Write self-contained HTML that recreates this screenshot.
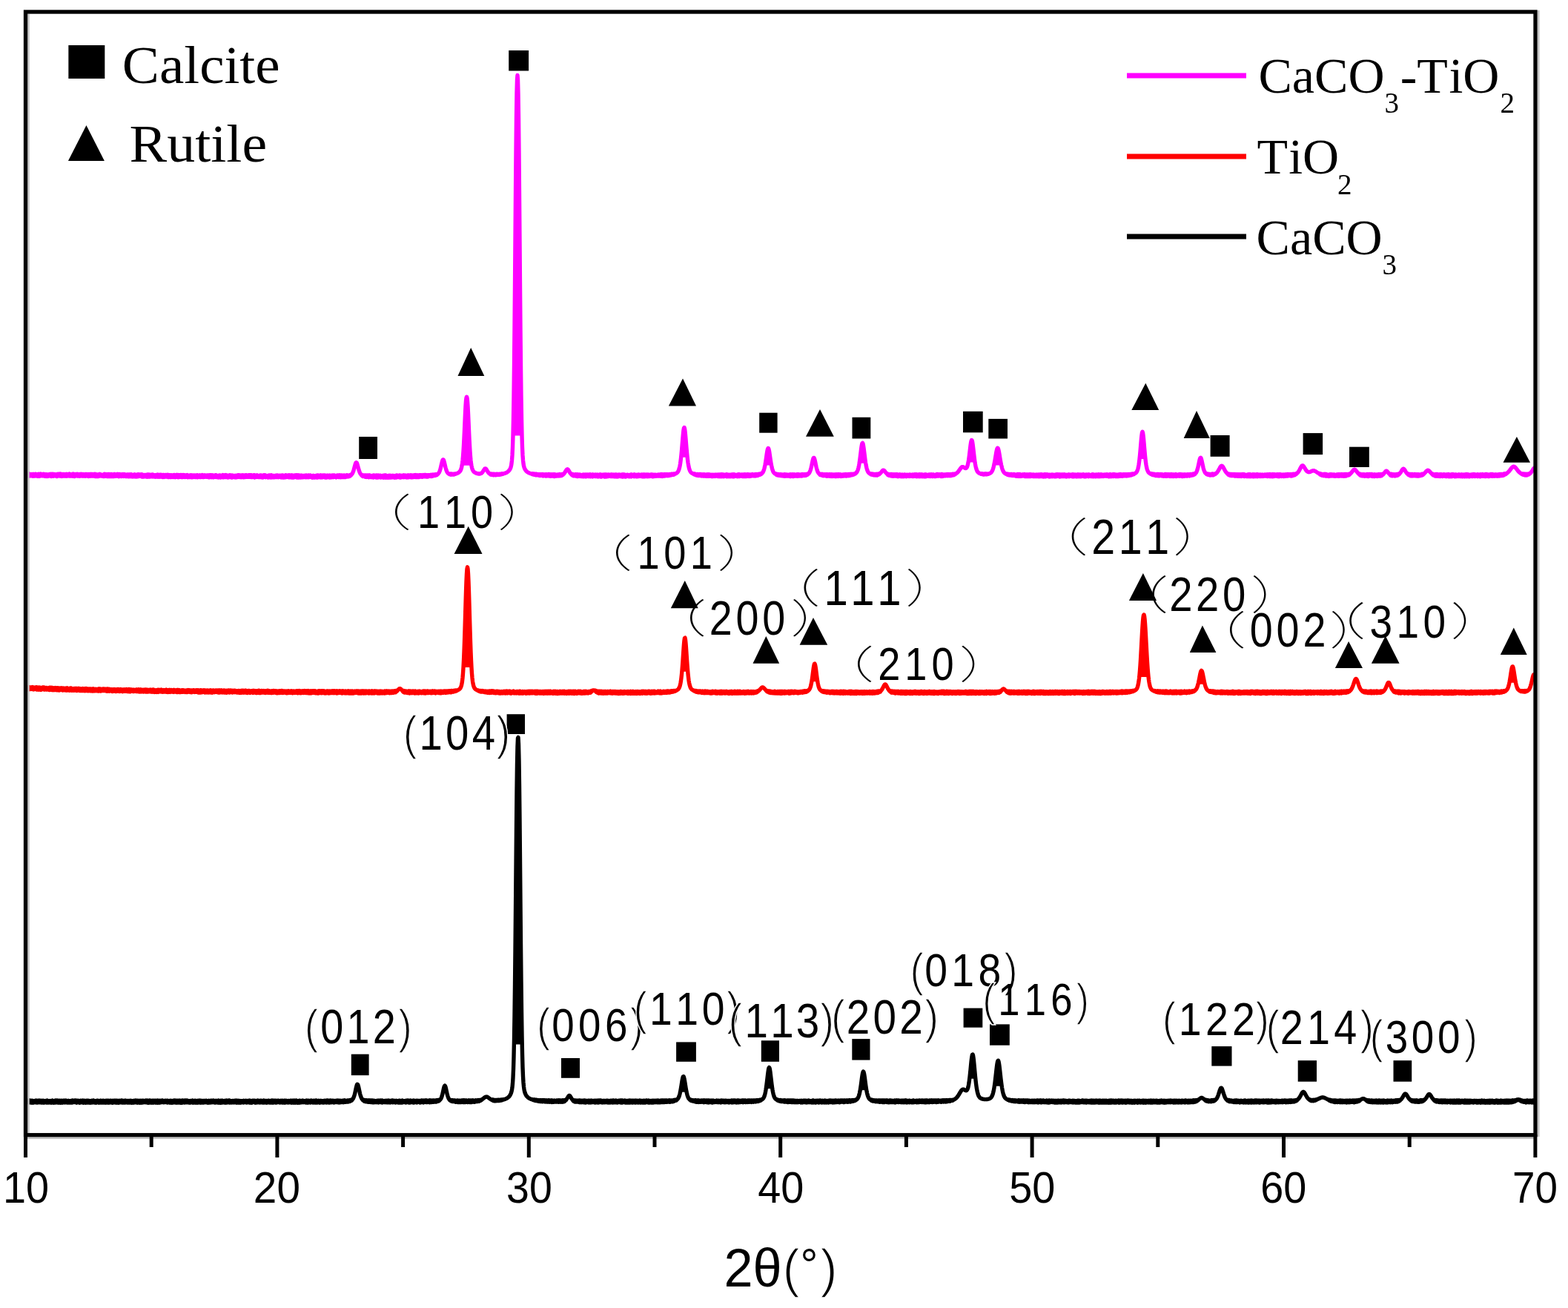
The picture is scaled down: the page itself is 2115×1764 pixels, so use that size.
<!DOCTYPE html><html><head><meta charset="utf-8"><title>XRD patterns</title>
<style>html,body{margin:0;padding:0;background:#fff;}svg{display:block;}text{font-kerning:none;font-feature-settings:"kern" 0;}.thin{stroke:#fff;stroke-width:1.6px;}</style></head><body>
<svg width="2115" height="1764" viewBox="0 0 2115 1764">
<rect width="2115" height="1764" fill="#fff"/>
<g fill="none" stroke-width="5.4" stroke-linejoin="round" stroke-linecap="butt">
<path stroke="#ff00ff" d="M36.0 639.1l.5 2.7l.5-2.5l.5 2.6l.5-2.4l.5 1.9l.5-2.5l.5 3.2l.5-2.9l.5 2.3l.5-1.6l.5 1.9l.5-2l.5 2l.5-2.2l.5 1.9l.5-1.9l.5 2.6l.5-2.7l.5 2.6l.5-2.5l.5 1.8l.5-1.7l.5 2.2l.5-2.7l.5 2.2l.5-1.6l.5 2l.5-2.1l.5 2.5l.5-2.5l.5 2.6l.5-3l.5 2.8l.5-2.7l.5 2.9l.5-2.5l.5 1.7l.5-2.4l.5 2.5l.5-1.7l.5 1.9l.5-2.2l.5 2.1l.5-2.2l.5 2.3l.5-2.5l.5 2.7l.5-2.4l.5 2.7l.5-2.6l.5 2.6l.5-2.5l.5 2.6l.5-2.7l.5 1.9l.5-1.7l.5 2.5l.5-2.5l.5 2.1l.5-2.3l.5 1.9l.5-1.8l.5 2.2l.5-2.7l.5 2.2l.5-1.6l.5 2.5l.5-3.3l.5 3.1l.5-2.8l.5 2.2l.5-2.3l.5 2.9l.5-2.3l.5 1.6l.5-1.9l.5 1.9l.5-1.7l.5 2l.5-1.9l.5 2.5l.5-2.9l.5 2.9l.5-3l.5 2.1l.5-1.9l.5 1.9l.5-2.3l.5 2.7l.5-2.2l.5 1.9l.5-2.5l.5 3.2l.5-2.9l.5 3l.5-2.4l.5 1.8l.5-2.3l.5 2.5l.5-2.3l.5 2.4l.5-2.5l.5 2.5l.5-2.1l.5 2l.5-2.5l.5 2.7l.5-2.9l.5 2.5l.5-1.7l.5 1.9l.5-2.4l.5 1.9l.5-2l.5 2.6l.5-3l.5 3l.5-2.4l.5 1.9l.5-1.9l.5 2.3l.5-2.2l.5 2.1l.5-2.1l.5 2.4l.5-3.1l.5 2.5l.5-1.8l.5 2.7l.5-3.1l.5 2.6l.5-2.3l.5 2.1l.5-2.3l.5 2.3l.5-2.3l.5 2.6l.5-2.7l.5 2.5l.5-2l.5 1.7l.5-1.9l.5 2.6l.5-2.8l.5 2.3l.5-1.8l.5 1.8l.5-2.5l.5 2.7l.5-2.1l.5 1.8l.5-2.2l.5 2.4l.5-1.9l.5 2l.5-2l.5 1.7l.5-2.2l.5 2.7l.5-2.1l.5 1.9l.5-2.6l.5 2.3l.5-2l.5 2.1l.5-1.8l.5 2.4l.5-3l.5 2.5l.5-1.9l.5 2.2l.5-2.2l.5 1.9l.5-2.6l.5 2.6l.5-1.9l.5 1.9l.5-2.3l.5 2.4l.5-2.4l.5 2.4l.5-1.9l.5 1.7l.5-2.6l.5 3.4l.5-2.5l.5 2.5l.5-2.9l.5 2.9l.5-2.4l.5 1.6l.5-1.8l.5 2.5l.5-2.6l.5 2.2l.5-2.6l.5 2.5l.5-2.5l.5 2.2l.5-1.9l.5 2.1l.5-1.8l.5 1.6l.5-1.5l.5 2.1l.5-2.1l.5 2.3l.5-2.3l.5 2l.5-2.9l.5 3.1l.5-3l.5 2.6l.5-2.1l.5 2.3l.5-2.5l.5 2.9l.5-2.7l.5 2.1l.5-2.5l.5 3l.5-2.7l.5 2.7l.5-2.9l.5 2.3l.5-2.1l.5 2.7l.5-3l.5 3l.5-2.3l.5 2.3l.5-2.4l.5 1.6l.5-1.7l.5 2.6l.5-3.2l.5 2.6l.5-2.4l.5 2.7l.5-2.5l.5 2.4l.5-2l.5 1.6l.5-2.4l.5 2.5l.5-2.4l.5 2.4l.5-1.5l.5 2.3l.5-3.2l.5 2.8l.5-2.5l.5 2.4l.5-2.4l.5 2.7l.5-2.5l.5 2.2l.5-2.5l.5 2.5l.5-2.6l.5 2.8l.5-2.2l.5 2.1l.5-2.7l.5 2.5l.5-2.2l.5 2.6l.5-2.2l.5 2l.5-2l.5 2.3l.5-2.6l.5 2.3l.5-2.2l.5 2.6l.5-2.7l.5 2.7l.5-2.6l.5 2.1l.5-2.1l.5 2.6l.5-3l.5 2.7l.5-2.3l.5 2.8l.5-2.3l.5 1.8l.5-1.8l.5 2.2l.5-2.9l.5 2.6l.5-2.7l.5 3.1l.5-2.5l.5 2.6l.5-2.5l.5 2.3l.5-2.4l.5 2.3l.5-2.9l.5 2.9l.5-3l.5 2.6l.5-1.8l.5 1.7l.5-2.3l.5 2.4l.5-1.6l.5 1.7l.5-2.6l.5 3.2l.5-3.1l.5 3.1l.5-2.5l.5 2.5l.5-2.2l.5 2l.5-2.2l.5 1.7l.5-1.7l.5 2.2l.5-2.2l.5 1.8l.5-1.8l.5 2.6l.5-3.3l.5 2.7l.5-2.1l.5 2.6l.5-3l.5 2.4l.5-2.3l.5 2.7l.5-2.2l.5 2l.5-2.4l.5 2.4l.5-2.4l.5 2.5l.5-2.8l.5 2.9l.5-2l.5 1.9l.5-2.1l.5 1.8l.5-1.8l.5 2.5l.5-2.5l.5 2.2l.5-2.4l.5 2.6l.5-2.2l.5 1.7l.5-2.5l.5 3.1l.5-2.2l.5 2l.5-2.5l.5 2.7l.5-2.9l.5 2.4l.5-2.4l.5 2.8l.5-2.7l.5 2.3l.5-1.9l.5 2.7l.5-3.1l.5 2.8l.5-2.6l.5 2.8l.5-2.7l.5 2.1l.5-2.4l.5 2.2l.5-1.9l.5 2.3l.5-2.6l.5 2.5l.5-2.4l.5 2.9l.5-3l.5 3.2l.5-2.9l.5 2.5l.5-2.5l.5 2.8l.5-2.4l.5 2.1l.5-2.5l.5 2.7l.5-2.3l.5 2l.5-2.1l.5 2.6l.5-2.8l.5 2.1l.5-2.4l.5 2.9l.5-2.4l.5 2.7l.5-2.5l.5 1.8l.5-2.5l.5 2.5l.5-2.5l.5 3l.5-2.3l.5 2.5l.5-3.1l.5 3l.5-2.9l.5 2.5l.5-2.1l.5 1.8l.5-2.4l.5 3.1l.5-2.9l.5 2.5l.5-2.2l.5 2.5l.5-3l.5 2.7l.5-2.3l.5 2.4l.5-2.6l.5 2.8l.5-2.1l.5 1.9l.5-2.3l.5 2l.5-2.2l.5 2.8l.5-3l.5 3.2l.5-2.4l.5 1.6l.5-1.6l.5 1.9l.5-2l.5 2.3l.5-2.8l.5 2.8l.5-2.4l.5 2.5l.5-2.9l.5 2.9l.5-2.2l.5 2.1l.5-2.5l.5 1.9l.5-2l.5 2.3l.5-2.1l.5 2.4l.5-2.5l.5 2l.5-1.9l.5 2.3l.5-2.8l.5 3.1l.5-2.6l.5 1.8l.5-1.5l.5 1.6l.5-2.2l.5 2.7l.5-2.5l.5 2.4l.5-2.3l.5 2.2l.5-2.5l.5 2.2l.5-2.5l.5 3l.5-2.3l.5 2.2l.5-2.2l.5 2l.5-2.5l.5 2.5l.5-1.9l.5 1.6l.5-1.9l.5 2.1l.5-1.9l.5 2l.5-2.4l.5 2.4l.5-2.2l.5 2.6l.5-2.8l.5 2.9l.5-3.1l.5 2.5l.5-2.5l.5 2.4l.5-1.8l.5 2.4l.5-2.9l.5 2.3l.5-2.1l.5 2.7l.5-2.3l.5 2.3l.5-2.5l.5 1.9l.5-2.1l.5 2.2l.5-2.1l.5 2.4l.5-2.7l.5 2.4l.5-1.8l.5 1.6l.5-1.6l.5 2.5l.5-2.4l.5 1.9l.5-2.3l.5 2.5l.5-2.4l.5 2.8l.5-2.7l.5 2l.5-1.8l.5 2l.5-2.3l.5 2.5l.5-3.1l.5 3.2l.5-2.5l.5 2.2l.5-2.4l.5 2.3l.5-2.6l.5 2.7l.5-2.9l.5 2.9l.5-2.2l.5 2.1l.5-2.2l.5 2.8l.5-2.5l.5 1.6l.5-1.7l.5 2.2l.5-2.9l.5 2.7l.5-2.5l.5 2.2l.5-1.9l.5 2.7l.5-3l.5 3l.5-2.6l.5 1.8l.5-1.6l.5 2.1l.5-2l.5 2.1l.5-2.3l.5 2l.5-2l.5 2.5l.5-2.4l.5 2l.5-2.1l.5 2.1l.5-2.7l.5 2.3l.5-2.4l.5 2.5l.5-2.4l.5 2.7l.5-2.2l.5 2.3l.5-2.5l.5 2.6l.5-2.7l.5 2.5l.5-2.1l.5 2l.5-2.6l.5 3.1l.5-2.5l.5 2l.5-2.4l.5 2.6l.5-2.3l.5 2l.5-2.6l.5 2.6l.5-1.9l.5 1.8l.5-2.1l.5 2.1l.5-2.3l.5 2.3l.5-2.1l.5 2.1l.5-2.5l.5 2.5l.5-2.4l.5 2.7l.5-2.8l.5 2.4l.5-2l.5 2.4l.5-2.1l.5 1.7l.5-2l.5 2.4l.5-2.8l.5 3.3l.5-3.1l.5 2.3l.5-2l.5 2l.5-1.9l.5 2.1l.5-2.6l.5 2.3l.5-1.7l.5 2l.5-1.9l.5 2l.5-1.9l.5 1.8l.5-2.4l.5 2.3l.5-1.8l.5 2.2l.5-2.6l.5 2.1l.5-1.8l.5 2.7l.5-2.8l.5 1.8l.5-2.4l.5 2.5l.5-2.3l.5 2.2l.5-2.3l.5 2.9l.5-2.1l.5 1.7l.5-1.6l.5 1.9l.5-2.1l.5 2.5l.5-2.3l.5 1.4l.5-2.1l.5 2.7l.5-2l.5 1.5l.5-2.2l.5 3l.5-3.2l.5 2.7l.5-2.4l.5 2.7l.5-2.1l.5 1.6l.5-1.8l.5 2.3l.5-2.2l.5 2.1l.5-2l.5 1.8l.5-2.3l.5 2.2l.5-1.9l.5 2.1l.5-2.6l.5 2.3l.5-1.8l.5 2.2l.5-2.2l.5 2l.5-2.3l.5 2.1l.5-1.8l.5 1.7l.5-2l.5 2.7l.5-2.5l.5 1.8l.5-2.2l.5 3l.5-2.6l.5 2.6l.5-2.4l.5 2l.5-1.9l.5 2.2l.5-2.8l.5 2.4l.5-2.7l.5 2.7l.5-1.8l.5 1.6l.5-2l.5 2l.5-2.4l.5 2.9l.5-2.8l.5 2.2l.5-2.3l.5 2.9l.5-2.4l.5 1.8l.5-2.2l.5 3.1l.5-3.1l.5 2.7l.5-2.5l.5 2.7l.5-2.5l.5 2.5l.5-2.6l.5 2.1l.5-2.4l.5 2.2l.5-1.6l.5 1.7l.5-2.5l.5 3.3l.5-3.1l.5 3.1l.5-3.2l.5 2.7l.5-2.6l.5 3l.5-2.6l.5 2.4l.5-2.2l.5 2.4l.5-2.8l.5 2.6l.5-2.5l.5 2l.5-1.7l.5 2.2l.5-2.2l.5 1.8l.5-2l.5 2.2l.5-2.1l.5 1.8l.5-2.1l.5 2.5l.5-2.8l.5 2.8l.5-2.1l.5 2l.5-2.1l.5 2.3l.5-2.8l.5 2.5l.5-1.7l.5 1.7l.5-2.2l.5 2l.5-2.2l.5 2.3l.5-1.6l.5 2.1l.5-2.2l.5 2.5l.5-2.8l.5 2.7l.5-2.7l.5 2.2l.5-1.8l.5 2.3l.5-2.3l.5 1.9l.5-2.1l.5 2l.5-1.8l.5 2.3l.5-3l.5 3l.5-3.1l.5 2.3l.5-1.7l.5 1.9l.5-2.1l.5 2.4l.5-2.9l.5 3l.5-2.8l.5 2.5l.5-2.4l.5 2.7l.5-2.3l.5 1.9l.5-2.5l.5 2.5l.5-2.2l.5 2l.5-2.3l.5 2.9l.5-2.4l.5 2.6l.5-2.3l.5 2.2l.5-2.8l.5 2.1l.5-2.1l.5 2.4l.5-2.2l.5 2.3l.5-2.5l.5 2.8l.5-2.9l.5 2.5l.5-1.9l.5 2.2l.5-2.7l.5 2.2l.5-1.8l.5 1.6l.5-2.2l.5 2.7l.5-2.3l.5 1.9l.5-2.4l.5 2.4l.5-1.7l.5 2l.5-1.8l.5 2.1l.5-2.1l.5 1.3l.5-2.1l.5 2.1l.5-1.8l.5 2.1l.5-2.5l.5 2.7l.5-2.7l.5 2.4l.5-2.2l.5 2.7l.5-2.6l.5 2l.5-2.3l.5 2.5l.5-2l.5 2.1l.5-1.9l.5 2l.5-2.6l.5 2l.5-1.6l.5 2.1l.5-2.3l.5 2.2l.5-2.2l.5 1.7l.5-2.1l.5 1.7l.5-1.4l.5 1.9l.5-1.8l.5 1.3l.5-1.5l.5 1.5l.5-1.6l.5 .9l.5-1.4l.5 .6l.5-1.1l.5-.2l.5-.7l.5-.8l.5-1.1l.5-1.3l.5-1.5l.5-1.7l.5-1.9l.5-1.9l.5-1.8l.5-1.7l.5-1.1l.5-.5l.5 .2l.5 .9l.5 1.5l.5 1.8l.5 1.9l.5 1.9l.5 1.8l.5 1.5l.5 1.4l.5 1.2l.5 .9l.5 .8l.5 .4l.5 1l.5-.6l.5 1.4l.5-.8l.5 1.6l.5-1.6l.5 1.4l.5-1l.5 1.2l.5-1.5l.5 2.2l.5-2.2l.5 1.9l.5-1.4l.5 2l.5-2.4l.5 2l.5-2l.5 1.9l.5-1.9l.5 2.7l.5-2.9l.5 2.3l.5-2.1l.5 2l.5-1.7l.5 2.3l.5-2l.5 1.9l.5-1.9l.5 1.4l.5-1.9l.5 2.8l.5-3l.5 2.4l.5-2l.5 2l.5-1.9l.5 1.7l.5-2l.5 2.9l.5-3l.5 2.9l.5-2.9l.5 3l.5-2.5l.5 2.2l.5-2.7l.5 2.2l.5-1.6l.5 1.7l.5-2.2l.5 2.8l.5-2.2l.5 1.5l.5-1.4l.5 1.9l.5-2.4l.5 2l.5-2l.5 2.8l.5-2.9l.5 2.1l.5-2.3l.5 2.3l.5-2.1l.5 2.9l.5-3.1l.5 2.4l.5-1.6l.5 2.3l.5-2.3l.5 1.6l.5-2.1l.5 2.8l.5-2.7l.5 2.5l.5-2.7l.5 2l.5-1.9l.5 2.6l.5-2.2l.5 2l.5-2.3l.5 2.3l.5-2.3l.5 2.3l.5-2l.5 1.7l.5-1.9l.5 2.6l.5-2.4l.5 1.6l.5-1.5l.5 2.1l.5-2.9l.5 2.4l.5-2.4l.5 2.2l.5-1.4l.5 1.7l.5-1.9l.5 1.6l.5-2.4l.5 3.1l.5-2.4l.5 2.5l.5-2.6l.5 2.1l.5-2l.5 1.6l.5-1.8l.5 2.1l.5-2.5l.5 2.7l.5-2.6l.5 2.4l.5-2.3l.5 2.2l.5-2.3l.5 2.5l.5-1.9l.5 2.2l.5-2.3l.5 2.2l.5-2.8l.5 2.9l.5-2.9l.5 2.1l.5-1.9l.5 2.4l.5-2.6l.5 2.5l.5-2.6l.5 2.9l.5-2.7l.5 2.2l.5-2.2l.5 2.6l.5-2.2l.5 1.8l.5-2.3l.5 2.4l.5-2.7l.5 2.5l.5-1.8l.5 2.1l.5-2.9l.5 2.9l.5-2.6l.5 2.7l.5-2.7l.5 2l.5-1.9l.5 2.5l.5-2.6l.5 2.5l.5-2.3l.5 1.9l.5-2.3l.5 2.3l.5-2.2l.5 2.1l.5-1.9l.5 2.3l.5-2.4l.5 1.7l.5-2l.5 2.2l.5-1.9l.5 1.7l.5-2.2l.5 2.3l.5-2.1l.5 1.8l.5-1.6l.5 2.3l.5-2.4l.5 2.2l.5-2l.5 2l.5-1.9l.5 1.5l.5-1.8l.5 1.5l.5-1.3l.5 1.4l.5-1.8l.5 2.1l.5-2.3l.5 1.7l.5-1.4l.5 1.6l.5-2.1l.5 1.5l.5-1.4l.5 1.3l.5-1.1l.5 1l.5-1.5l.5 1.4l.5-1.4l.5 1l.5-1.1l.5 .7l.5-1.1l.5 .1l.5-.6l.5-.5l.5-.8l.5-.9l.5-1.2l.5-1.4l.5-1.7l.5-1.9l.5-2.1l.5-2.2l.5-2.1l.5-2l.5-1.4l.5-.8l.5 .1l.5 .8l.5 1.6l.5 1.9l.5 2.1l.5 2.2l.5 2l.5 1.8l.5 1.6l.5 1.3l.5 1.1l.5 .8l.5 .7l.5 .5l.5 .4l.5 .3l.5 0l.5 .6l.5-.5l.5 .6l.5-.6l.5 .9l.5-.9l.5 .8l.5-.7l.5 .6l.5-.6l.5 .7l.5-.7l.5 .5l.5-.8l.5 .4l.5-.4l.5 .2l.5-.4l.5 0l.5-.2l.5-.2l.5-.2l.5-.2l.5-.3l.5-.3l.5-.4l.5-.4l.5-.5l.5-.6l.5-.8l.5-1l.5-1.3l.5-1.7l.5-2.3l.5-3.2l.5-4.1l.5-5.4l.5-6.7l.5-8.3l.5-9.7l.5-10.8l.5-11.5l.5-11.2l.5-9.6l.5-7.2l.5-4.1l.5-1.4l.5 1.4l.5 4.1l.5 7.2l.5 9.6l.5 11.2l.5 11.4l.5 10.9l.5 9.7l.5 8.2l.5 6.8l.5 5.3l.5 4.2l.5 3.1l.5 2.3l.5 1.8l.5 1.2l.5 1l.5 .8l.5 .6l.5 .5l.5 .4l.5 .3l.5 .3l.5 .3l.5 .2l.5 .2l.5 .2l.5 .1l.5 .1l.5 .2l.5 0l.5 .2l.5-.2l.5 .3l.5-.3l.5 .2l.5-.3l.5-.1l.5-.2l.5-.3l.5-.4l.5-.5l.5-.7l.5-.7l.5-.8l.5-.8l.5-.8l.5-.7l.5-.6l.5-.2l.5 0l.5 .4l.5 .6l.5 .8l.5 .9l.5 .8l.5 .8l.5 .8l.5 .6l.5 .6l.5 .4l.5 .5l.5-.2l.5 .9l.5-.7l.5 1l.5-.9l.5 1.1l.5-.9l.5 .9l.5-1.1l.5 1.4l.5-1.3l.5 1.3l.5-1.3l.5 1.1l.5-.9l.5 1.3l.5-1.2l.5 .9l.5-1.1l.5 .9l.5-1l.5 1l.5-.8l.5 .6l.5-.6l.5 .7l.5-1l.5 .7l.5-.6l.5 .5l.5-.7l.5 .6l.5-.8l.5 .5l.5-.4l.5 .2l.5-.4l.5 0l.5-.2l.5-.2l.5-.1l.5-.2l.5-.2l.5-.2l.5-.3l.5-.2l.5-.3l.5-.4l.5-.3l.5-.5l.5-.4l.5-.6l.5-.6l.5-.7l.5-.9l.5-1l.5-1.4l.5-2l.5-2.9l.5-4.4l.5-6.9l.5-10.5l.5-15.8l.5-22.6l.5-31l.5-40.2l.5-49.4l.5-57.2l.5-62l.5-62.4l.5-57.2l.5-46.7l.5-32.8l.5-18.7l.5-6l.5 6l.5 18.7l.5 32.8l.5 46.7l.5 57.2l.5 62.4l.5 62l.5 57.2l.5 49.4l.5 40.3l.5 31l.5 22.6l.5 15.7l.5 10.6l.5 6.8l.5 4.5l.5 2.9l.5 1.9l.5 1.4l.5 1.1l.5 .9l.5 .7l.5 .6l.5 .6l.5 .4l.5 .5l.5 .3l.5 .4l.5 .3l.5 .3l.5 .2l.5 .2l.5 .2l.5 .2l.5 .2l.5 .1l.5 .3l.5-.1l.5 .5l.5-.5l.5 .8l.5-.5l.5 .7l.5-.8l.5 1.1l.5-1.1l.5 1.2l.5-.9l.5 1.2l.5-1.1l.5 1.1l.5-1.3l.5 1.3l.5-1.1l.5 1.3l.5-1.1l.5 1.3l.5-1.2l.5 1.5l.5-1.5l.5 1.6l.5-1.6l.5 1.5l.5-1.6l.5 1.5l.5-1.2l.5 1.5l.5-1.9l.5 2.3l.5-2l.5 1.8l.5-1.8l.5 1.5l.5-1.1l.5 1.2l.5-1.7l.5 2.3l.5-2.4l.5 2.1l.5-1.8l.5 1.6l.5-1.3l.5 1.5l.5-2.2l.5 2.3l.5-2.3l.5 2.5l.5-1.8l.5 2l.5-2.6l.5 2.4l.5-2.2l.5 2l.5-2l.5 1.9l.5-2.1l.5 2.4l.5-2.4l.5 2.7l.5-2.7l.5 2.7l.5-2.6l.5 1.8l.5-1.4l.5 1.8l.5-1.8l.5 1.7l.5-1.8l.5 1.5l.5-1.5l.5 1.8l.5-1.6l.5 1.1l.5-1.8l.5 2.2l.5-1.6l.5 1.3l.5-1.5l.5 1.4l.5-1.8l.5 1.3l.5-1.4l.5 .6l.5-1.1l.5 .2l.5-.7l.5-.7l.5-.7l.5-.8l.5-.8l.5-.9l.5-.8l.5-.6l.5-.3l.5-.1l.5 .3l.5 .6l.5 .8l.5 .8l.5 .9l.5 .8l.5 .8l.5 .6l.5 .4l.5 .9l.5-.2l.5 1.2l.5-1.2l.5 1.7l.5-1.7l.5 2.3l.5-1.7l.5 1.6l.5-1.5l.5 1.5l.5-1.9l.5 2l.5-2l.5 2.4l.5-2l.5 2.2l.5-2.6l.5 2.6l.5-2.3l.5 2l.5-1.9l.5 2l.5-2.3l.5 2.3l.5-1.9l.5 2.2l.5-1.9l.5 1.5l.5-1.6l.5 2.1l.5-2.2l.5 2.4l.5-2.9l.5 2.8l.5-2.1l.5 1.5l.5-1.8l.5 2.5l.5-2.8l.5 2.8l.5-2.2l.5 1.8l.5-2.5l.5 2.3l.5-1.7l.5 1.9l.5-2.3l.5 2.3l.5-1.8l.5 1.7l.5-2.5l.5 3.1l.5-2.8l.5 2.3l.5-1.7l.5 1.6l.5-2.4l.5 3l.5-2.9l.5 2.2l.5-1.5l.5 1.6l.5-1.7l.5 1.8l.5-2.3l.5 2.2l.5-2l.5 2.3l.5-2.4l.5 2.3l.5-2.4l.5 2.8l.5-2.2l.5 2.1l.5-2.2l.5 1.5l.5-2.1l.5 2.3l.5-2.4l.5 3.1l.5-2.3l.5 2.2l.5-2.6l.5 1.9l.5-2l.5 1.9l.5-1.4l.5 1.6l.5-2.2l.5 2.9l.5-3l.5 3l.5-2.9l.5 2.6l.5-2.8l.5 3l.5-2.7l.5 2.2l.5-2l.5 2.2l.5-2.6l.5 2.2l.5-1.9l.5 1.8l.5-1.5l.5 1.8l.5-2.4l.5 2.4l.5-2.5l.5 2.5l.5-2.1l.5 2.2l.5-2.4l.5 2.3l.5-2.1l.5 2.5l.5-2.6l.5 2.6l.5-2.5l.5 1.9l.5-2.2l.5 2.9l.5-2.6l.5 2.2l.5-2.2l.5 2.6l.5-2.7l.5 2.2l.5-2.3l.5 2l.5-1.8l.5 2.2l.5-2.2l.5 2.2l.5-2.3l.5 2.6l.5-2.8l.5 3l.5-3.1l.5 3l.5-2.9l.5 2.8l.5-2.8l.5 2.2l.5-1.9l.5 2.6l.5-2.3l.5 2.3l.5-2.2l.5 1.4l.5-1.9l.5 2l.5-1.7l.5 2l.5-2l.5 2.3l.5-2.1l.5 2l.5-2.1l.5 2l.5-2.7l.5 3l.5-3l.5 2.2l.5-1.5l.5 1.7l.5-1.9l.5 1.7l.5-2.1l.5 2.7l.5-2.9l.5 2.7l.5-1.8l.5 1.6l.5-1.9l.5 2.3l.5-2.3l.5 2.4l.5-2.4l.5 1.7l.5-2.1l.5 2.5l.5-1.8l.5 1.5l.5-1.9l.5 1.8l.5-1.5l.5 1.8l.5-2.1l.5 2.3l.5-2.7l.5 2.8l.5-2.2l.5 2.3l.5-2.8l.5 2.2l.5-2.3l.5 2.9l.5-2.6l.5 2.2l.5-2.2l.5 2.4l.5-2.6l.5 2.3l.5-1.8l.5 2.2l.5-2.7l.5 2l.5-1.4l.5 2l.5-2.3l.5 2l.5-1.7l.5 1.7l.5-2.4l.5 2.1l.5-1.9l.5 2.4l.5-2.4l.5 2.7l.5-2.5l.5 2l.5-2l.5 2.1l.5-2.1l.5 2l.5-2.1l.5 2.1l.5-1.9l.5 1.6l.5-1.6l.5 1.7l.5-1.7l.5 1.4l.5-1.7l.5 2l.5-1.8l.5 1.6l.5-2l.5 1.9l.5-1.7l.5 2.1l.5-2.6l.5 2.2l.5-2l.5 2.6l.5-2.4l.5 2l.5-2.2l.5 2.3l.5-1.9l.5 1.8l.5-2.4l.5 2.2l.5-1.9l.5 1.5l.5-1.3l.5 1.4l.5-1.8l.5 2l.5-1.8l.5 1.6l.5-1.5l.5 1.4l.5-1.8l.5 1.3l.5-1.2l.5 1.3l.5-1.4l.5 1.2l.5-1.6l.5 1.2l.5-1.2l.5 1l.5-.8l.5 .8l.5-1.1l.5 .7l.5-.8l.5 .2l.5-.4l.5-.1l.5-.3l.5-.3l.5-.4l.5-.4l.5-.5l.5-.7l.5-.9l.5-1.1l.5-1.5l.5-1.8l.5-2.3l.5-2.9l.5-3.5l.5-4.1l.5-4.8l.5-5.3l.5-5.9l.5-6.1l.5-6l.5-5.5l.5-4.5l.5-2.7l.5-.7l.5 1.6l.5 3.4l.5 5l.5 5.8l.5 6.1l.5 6l.5 5.7l.5 5.1l.5 4.5l.5 3.9l.5 3.2l.5 2.7l.5 2.1l.5 1.6l.5 1.3l.5 1.1l.5 .8l.5 .6l.5 .5l.5 .4l.5 .3l.5 .3l.5 .3l.5 0l.5 .5l.5-.3l.5 .8l.5-.7l.5 1.1l.5-.9l.5 1.4l.5-1.1l.5 1.1l.5-1l.5 1.4l.5-1.7l.5 1.9l.5-1.4l.5 1.6l.5-1.6l.5 1.4l.5-1.7l.5 2l.5-2l.5 2.2l.5-1.9l.5 2l.5-2.1l.5 1.8l.5-1.4l.5 1.7l.5-2.1l.5 2.1l.5-2l.5 2.1l.5-2l.5 1.8l.5-1.4l.5 1.9l.5-2.1l.5 1.7l.5-2.1l.5 2.5l.5-2l.5 1.9l.5-2.4l.5 2.5l.5-2.2l.5 2l.5-1.9l.5 1.9l.5-1.9l.5 2.2l.5-1.9l.5 1.4l.5-1.7l.5 2.4l.5-2.3l.5 2l.5-1.9l.5 1.5l.5-1.5l.5 2l.5-2.2l.5 1.9l.5-1.8l.5 1.7l.5-1.8l.5 1.9l.5-1.6l.5 2.1l.5-2.5l.5 2.5l.5-2.5l.5 2.3l.5-2.5l.5 2.8l.5-2.3l.5 2.2l.5-2.8l.5 2.9l.5-3l.5 2.7l.5-2.2l.5 1.8l.5-1.9l.5 2.6l.5-2.4l.5 1.9l.5-1.7l.5 1.8l.5-1.8l.5 1.8l.5-2.5l.5 3l.5-3l.5 2.4l.5-1.8l.5 1.6l.5-1.8l.5 2.5l.5-2.4l.5 2l.5-1.9l.5 2.3l.5-2.4l.5 2.2l.5-2.5l.5 2.3l.5-1.7l.5 2.2l.5-3.1l.5 2.4l.5-2.2l.5 2.8l.5-2.8l.5 2.2l.5-1.7l.5 1.7l.5-1.5l.5 1.7l.5-1.8l.5 2.2l.5-2.8l.5 2.7l.5-2.5l.5 2l.5-2.4l.5 2.8l.5-2.3l.5 2l.5-1.7l.5 1.6l.5-2l.5 1.8l.5-1.9l.5 2.6l.5-2.5l.5 1.9l.5-2.1l.5 2.5l.5-2.5l.5 2.7l.5-2.9l.5 2.9l.5-2.4l.5 2.3l.5-2.5l.5 1.8l.5-2l.5 2.5l.5-2.6l.5 2.1l.5-1.5l.5 2.1l.5-2.1l.5 2l.5-2.2l.5 2.2l.5-2.1l.5 1.8l.5-2.1l.5 1.6l.5-1.9l.5 2.1l.5-1.8l.5 1.6l.5-1.2l.5 1.5l.5-1.8l.5 1.9l.5-2.3l.5 2.2l.5-1.7l.5 1.1l.5-1.7l.5 1.9l.5-1.5l.5 1.3l.5-1.7l.5 1.3l.5-1.6l.5 1.1l.5-1.1l.5 .9l.5-1.2l.5 .7l.5-.9l.5-.1l.5-.4l.5-.6l.5-.7l.5-.9l.5-1.2l.5-1.4l.5-1.8l.5-2.1l.5-2.5l.5-2.9l.5-3.1l.5-3.4l.5-3.5l.5-3.4l.5-2.9l.5-2.2l.5-1.1l.5 .1l.5 1.4l.5 2.3l.5 3.1l.5 3.4l.5 3.5l.5 3.3l.5 3.1l.5 2.8l.5 2.5l.5 2l.5 1.7l.5 1.4l.5 1.1l.5 .8l.5 .7l.5 .5l.5 .4l.5 .5l.5-.1l.5 .7l.5-.5l.5 1.2l.5-1.1l.5 1.5l.5-1.3l.5 1.6l.5-1.5l.5 1.6l.5-1.4l.5 1.2l.5-1.3l.5 1.7l.5-1.7l.5 1.9l.5-1.5l.5 1.7l.5-1.7l.5 1.3l.5-1.4l.5 1.9l.5-1.6l.5 1.1l.5-1.7l.5 2.6l.5-2.4l.5 2.2l.5-2l.5 1.8l.5-2l.5 2.1l.5-1.6l.5 1.6l.5-1.7l.5 1.6l.5-1.7l.5 1.9l.5-1.9l.5 2.2l.5-2.7l.5 2.8l.5-2.4l.5 1.8l.5-1.9l.5 1.7l.5-1.9l.5 2.6l.5-2.2l.5 2.2l.5-2.6l.5 2l.5-1.9l.5 2.2l.5-1.9l.5 1.7l.5-1.7l.5 1.9l.5-2.3l.5 2.5l.5-2.6l.5 2.4l.5-2.4l.5 1.9l.5-1.6l.5 2l.5-1.9l.5 1.7l.5-1.5l.5 1.8l.5-2.4l.5 1.7l.5-1.2l.5 1.4l.5-2l.5 1.8l.5-1.4l.5 1.3l.5-1.6l.5 1.8l.5-1.9l.5 1.6l.5-1.3l.5 1.2l.5-1.6l.5 1.1l.5-1.4l.5 .8l.5-1l.5 .1l.5-.7l.5-.6l.5-.8l.5-1.1l.5-1.3l.5-1.5l.5-1.9l.5-2.1l.5-2.3l.5-2.4l.5-2.4l.5-2.1l.5-1.7l.5-.8l.5 .1l.5 1l.5 1.7l.5 2.2l.5 2.5l.5 2.4l.5 2.3l.5 2l.5 1.8l.5 1.5l.5 1.3l.5 .9l.5 .8l.5 .6l.5 .3l.5 .9l.5-.6l.5 1.4l.5-1.2l.5 1.4l.5-1l.5 1.2l.5-1.5l.5 2.1l.5-1.9l.5 2.1l.5-1.7l.5 1.5l.5-1.8l.5 1.7l.5-1.2l.5 1.5l.5-1.9l.5 1.8l.5-1.9l.5 2.5l.5-2.5l.5 2.3l.5-1.9l.5 1.9l.5-2l.5 1.9l.5-2.2l.5 2.6l.5-2l.5 1.8l.5-2.3l.5 2.6l.5-2.6l.5 2l.5-1.7l.5 2.3l.5-2.3l.5 1.7l.5-1.4l.5 1.4l.5-1.9l.5 2.6l.5-2.2l.5 2l.5-2.6l.5 2.7l.5-2.4l.5 1.7l.5-1.4l.5 2.1l.5-2.8l.5 2.4l.5-1.6l.5 1.5l.5-2.1l.5 2.5l.5-2.3l.5 2.4l.5-2.1l.5 2l.5-2.1l.5 1.5l.5-1.6l.5 1.9l.5-2.1l.5 2l.5-2.1l.5 1.8l.5-1.4l.5 1.5l.5-2.1l.5 2.5l.5-2.2l.5 1.9l.5-2.1l.5 1.6l.5-1.6l.5 2l.5-2.1l.5 2l.5-2l.5 1.9l.5-2.1l.5 1.6l.5-1.7l.5 1.4l.5-1.2l.5 1.1l.5-1.2l.5 .9l.5-1.1l.5 .8l.5-.8l.5 .3l.5-.7l.5 .2l.5-.5l.5-.3l.5-.5l.5-.6l.5-.8l.5-.9l.5-1.3l.5-1.5l.5-2l.5-2.3l.5-2.8l.5-3.3l.5-3.6l.5-4l.5-4.1l.5-4.1l.5-3.7l.5-3l.5-1.9l.5-.4l.5 1l.5 2.4l.5 3.3l.5 3.9l.5 4.1l.5 4.1l.5 3.9l.5 3.5l.5 3l.5 2.6l.5 2.2l.5 1.8l.5 1.4l.5 1.1l.5 .9l.5 .7l.5 .5l.5 .4l.5 .3l.5 .5l.5-.1l.5 .7l.5-.6l.5 .9l.5-.7l.5 1l.5-1l.5 1.2l.5-1.1l.5 1.5l.5-1.3l.5 1.3l.5-1.3l.5 1.4l.5-1.3l.5 1l.5-.9l.5 1.2l.5-1.5l.5 1.6l.5-1.5l.5 .9l.5-1.3l.5 .9l.5-1l.5 .2l.5-.7l.5-.4l.5-.5l.5-.6l.5-.6l.5-.7l.5-.6l.5-.5l.5-.4l.5-.1l.5 0l.5 .4l.5 .4l.5 .6l.5 .7l.5 .7l.5 .6l.5 .6l.5 .5l.5 .7l.5-.4l.5 1.4l.5-.9l.5 1.6l.5-1.2l.5 1.5l.5-1.5l.5 1.6l.5-1.6l.5 2l.5-2.3l.5 2.4l.5-2l.5 1.8l.5-1.9l.5 2.5l.5-2.4l.5 1.9l.5-2l.5 2.3l.5-2.2l.5 2.1l.5-2.1l.5 2l.5-1.8l.5 2.2l.5-2.6l.5 2.6l.5-2.4l.5 2.8l.5-2.2l.5 1.4l.5-1.6l.5 1.8l.5-2.3l.5 2.8l.5-2.1l.5 2.1l.5-2.4l.5 2.5l.5-2.5l.5 2.3l.5-2.2l.5 2.4l.5-2.2l.5 1.7l.5-2.3l.5 2.5l.5-2.2l.5 2l.5-1.7l.5 2.2l.5-2.4l.5 2.1l.5-2.1l.5 1.8l.5-1.7l.5 1.6l.5-1.5l.5 2l.5-2.6l.5 2.2l.5-1.9l.5 2.1l.5-2l.5 1.7l.5-1.5l.5 1.8l.5-2.2l.5 2.5l.5-2.4l.5 2.1l.5-2.3l.5 2.3l.5-2.6l.5 2.5l.5-1.7l.5 1.5l.5-2.2l.5 2.9l.5-2.7l.5 2.4l.5-2.2l.5 2.4l.5-2.6l.5 2.6l.5-2.9l.5 3l.5-2.7l.5 2.5l.5-2.5l.5 2.6l.5-2.6l.5 2.5l.5-2.5l.5 2.7l.5-2.3l.5 1.7l.5-1.7l.5 2.4l.5-2.9l.5 2.2l.5-1.6l.5 2.3l.5-3l.5 2.8l.5-2.1l.5 1.6l.5-1.7l.5 1.7l.5-1.7l.5 1.9l.5-2.2l.5 1.9l.5-1.7l.5 2.2l.5-2.6l.5 2l.5-2.2l.5 2.4l.5-1.5l.5 1.9l.5-2l.5 2l.5-2.7l.5 2.4l.5-1.7l.5 2.1l.5-2.1l.5 2l.5-2.2l.5 2.1l.5-2l.5 1.7l.5-2.5l.5 2.4l.5-2.4l.5 2.4l.5-1.9l.5 1.8l.5-2.1l.5 2l.5-1.9l.5 2.2l.5-2l.5 2.4l.5-2.9l.5 2.2l.5-2.2l.5 2.8l.5-2.3l.5 2l.5-1.9l.5 1.3l.5-1.2l.5 1.5l.5-1.8l.5 1.8l.5-1.7l.5 1.5l.5-1.9l.5 1.9l.5-1.6l.5 1.7l.5-2.1l.5 1.9l.5-1.7l.5 1.6l.5-1.6l.5 1.9l.5-1.9l.5 1.7l.5-2l.5 1.9l.5-1.5l.5 1.1l.5-1.8l.5 1.4l.5-1.1l.5 1.2l.5-1.3l.5 .7l.5-1l.5 .4l.5-.7l.5 .1l.5-.5l.5-.4l.5-.4l.5-.4l.5-.6l.5-.5l.5-.7l.5-.6l.5-.7l.5-.8l.5-.7l.5-.7l.5-.6l.5-.6l.5-.5l.5-.4l.5-.2l.5 0l.5 .1l.5 .2l.5 .3l.5 .3l.5 .4l.5 .3l.5 .2l.5 .1l.5-.1l.5-.3l.5-.6l.5-1l.5-1.4l.5-1.9l.5-2.3l.5-2.9l.5-3.4l.5-3.8l.5-4.2l.5-4.3l.5-4.1l.5-3.6l.5-2.7l.5-1.3l.5 .2l.5 1.7l.5 3.1l.5 3.9l.5 4.3l.5 4.5l.5 4.2l.5 4l.5 3.6l.5 3.1l.5 2.6l.5 2.2l.5 1.7l.5 1.4l.5 1.1l.5 .9l.5 .6l.5 .5l.5 .4l.5 .4l.5 .2l.5 .2l.5 .2l.5 .3l.5-.1l.5 .5l.5-.4l.5 .5l.5-.5l.5 .8l.5-.6l.5 .8l.5-.9l.5 .8l.5-.6l.5 .5l.5-.8l.5 .8l.5-.6l.5 .6l.5-.6l.5 .6l.5-.7l.5 .3l.5-.4l.5 .3l.5-.5l.5 .1l.5-.3l.5-.3l.5-.3l.5-.4l.5-.5l.5-.6l.5-.8l.5-.9l.5-1.2l.5-1.4l.5-1.7l.5-2l.5-2.2l.5-2.6l.5-2.7l.5-3l.5-3l.5-3l.5-2.8l.5-2.3l.5-1.7l.5-.9l.5 .1l.5 1.1l.5 1.8l.5 2.5l.5 2.8l.5 3.1l.5 3l.5 3l.5 2.7l.5 2.5l.5 2.2l.5 1.9l.5 1.7l.5 1.4l.5 1.1l.5 .9l.5 .8l.5 .6l.5 .5l.5 .4l.5 .2l.5 .5l.5-.1l.5 .6l.5-.3l.5 .8l.5-.7l.5 1.2l.5-1.3l.5 1.4l.5-1.1l.5 1.2l.5-1.2l.5 1.6l.5-1.2l.5 1.1l.5-1.6l.5 1.9l.5-1.5l.5 1.6l.5-1.4l.5 1.3l.5-1.5l.5 1.8l.5-2l.5 2l.5-1.8l.5 1.8l.5-1.5l.5 2.1l.5-1.9l.5 1.3l.5-1.8l.5 2.5l.5-2.7l.5 2l.5-2l.5 2.8l.5-2.4l.5 2l.5-2.4l.5 2.8l.5-2l.5 1.8l.5-1.8l.5 1.8l.5-2.3l.5 1.9l.5-1.9l.5 1.9l.5-1.9l.5 1.9l.5-2.2l.5 2.9l.5-2.1l.5 2.1l.5-2.6l.5 2.3l.5-2.1l.5 2.4l.5-2.6l.5 2.4l.5-2.2l.5 2.5l.5-2.7l.5 1.9l.5-1.8l.5 2.6l.5-2.8l.5 2.6l.5-2.6l.5 2.3l.5-1.9l.5 1.8l.5-1.9l.5 2.3l.5-2.4l.5 2.6l.5-2.2l.5 1.7l.5-1.7l.5 2.2l.5-2.4l.5 2.2l.5-2.2l.5 2.4l.5-2.3l.5 1.9l.5-1.9l.5 2.3l.5-2.5l.5 2.7l.5-2.8l.5 2.4l.5-2.2l.5 2.3l.5-2.7l.5 2.8l.5-2.8l.5 2.6l.5-2.3l.5 2.5l.5-2.1l.5 2.4l.5-3l.5 2.9l.5-2.7l.5 2.3l.5-2.7l.5 3.1l.5-2.9l.5 2.3l.5-2.2l.5 2.2l.5-2.3l.5 2.3l.5-2l.5 2.1l.5-1.9l.5 2.5l.5-2.3l.5 1.7l.5-2l.5 2.4l.5-2.3l.5 2l.5-2.5l.5 2.8l.5-2.4l.5 2l.5-2l.5 1.7l.5-1.6l.5 2.4l.5-2.2l.5 1.5l.5-1.8l.5 2.4l.5-2.9l.5 2.8l.5-2.7l.5 2.3l.5-2.5l.5 2.6l.5-1.8l.5 2.1l.5-2.2l.5 2.5l.5-3.1l.5 3l.5-2.3l.5 2.1l.5-2.6l.5 2.2l.5-2.1l.5 2.3l.5-2.5l.5 2.7l.5-2.3l.5 1.9l.5-2.4l.5 2.7l.5-2.1l.5 2.2l.5-2.3l.5 2.6l.5-2.5l.5 2l.5-2l.5 2.2l.5-2.6l.5 2.2l.5-2.2l.5 2.7l.5-2.3l.5 1.9l.5-2.1l.5 1.9l.5-1.8l.5 2.1l.5-2l.5 2.4l.5-3.1l.5 3.2l.5-3.1l.5 3.1l.5-2.3l.5 1.6l.5-2.2l.5 2.1l.5-1.5l.5 2.1l.5-2.1l.5 2.2l.5-2.8l.5 2.7l.5-2.7l.5 2.3l.5-2.2l.5 2.6l.5-2.7l.5 2.5l.5-2.3l.5 2.6l.5-2.7l.5 2.3l.5-2.2l.5 2.2l.5-2l.5 1.7l.5-2.3l.5 2.2l.5-1.9l.5 2.7l.5-2.5l.5 2.3l.5-2l.5 2.2l.5-2.8l.5 2.2l.5-2l.5 2l.5-2l.5 1.9l.5-2.1l.5 2.7l.5-2.8l.5 2.2l.5-1.7l.5 1.8l.5-1.7l.5 2.1l.5-2.1l.5 2l.5-2.4l.5 2.1l.5-2.5l.5 3.2l.5-3l.5 2.1l.5-1.4l.5 1.9l.5-2.3l.5 2.6l.5-2.4l.5 1.8l.5-2.3l.5 2.7l.5-2.3l.5 1.9l.5-2.3l.5 2.5l.5-2.7l.5 3l.5-2.4l.5 1.8l.5-1.9l.5 2.3l.5-2.8l.5 2.6l.5-1.9l.5 2l.5-2.1l.5 1.8l.5-1.5l.5 1.9l.5-2.3l.5 1.7l.5-1.9l.5 1.9l.5-1.8l.5 2l.5-2.2l.5 2.3l.5-2.4l.5 2.3l.5-2l.5 1.9l.5-1.8l.5 2.6l.5-2.5l.5 2.4l.5-3l.5 2.8l.5-2.7l.5 2.9l.5-2.6l.5 2.4l.5-2.2l.5 1.6l.5-2.2l.5 2.9l.5-2.2l.5 1.8l.5-2.6l.5 2.2l.5-1.5l.5 2.1l.5-2.5l.5 2.5l.5-2.1l.5 1.4l.5-1.5l.5 2.4l.5-2.3l.5 2.2l.5-2.5l.5 2.2l.5-2.5l.5 2.6l.5-2.2l.5 1.9l.5-2.4l.5 2.1l.5-1.8l.5 2.4l.5-2.4l.5 2.3l.5-2.5l.5 2l.5-2l.5 2l.5-1.6l.5 1.6l.5-2l.5 2.1l.5-2l.5 2.1l.5-2l.5 1.9l.5-2.1l.5 1.6l.5-1.7l.5 2l.5-1.7l.5 1.3l.5-1.6l.5 1.1l.5-1l.5 1.2l.5-1.6l.5 1.1l.5-1.1l.5 1.1l.5-1.4l.5 .8l.5-.8l.5 .5l.5-.8l.5 .1l.5-.3l.5-.3l.5-.4l.5-.5l.5-.6l.5-.7l.5-1.1l.5-1.3l.5-1.7l.5-2.2l.5-2.8l.5-3.5l.5-4.1l.5-4.8l.5-5.4l.5-5.9l.5-5.9l.5-5.7l.5-4.8l.5-3.3l.5-1.2l.5 1.2l.5 3.3l.5 4.8l.5 5.7l.5 5.9l.5 5.9l.5 5.4l.5 4.8l.5 4.1l.5 3.5l.5 2.8l.5 2.2l.5 1.7l.5 1.3l.5 1l.5 .8l.5 .6l.5 .5l.5 .4l.5 .3l.5 .4l.5-.1l.5 .6l.5-.6l.5 1l.5-.8l.5 1.4l.5-1.1l.5 1.2l.5-1.2l.5 1.5l.5-1.4l.5 1.7l.5-1.6l.5 1.9l.5-1.6l.5 1.7l.5-1.7l.5 1.3l.5-1.5l.5 2.1l.5-2.1l.5 2l.5-2l.5 2.3l.5-2.2l.5 1.9l.5-1.5l.5 1.3l.5-1.9l.5 2.3l.5-2l.5 1.7l.5-1.7l.5 2.3l.5-1.9l.5 2.1l.5-2.1l.5 1.4l.5-1.8l.5 2.1l.5-2.4l.5 2.8l.5-2.5l.5 2.5l.5-2.2l.5 1.8l.5-2.1l.5 2.2l.5-2.3l.5 2l.5-1.8l.5 2l.5-2.1l.5 2.6l.5-2.2l.5 1.8l.5-2.4l.5 2.8l.5-2.6l.5 2l.5-1.6l.5 2.3l.5-2.7l.5 2.4l.5-1.9l.5 1.9l.5-2.3l.5 1.9l.5-2.2l.5 2.9l.5-2.2l.5 1.6l.5-1.8l.5 1.8l.5-1.7l.5 1.8l.5-1.8l.5 1.9l.5-2.5l.5 2.6l.5-2.1l.5 1.6l.5-2.1l.5 2.3l.5-1.7l.5 2.3l.5-2.6l.5 2.5l.5-2.3l.5 1.7l.5-1.9l.5 2.4l.5-2.4l.5 2.1l.5-1.9l.5 1.5l.5-1.7l.5 2l.5-2l.5 2.1l.5-2.3l.5 2l.5-1.9l.5 1.6l.5-1.4l.5 1.9l.5-2.1l.5 1.6l.5-1.8l.5 1.7l.5-1.8l.5 1.5l.5-1.2l.5 1.1l.5-1.6l.5 1.5l.5-1.8l.5 1.2l.5-1.1l.5 .6l.5-1l.5-.2l.5-.6l.5-.7l.5-1l.5-1.2l.5-1.4l.5-1.8l.5-2l.5-2.2l.5-2.4l.5-2.4l.5-2.3l.5-1.9l.5-1.1l.5-.3l.5 .6l.5 1.5l.5 2l.5 2.4l.5 2.4l.5 2.3l.5 2.2l.5 1.9l.5 1.6l.5 1.3l.5 1.1l.5 .9l.5 .6l.5 .6l.5 0l.5 .9l.5-.6l.5 1l.5-.6l.5 1l.5-.8l.5 1l.5-1.3l.5 1.5l.5-1.1l.5 1.4l.5-1.5l.5 1.2l.5-1.2l.5 1.2l.5-1.4l.5 1.2l.5-1.4l.5 1.7l.5-1.4l.5 .8l.5-1l.5 .5l.5-.7l.5 .2l.5-.6l.5-.3l.5-.5l.5-.5l.5-.6l.5-.7l.5-.7l.5-.9l.5-.9l.5-.9l.5-.9l.5-1l.5-.8l.5-.8l.5-.5l.5-.3l.5-.1l.5 .2l.5 .4l.5 .7l.5 .8l.5 .9l.5 .9l.5 1l.5 .9l.5 .9l.5 .8l.5 .7l.5 .7l.5 .6l.5 .5l.5 .6l.5-.1l.5 1.1l.5-.8l.5 1.6l.5-1.2l.5 1.5l.5-1.6l.5 2.1l.5-1.9l.5 1.6l.5-1.5l.5 2.1l.5-2.1l.5 2l.5-1.7l.5 1.6l.5-2l.5 2.2l.5-1.7l.5 2l.5-2.4l.5 2.4l.5-1.8l.5 1.9l.5-2.4l.5 1.9l.5-1.2l.5 1.8l.5-2.4l.5 2.5l.5-2.3l.5 2.2l.5-2.3l.5 2.4l.5-2.4l.5 2.2l.5-2.3l.5 2.6l.5-2.1l.5 1.7l.5-2.4l.5 2.4l.5-1.7l.5 1.8l.5-2.5l.5 3l.5-2.6l.5 1.9l.5-1.6l.5 2l.5-1.9l.5 2.2l.5-2.2l.5 2.2l.5-2.7l.5 2.7l.5-2.5l.5 2.3l.5-2.6l.5 2.6l.5-2.7l.5 3l.5-2.9l.5 2.6l.5-2l.5 2.2l.5-2.2l.5 1.9l.5-2.6l.5 3.1l.5-2.9l.5 2.8l.5-2.7l.5 2.3l.5-2.2l.5 2.3l.5-2.1l.5 2.1l.5-2.6l.5 2.6l.5-2.7l.5 3l.5-2.9l.5 2.4l.5-2l.5 2l.5-1.7l.5 2.1l.5-2.7l.5 2.4l.5-2l.5 2.1l.5-2.2l.5 2l.5-2.1l.5 2.3l.5-1.9l.5 1.7l.5-1.8l.5 1.7l.5-2.2l.5 2.2l.5-1.6l.5 1.5l.5-2.1l.5 2.4l.5-2l.5 2.2l.5-2.8l.5 2.5l.5-1.9l.5 1.7l.5-2.3l.5 2.9l.5-3l.5 2.3l.5-2.1l.5 2.8l.5-2.7l.5 2.4l.5-2.2l.5 2.6l.5-3.1l.5 2.4l.5-2l.5 2.4l.5-2.7l.5 2.5l.5-2.1l.5 1.8l.5-2l.5 2l.5-1.5l.5 1.4l.5-2.1l.5 2.7l.5-2.6l.5 2.5l.5-2.4l.5 2.8l.5-2.6l.5 2l.5-2.4l.5 2.5l.5-1.9l.5 2.1l.5-2.2l.5 2l.5-1.8l.5 1.7l.5-2.1l.5 2.5l.5-2.3l.5 1.9l.5-1.9l.5 2.1l.5-2.5l.5 2.1l.5-1.7l.5 1.7l.5-2.1l.5 2.2l.5-2.5l.5 2.2l.5-1.4l.5 1.3l.5-1.5l.5 1.3l.5-1.7l.5 2l.5-2.1l.5 2.4l.5-1.9l.5 1.3l.5-2l.5 2.3l.5-1.9l.5 1.4l.5-2l.5 1.4l.5-1.1l.5 1.2l.5-1.5l.5 .8l.5-1.1l.5 .5l.5-.8l.5-.2l.5-.5l.5-.6l.5-.6l.5-.7l.5-.8l.5-.8l.5-.9l.5-1l.5-1l.5-.9l.5-.9l.5-.8l.5-.6l.5-.3l.5-.1l.5 .1l.5 .4l.5 .6l.5 .7l.5 .9l.5 .8l.5 .9l.5 .8l.5 .8l.5 .7l.5 .6l.5 .4l.5 .4l.5 .3l.5 .2l.5 .1l.5 .1l.5-.1l.5 0l.5-.2l.5-.2l.5-.2l.5-.2l.5-.3l.5-.2l.5-.2l.5-.1l.5-.2l.5 0l.5 0l.5 0l.5 .2l.5 .2l.5 .2l.5 .3l.5 .3l.5 .3l.5 .4l.5 .3l.5 .4l.5 .3l.5 .3l.5 .3l.5 .2l.5 .6l.5-.4l.5 1.1l.5-.6l.5 1.2l.5-1.3l.5 1.8l.5-1.4l.5 1.7l.5-1.4l.5 1.3l.5-1.6l.5 2.2l.5-2.2l.5 1.8l.5-1.9l.5 2.3l.5-2.1l.5 2.5l.5-2.7l.5 2.3l.5-1.7l.5 2l.5-1.8l.5 1.8l.5-1.8l.5 2.2l.5-2.2l.5 1.9l.5-2.3l.5 2.2l.5-2.3l.5 2.1l.5-1.8l.5 2l.5-2.2l.5 1.9l.5-1.3l.5 1.5l.5-2l.5 2.1l.5-2l.5 2.3l.5-1.9l.5 1.8l.5-1.8l.5 1.6l.5-2.1l.5 2.1l.5-1.6l.5 1.4l.5-2.1l.5 2.6l.5-2.6l.5 2l.5-1.9l.5 2.2l.5-2.1l.5 1.9l.5-2l.5 2.1l.5-2.3l.5 2.4l.5-2.3l.5 2l.5-1.4l.5 2l.5-2.5l.5 2.1l.5-2.4l.5 1.9l.5-1.6l.5 2.3l.5-2.7l.5 2.2l.5-1.7l.5 1.2l.5-1.4l.5 1.3l.5-1.4l.5 1.2l.5-1.4l.5 .6l.5-1.3l.5 .3l.5-.7l.5-.5l.5-.6l.5-.6l.5-.6l.5-.7l.5-.6l.5-.6l.5-.5l.5-.3l.5-.1l.5 .1l.5 .3l.5 .5l.5 .6l.5 .6l.5 .7l.5 .6l.5 .6l.5 .6l.5 .5l.5 .7l.5-.3l.5 1.1l.5-.8l.5 1.9l.5-1.5l.5 2l.5-1.9l.5 1.8l.5-1.5l.5 2.1l.5-2.2l.5 2l.5-2l.5 1.9l.5-1.4l.5 2.1l.5-2.5l.5 1.9l.5-1.5l.5 1.8l.5-1.9l.5 1.9l.5-2.4l.5 2.7l.5-2.7l.5 2.9l.5-2.8l.5 2.3l.5-2.5l.5 2.4l.5-1.8l.5 1.7l.5-2.2l.5 2.2l.5-2.3l.5 2.7l.5-2.5l.5 2.7l.5-2.3l.5 2.1l.5-1.8l.5 2.2l.5-2.8l.5 2.6l.5-2.3l.5 1.7l.5-1.6l.5 1.5l.5-1.6l.5 2.3l.5-2.3l.5 2.1l.5-2.1l.5 1.8l.5-2.3l.5 2.2l.5-2.1l.5 2.4l.5-2l.5 1.9l.5-2.4l.5 2.1l.5-1.9l.5 .8l.5-1.3l.5 .7l.5-1.3l.5 .2l.5-.7l.5-.7l.5-.6l.5-.7l.5-.5l.5-.4l.5-.2l.5 .2l.5 .4l.5 .5l.5 .6l.5 .7l.5 .6l.5 .7l.5 .1l.5 .9l.5-.6l.5 1.8l.5-1.4l.5 1.9l.5-2.2l.5 2.4l.5-2.1l.5 2.2l.5-2l.5 1.7l.5-1.7l.5 1.5l.5-1.2l.5 1.8l.5-2.1l.5 1.9l.5-1.8l.5 1.5l.5-2l.5 1.9l.5-1.5l.5 1.3l.5-1.6l.5 .6l.5-1.2l.5 .4l.5-.8l.5-.5l.5-.6l.5-.7l.5-.8l.5-.9l.5-.8l.5-.8l.5-.6l.5-.5l.5-.1l.5 .1l.5 .5l.5 .6l.5 .8l.5 .8l.5 .9l.5 .8l.5 .7l.5 .7l.5 .4l.5 .7l.5-.3l.5 1.3l.5-1.1l.5 1.7l.5-1.2l.5 1.4l.5-1.6l.5 2.3l.5-2.1l.5 2.1l.5-2.1l.5 2.3l.5-2.5l.5 2.2l.5-1.5l.5 1.6l.5-1.7l.5 1.6l.5-2.1l.5 2.3l.5-2l.5 1.7l.5-1.6l.5 1.9l.5-2.1l.5 2.4l.5-1.9l.5 1.6l.5-2.1l.5 2.3l.5-2l.5 1.8l.5-1.9l.5 1.6l.5-1.6l.5 1.6l.5-1.6l.5 1.2l.5-1.9l.5 1.8l.5-1.7l.5 1l.5-1.2l.5 .3l.5-.9l.5-.3l.5-.5l.5-.5l.5-.6l.5-.6l.5-.5l.5-.5l.5-.4l.5-.3l.5-.1l.5 .1l.5 .3l.5 .4l.5 .5l.5 .5l.5 .6l.5 .6l.5 .5l.5 .5l.5 .4l.5 .8l.5-.3l.5 1.3l.5-1.1l.5 1.6l.5-1.2l.5 1.6l.5-1.3l.5 1.9l.5-2.1l.5 2.1l.5-2.4l.5 2.7l.5-2.2l.5 1.5l.5-2l.5 2.8l.5-2.1l.5 2l.5-2.3l.5 2l.5-2l.5 2.6l.5-2.4l.5 1.7l.5-2.1l.5 2.1l.5-1.5l.5 2.2l.5-2.1l.5 1.8l.5-2.4l.5 2l.5-2l.5 2.3l.5-2.2l.5 2.2l.5-1.9l.5 2.4l.5-2.7l.5 2.7l.5-2.8l.5 2.3l.5-1.8l.5 1.6l.5-2.3l.5 3.2l.5-2.8l.5 2.2l.5-1.9l.5 2.4l.5-2.8l.5 2.7l.5-2.9l.5 3l.5-2.7l.5 2.2l.5-2.6l.5 2.3l.5-2l.5 2.1l.5-1.8l.5 2.6l.5-2.9l.5 2.7l.5-2.5l.5 2.4l.5-2.2l.5 2.1l.5-2l.5 1.6l.5-1.8l.5 2.2l.5-2.6l.5 2.3l.5-1.6l.5 2l.5-2.4l.5 2.3l.5-2l.5 2.1l.5-2.7l.5 3l.5-2.4l.5 2.2l.5-2.3l.5 2.2l.5-2.6l.5 2.9l.5-2.5l.5 1.7l.5-1.6l.5 1.9l.5-2.7l.5 3.1l.5-2.9l.5 2.5l.5-2.6l.5 2.7l.5-2.3l.5 2.6l.5-2.2l.5 2.2l.5-2.5l.5 2.1l.5-1.8l.5 1.6l.5-2.2l.5 2.5l.5-2.5l.5 2.5l.5-2.7l.5 2.4l.5-2.5l.5 2.7l.5-2.5l.5 2.8l.5-2.8l.5 2.2l.5-1.8l.5 1.8l.5-1.6l.5 2l.5-2.7l.5 2.8l.5-2l.5 1.6l.5-2l.5 2.3l.5-1.9l.5 2.3l.5-3.2l.5 2.6l.5-1.9l.5 1.9l.5-2.2l.5 2.3l.5-2.7l.5 2.2l.5-1.4l.5 1.8l.5-2.2l.5 2.3l.5-2.1l.5 2.4l.5-3l.5 2.8l.5-2.9l.5 2.8l.5-2l.5 1.9l.5-2.3l.5 2.6l.5-2.3l.5 2.4l.5-2.6l.5 2l.5-1.9l.5 2l.5-2.6l.5 2.3l.5-1.4l.5 1.8l.5-2.7l.5 2.8l.5-2.2l.5 1.5l.5-1.3l.5 1.4l.5-1.8l.5 2.3l.5-2.3l.5 1.9l.5-2l.5 2.2l.5-1.8l.5 2l.5-2l.5 1.9l.5-2.3l.5 1.8l.5-1.5l.5 1.9l.5-2.4l.5 2.2l.5-2.2l.5 1.5l.5-1.5l.5 2l.5-2l.5 1.8l.5-1.7l.5 1.5l.5-1.9l.5 1.6l.5-1.9l.5 1.3l.5-1.4l.5 .8l.5-.8l.5 .3l.5-.7l.5-.2l.5-.4l.5-.4l.5-.5l.5-.4l.5-.6l.5-.5l.5-.6l.5-.7l.5-.6l.5-.7l.5-.6l.5-.7l.5-.6l.5-.6l.5-.4l.5-.4l.5-.3l.5-.1l.5 0l.5 .2l.5 .2l.5 .4l.5 .5l.5 .6l.5 .6l.5 .6l.5 .7l.5 .6l.5 .7l.5 .6l.5 .6l.5 .5l.5 .5l.5 .5l.5 .4l.5 .4l.5 .4l.5 .4l.5 0l.5 .7l.5-.5l.5 1l.5-.8l.5 1.3l.5-1.3l.5 1.5l.5-1.5l.5 1.8l.5-1.6l.5 1.7l.5-1.7l.5 1.6l.5-1.5l.5 1.6l.5-1.6l.5 1.2l.5-1.3l.5 .9l.5-.9l.5 .4l.5-1l.5 .2l.5-.5l.5-.5l.5-.5l.5-.7l.5-.7l.5-.7l.5-.8l.5-.8l.5-.8l.5-.7l.5-.6l.5-.4l.5-.1"/>
<path stroke="#ff0000" d="M36.0 926.9l.5 2.6l.5-2.4l.5 2.6l.5-2.6l.5 2.6l.5-3.3l.5 2.9l.5-1.9l.5 2.1l.5-2.1l.5 1.6l.5-2l.5 2.2l.5-2.1l.5 2.4l.5-2.9l.5 2.6l.5-2.3l.5 3l.5-2.5l.5 1.8l.5-1.7l.5 1.7l.5-1.9l.5 1.9l.5-2.5l.5 3.3l.5-3l.5 2.4l.5-1.6l.5 2.3l.5-3l.5 3.1l.5-2.8l.5 2.5l.5-2.8l.5 3.1l.5-2.6l.5 2.7l.5-2.5l.5 1.8l.5-2.3l.5 2.2l.5-2.4l.5 2.4l.5-2.2l.5 2.7l.5-2.9l.5 3l.5-2.7l.5 2.4l.5-1.9l.5 2.1l.5-2.6l.5 2.6l.5-2.1l.5 1.7l.5-1.4l.5 1.4l.5-1.6l.5 2.5l.5-3.2l.5 3.1l.5-2.8l.5 2.7l.5-3l.5 2.5l.5-2.3l.5 3.2l.5-3.1l.5 2.9l.5-2.2l.5 2.4l.5-2.9l.5 2.4l.5-2.2l.5 2.6l.5-3l.5 3l.5-2.3l.5 2.5l.5-3.2l.5 3.3l.5-3.3l.5 2.7l.5-2.1l.5 2.7l.5-3l.5 3l.5-2.7l.5 2.1l.5-2.3l.5 2.2l.5-2.4l.5 2.4l.5-1.8l.5 2.7l.5-3.2l.5 2.3l.5-1.5l.5 2l.5-2.5l.5 2.2l.5-2l.5 2.6l.5-2.7l.5 2.4l.5-2.8l.5 3.3l.5-3.3l.5 2.9l.5-2.1l.5 1.7l.5-1.7l.5 2.6l.5-2.7l.5 2.5l.5-3l.5 2.7l.5-2.7l.5 3.2l.5-3l.5 2.6l.5-1.9l.5 2.3l.5-2.3l.5 1.9l.5-2.3l.5 2.6l.5-2.6l.5 2.2l.5-2.3l.5 2.2l.5-2.2l.5 3.1l.5-2.5l.5 2.1l.5-2.5l.5 2.3l.5-2.7l.5 2.6l.5-1.9l.5 2.5l.5-2.9l.5 2.9l.5-2.4l.5 2.3l.5-2.4l.5 2.5l.5-2.8l.5 2.8l.5-2.9l.5 2.7l.5-2.1l.5 2.3l.5-2.8l.5 3.1l.5-2.7l.5 2.3l.5-2.9l.5 2.9l.5-2.7l.5 2.9l.5-2.6l.5 2.7l.5-2.5l.5 2.5l.5-2.8l.5 2.7l.5-2.3l.5 2.5l.5-2.9l.5 2.9l.5-2.3l.5 2.2l.5-2.1l.5 2.4l.5-2.8l.5 2.4l.5-2.8l.5 3.1l.5-2.3l.5 2l.5-2.2l.5 2.4l.5-2.4l.5 1.9l.5-1.8l.5 2.2l.5-2.3l.5 2.2l.5-2.2l.5 2.6l.5-2.6l.5 2.5l.5-3.1l.5 2.6l.5-2.1l.5 2.6l.5-2.8l.5 2.8l.5-2.4l.5 1.8l.5-1.9l.5 2.1l.5-2.5l.5 2.5l.5-2.3l.5 2.3l.5-2.4l.5 2.3l.5-2l.5 2.4l.5-2.2l.5 2.4l.5-2.8l.5 3.1l.5-3.3l.5 2.8l.5-2.5l.5 2.6l.5-2.7l.5 3.1l.5-2.8l.5 2l.5-1.8l.5 1.9l.5-1.9l.5 2.2l.5-2.2l.5 2.8l.5-2.5l.5 2l.5-2l.5 2.2l.5-2.6l.5 2.1l.5-1.9l.5 2.4l.5-2l.5 2.4l.5-2.8l.5 2.2l.5-1.9l.5 1.6l.5-2.3l.5 2.8l.5-2.3l.5 1.9l.5-1.9l.5 2.7l.5-2.9l.5 2.5l.5-2.6l.5 2.4l.5-1.7l.5 1.8l.5-1.8l.5 2.4l.5-2.7l.5 2l.5-1.6l.5 1.9l.5-2.5l.5 2.3l.5-1.7l.5 1.9l.5-2.6l.5 2.6l.5-2.7l.5 2.9l.5-2.6l.5 2.3l.5-1.9l.5 2.4l.5-3.2l.5 2.9l.5-2.6l.5 3.1l.5-2.6l.5 1.9l.5-2.4l.5 2.3l.5-1.5l.5 1.7l.5-2.1l.5 2.3l.5-2.3l.5 2.4l.5-2.2l.5 1.7l.5-1.7l.5 1.9l.5-2.1l.5 2.2l.5-2.4l.5 2.6l.5-2.5l.5 2.3l.5-2l.5 2.3l.5-3l.5 2.7l.5-2.2l.5 2.8l.5-2.4l.5 2.1l.5-2.9l.5 3.1l.5-2.7l.5 2.5l.5-2.2l.5 2.3l.5-2.5l.5 2.8l.5-2.9l.5 2.4l.5-1.9l.5 1.7l.5-2.3l.5 3l.5-3.2l.5 3.2l.5-2.5l.5 2.1l.5-2.5l.5 2.9l.5-2.3l.5 1.6l.5-2l.5 2.4l.5-2.4l.5 2.2l.5-2.5l.5 2.8l.5-2.2l.5 1.7l.5-2.2l.5 3l.5-2.4l.5 2.2l.5-3l.5 3.1l.5-2.1l.5 2.4l.5-2.7l.5 1.8l.5-1.6l.5 1.7l.5-1.9l.5 2.7l.5-2.6l.5 1.8l.5-2.3l.5 3.1l.5-3.2l.5 2.9l.5-2.6l.5 2.1l.5-1.9l.5 1.8l.5-2.3l.5 2.7l.5-2.7l.5 2.4l.5-1.9l.5 2.6l.5-2.3l.5 1.7l.5-2.1l.5 2.3l.5-2.1l.5 2.3l.5-2l.5 1.8l.5-2.7l.5 3.1l.5-3l.5 2.9l.5-2.5l.5 2.8l.5-2.7l.5 2.4l.5-2.7l.5 2.7l.5-2.7l.5 2.9l.5-2.6l.5 2l.5-2.3l.5 2.5l.5-2l.5 1.9l.5-1.9l.5 2.3l.5-2.9l.5 3l.5-3l.5 2.4l.5-1.9l.5 2.1l.5-1.8l.5 2l.5-2.5l.5 2.8l.5-3.1l.5 3.1l.5-3.1l.5 2.5l.5-1.6l.5 2.2l.5-2.9l.5 2.3l.5-1.5l.5 2.1l.5-2.3l.5 1.7l.5-1.9l.5 2.2l.5-2.5l.5 2.5l.5-2.1l.5 2.1l.5-2.4l.5 2.2l.5-1.7l.5 2.2l.5-2.2l.5 2l.5-2l.5 2.1l.5-2.3l.5 2.4l.5-2.3l.5 2.1l.5-2.7l.5 2.3l.5-2.2l.5 2.3l.5-1.6l.5 2l.5-2.1l.5 1.6l.5-1.9l.5 2.8l.5-2.6l.5 2.2l.5-2.4l.5 2.1l.5-2.4l.5 2.4l.5-2.1l.5 2.4l.5-1.9l.5 1.6l.5-2.2l.5 2.4l.5-2.5l.5 2.5l.5-2.4l.5 2.6l.5-2.8l.5 3.3l.5-3l.5 3l.5-2.7l.5 2.4l.5-2.6l.5 2.9l.5-3.2l.5 2.9l.5-2.7l.5 2.8l.5-2.4l.5 1.9l.5-2.4l.5 2.2l.5-2.2l.5 2.3l.5-2.1l.5 3l.5-3l.5 2.3l.5-2.2l.5 2.2l.5-1.9l.5 2.4l.5-3l.5 2.5l.5-2l.5 2.7l.5-2.7l.5 2.2l.5-1.9l.5 1.5l.5-2.4l.5 3.2l.5-2.8l.5 2l.5-1.9l.5 2.9l.5-2.9l.5 2.3l.5-2.7l.5 2.4l.5-1.6l.5 2l.5-1.9l.5 1.5l.5-2.2l.5 2.2l.5-2.1l.5 2.1l.5-2.2l.5 2.6l.5-2.5l.5 2.1l.5-2.4l.5 3.3l.5-3.1l.5 2.7l.5-2.5l.5 2.5l.5-2.8l.5 2.6l.5-2.6l.5 2.8l.5-2l.5 2.1l.5-2.1l.5 1.7l.5-2.6l.5 3l.5-2.5l.5 2.5l.5-2.6l.5 2.7l.5-2.3l.5 2.6l.5-3l.5 2.5l.5-2l.5 1.8l.5-2.5l.5 2.6l.5-2.6l.5 3l.5-2.3l.5 1.9l.5-2.6l.5 2.4l.5-2.3l.5 2.3l.5-2.1l.5 2.6l.5-2.7l.5 2.2l.5-1.8l.5 1.8l.5-2.3l.5 2.5l.5-2.3l.5 2.1l.5-2l.5 2.3l.5-2l.5 2.2l.5-2l.5 2.1l.5-2.3l.5 2.2l.5-2.5l.5 2.8l.5-2.6l.5 2.7l.5-2.6l.5 2.4l.5-2.8l.5 2.9l.5-2.8l.5 2.1l.5-2.4l.5 2.5l.5-2.3l.5 2.8l.5-2.8l.5 2.2l.5-1.7l.5 2.2l.5-2.9l.5 2.4l.5-2.3l.5 2.6l.5-1.9l.5 2.5l.5-2.7l.5 2l.5-2.2l.5 2.3l.5-2.4l.5 2.1l.5-1.8l.5 2.6l.5-2.5l.5 1.8l.5-2l.5 2l.5-1.8l.5 2.1l.5-1.9l.5 2.3l.5-3.1l.5 2.6l.5-1.8l.5 2l.5-2.5l.5 2.4l.5-2l.5 2.5l.5-2.7l.5 2.8l.5-2.8l.5 1.9l.5-1.7l.5 2l.5-2.7l.5 3.3l.5-3.3l.5 2.9l.5-2.5l.5 2.8l.5-2.8l.5 2.2l.5-2.4l.5 2.4l.5-2.1l.5 2.2l.5-2l.5 1.9l.5-2.3l.5 2.3l.5-1.6l.5 2.2l.5-2.4l.5 2.2l.5-2.6l.5 2.1l.5-1.7l.5 2.1l.5-2.9l.5 2.6l.5-2.5l.5 3l.5-2.2l.5 1.7l.5-1.8l.5 1.9l.5-2l.5 2.6l.5-2.6l.5 2.5l.5-2.8l.5 2l.5-1.8l.5 2.4l.5-2.8l.5 2.6l.5-2.4l.5 2.1l.5-2.1l.5 2.4l.5-2.3l.5 2.7l.5-2.7l.5 2.9l.5-2.5l.5 2.5l.5-2.6l.5 2.3l.5-2.5l.5 2.7l.5-2.8l.5 2.6l.5-2.3l.5 2.2l.5-2.6l.5 2.2l.5-2.4l.5 2.7l.5-2.2l.5 2.6l.5-2.5l.5 2l.5-1.8l.5 1.8l.5-2l.5 1.8l.5-1.7l.5 2.3l.5-2.1l.5 2.3l.5-2.6l.5 2.6l.5-2.5l.5 2.2l.5-2.7l.5 2.7l.5-2.1l.5 1.8l.5-1.7l.5 2l.5-2.5l.5 2l.5-2l.5 2.1l.5-1.9l.5 2.7l.5-2.4l.5 2.1l.5-2.6l.5 2.1l.5-1.8l.5 2.2l.5-2.2l.5 2.1l.5-1.9l.5 1.7l.5-2.3l.5 2.4l.5-2.1l.5 2.7l.5-3.1l.5 2.8l.5-2.2l.5 1.8l.5-2.5l.5 2.9l.5-2.2l.5 2.5l.5-2.5l.5 2l.5-2.3l.5 2.4l.5-2l.5 1.8l.5-2.4l.5 2.7l.5-2l.5 1.6l.5-2.5l.5 2.5l.5-2l.5 2.4l.5-2.8l.5 2.4l.5-2l.5 2.5l.5-2.4l.5 2.5l.5-3.1l.5 2.8l.5-2l.5 2.5l.5-3l.5 2.9l.5-2.6l.5 2.7l.5-3.1l.5 2.9l.5-2.3l.5 2l.5-2.7l.5 2.5l.5-2.5l.5 2.4l.5-2.4l.5 2.9l.5-2.9l.5 3l.5-2.4l.5 2.5l.5-2.4l.5 2.3l.5-2.2l.5 2.5l.5-2.8l.5 2.8l.5-3.3l.5 2.4l.5-2.4l.5 2.5l.5-2.2l.5 2.5l.5-2.2l.5 2.5l.5-3.1l.5 2.7l.5-2.2l.5 2.2l.5-2.6l.5 2.8l.5-2.6l.5 2.7l.5-2.6l.5 2.9l.5-2.4l.5 1.5l.5-1.7l.5 2.4l.5-2.8l.5 2.2l.5-2.1l.5 2.3l.5-2l.5 2.6l.5-3l.5 2.3l.5-2.1l.5 2.5l.5-2.2l.5 2.1l.5-2.6l.5 2.4l.5-1.9l.5 2.1l.5-2.9l.5 2.8l.5-2.6l.5 2.8l.5-2.9l.5 2.5l.5-2.5l.5 2.8l.5-1.9l.5 1.9l.5-2.5l.5 2.9l.5-3.2l.5 2.6l.5-1.9l.5 1.6l.5-1.6l.5 2l.5-2.8l.5 2.6l.5-2.1l.5 2.3l.5-2.3l.5 2l.5-2.3l.5 3.2l.5-2.9l.5 2.4l.5-2.8l.5 2.6l.5-1.7l.5 2.1l.5-2.6l.5 2l.5-2.1l.5 2.8l.5-2.7l.5 2.5l.5-2.1l.5 2.2l.5-2.4l.5 1.8l.5-2.4l.5 3.1l.5-2.7l.5 2.8l.5-2.4l.5 2.4l.5-2.9l.5 3l.5-2.6l.5 2.5l.5-3.1l.5 3l.5-2.7l.5 2.9l.5-2.3l.5 1.6l.5-2.2l.5 2.2l.5-2.2l.5 2.2l.5-2l.5 1.9l.5-2.4l.5 2.7l.5-2.7l.5 2.6l.5-1.8l.5 2.3l.5-3l.5 2.2l.5-1.6l.5 2.5l.5-2.7l.5 1.9l.5-2.3l.5 3.1l.5-2.4l.5 1.5l.5-2.2l.5 2.6l.5-2.5l.5 2.8l.5-2.7l.5 2.7l.5-2.9l.5 2.7l.5-1.9l.5 2.1l.5-3l.5 2.4l.5-1.9l.5 2.1l.5-2.3l.5 2.5l.5-2.3l.5 2.7l.5-3l.5 2.6l.5-2.6l.5 2.6l.5-2.2l.5 1.8l.5-2l.5 2.6l.5-3.1l.5 3.1l.5-2.7l.5 2.5l.5-2.3l.5 2.6l.5-3.1l.5 2.8l.5-2.8l.5 2.7l.5-2.4l.5 2l.5-2.1l.5 2.5l.5-2.1l.5 2.6l.5-2.9l.5 2.5l.5-2.2l.5 2.6l.5-2.3l.5 2.3l.5-3l.5 2.2l.5-1.5l.5 1.5l.5-2l.5 2.6l.5-2.5l.5 2.2l.5-1.9l.5 1.8l.5-2.1l.5 2.6l.5-3l.5 2.5l.5-2.2l.5 2.4l.5-2.7l.5 2.6l.5-2.7l.5 2.3l.5-2l.5 2.1l.5-1.5l.5 1.6l.5-2.3l.5 2.7l.5-2.3l.5 1.8l.5-1.7l.5 2l.5-2.4l.5 2.4l.5-2.6l.5 2.2l.5-1.6l.5 1.7l.5-1.7l.5 1.4l.5-2.2l.5 1.9l.5-1.5l.5 1.6l.5-2.3l.5 1.4l.5-1.2l.5 .5l.5-1l.5-.3l.5-.6l.5-.5l.5-.5l.5-.4l.5-.3l.5 0l.5 .2l.5 .4l.5 .5l.5 .5l.5 .5l.5 .7l.5-.1l.5 1.4l.5-.8l.5 1.7l.5-2l.5 2.4l.5-1.6l.5 1.4l.5-1.4l.5 1.7l.5-2l.5 1.9l.5-1.5l.5 2l.5-1.8l.5 1.8l.5-2.5l.5 2.3l.5-2.2l.5 2.9l.5-2.9l.5 2.1l.5-2l.5 2l.5-1.9l.5 2.4l.5-2.2l.5 1.8l.5-2.3l.5 2.6l.5-2.1l.5 2.1l.5-2.2l.5 2.6l.5-3l.5 2.4l.5-2l.5 2.3l.5-1.9l.5 1.9l.5-2.2l.5 2.1l.5-1.9l.5 2.3l.5-2.8l.5 2.1l.5-2.1l.5 2.3l.5-1.7l.5 1.6l.5-1.9l.5 2.3l.5-2l.5 1.5l.5-1.7l.5 1.9l.5-2.5l.5 2.8l.5-2.1l.5 2l.5-2.7l.5 3.1l.5-2.8l.5 2.5l.5-2.2l.5 1.8l.5-2.1l.5 2.2l.5-2.5l.5 2.2l.5-1.6l.5 1.9l.5-1.8l.5 1.5l.5-2l.5 2.1l.5-1.5l.5 2l.5-2.1l.5 1.9l.5-2.6l.5 2.5l.5-2.4l.5 2l.5-1.7l.5 1.9l.5-2.3l.5 2.5l.5-1.8l.5 2.2l.5-2.6l.5 1.8l.5-1.5l.5 1.5l.5-1.7l.5 1.7l.5-1.4l.5 1.8l.5-2.2l.5 1.9l.5-1.9l.5 2.5l.5-2.6l.5 1.9l.5-1.8l.5 2.4l.5-2.5l.5 2.2l.5-1.8l.5 1.5l.5-1.6l.5 1.7l.5-2.3l.5 1.9l.5-1.2l.5 1.5l.5-2l.5 2.3l.5-2.2l.5 1.8l.5-2l.5 2.1l.5-2.2l.5 1.9l.5-1.5l.5 1.5l.5-2l.5 1.7l.5-1.4l.5 1.6l.5-2l.5 2.1l.5-2.2l.5 1.5l.5-1.5l.5 1.5l.5-1.3l.5 1.3l.5-1.6l.5 1.3l.5-1.4l.5 1.1l.5-1.2l.5 .8l.5-1l.5 .7l.5-.8l.5 .3l.5-.4l.5-.1l.5-.3l.5-.3l.5-.3l.5-.3l.5-.5l.5-.5l.5-.7l.5-.9l.5-1.2l.5-1.7l.5-2.3l.5-3.3l.5-4.4l.5-5.9l.5-7.6l.5-9.7l.5-11.9l.5-13.9l.5-15.7l.5-17l.5-17.3l.5-16.4l.5-14.3l.5-10.8l.5-6.6l.5-2.2l.5 2.2l.5 6.6l.5 10.8l.5 14.3l.5 16.4l.5 17.4l.5 16.9l.5 15.7l.5 14l.5 11.8l.5 9.7l.5 7.6l.5 5.9l.5 4.5l.5 3.2l.5 2.3l.5 1.7l.5 1.2l.5 .9l.5 .7l.5 .6l.5 .4l.5 .4l.5 .3l.5 .2l.5 .3l.5 .1l.5 .4l.5-.2l.5 .7l.5-.4l.5 .7l.5-.6l.5 1.1l.5-1l.5 1.3l.5-1.4l.5 1.4l.5-.9l.5 1l.5-1.4l.5 1.5l.5-1l.5 1.1l.5-1.2l.5 1.6l.5-1.4l.5 1.5l.5-1.6l.5 1.4l.5-1.2l.5 1.8l.5-1.8l.5 2l.5-2l.5 1.9l.5-1.7l.5 1.7l.5-2.3l.5 2.6l.5-1.8l.5 1.3l.5-2.1l.5 2.3l.5-2.2l.5 2.2l.5-2.2l.5 2.1l.5-2.2l.5 2.4l.5-2.1l.5 2.4l.5-2.3l.5 1.9l.5-1.4l.5 2l.5-2.2l.5 1.7l.5-2l.5 2.2l.5-2.2l.5 1.9l.5-1.8l.5 2.4l.5-2.2l.5 2.3l.5-2.3l.5 2.3l.5-2.1l.5 2.2l.5-2.3l.5 1.9l.5-2l.5 2.2l.5-2l.5 2.1l.5-2.5l.5 2l.5-2.1l.5 2.2l.5-1.8l.5 2.3l.5-2.8l.5 2.6l.5-2l.5 1.8l.5-2.5l.5 2.8l.5-2.5l.5 2l.5-2.1l.5 2l.5-2.1l.5 2.5l.5-2.5l.5 2.1l.5-1.7l.5 2.6l.5-2.3l.5 1.8l.5-1.7l.5 1.4l.5-2.2l.5 2.2l.5-2.3l.5 2.8l.5-2.1l.5 2l.5-1.9l.5 1.9l.5-1.8l.5 2l.5-2.4l.5 2l.5-2.1l.5 2.3l.5-1.9l.5 1.7l.5-2.2l.5 2.8l.5-3l.5 2.7l.5-2.6l.5 2.8l.5-2.4l.5 1.8l.5-1.7l.5 2l.5-2.4l.5 2.8l.5-2.3l.5 1.8l.5-1.9l.5 1.7l.5-1.9l.5 1.9l.5-1.8l.5 2.6l.5-2.6l.5 1.8l.5-1.9l.5 2.3l.5-2.4l.5 2.1l.5-2.2l.5 2.5l.5-2.7l.5 2.9l.5-2.7l.5 2.3l.5-2.5l.5 2.6l.5-1.8l.5 1.7l.5-2.5l.5 2.6l.5-1.8l.5 1.6l.5-2.1l.5 2.2l.5-1.9l.5 2.1l.5-2.7l.5 3.1l.5-2.8l.5 2.6l.5-2.5l.5 2.7l.5-3.1l.5 2.5l.5-2.3l.5 2.3l.5-1.8l.5 2.1l.5-2.5l.5 2.5l.5-2l.5 2l.5-2.4l.5 2.5l.5-2.4l.5 2.2l.5-2.3l.5 2l.5-2l.5 2.8l.5-3l.5 2.5l.5-2.2l.5 2.4l.5-2.8l.5 2.6l.5-2l.5 1.6l.5-2.2l.5 2.9l.5-2.2l.5 1.6l.5-2.4l.5 2.9l.5-2.7l.5 2.7l.5-2.9l.5 2.8l.5-2.7l.5 2.5l.5-2l.5 2.2l.5-2l.5 2.3l.5-2.5l.5 2.5l.5-3l.5 2.7l.5-2.5l.5 2.6l.5-2.8l.5 3.1l.5-2.9l.5 2.8l.5-2.2l.5 2.3l.5-2.9l.5 2.9l.5-2.3l.5 1.5l.5-1.7l.5 2.3l.5-2.6l.5 2.2l.5-2.5l.5 2.6l.5-1.8l.5 1.8l.5-2.5l.5 2.7l.5-2.5l.5 2.5l.5-2.5l.5 2.2l.5-2.6l.5 3.1l.5-2.5l.5 2l.5-2.1l.5 2.4l.5-2.4l.5 2.7l.5-2.5l.5 1.9l.5-2.3l.5 2.6l.5-2.8l.5 3.1l.5-3.2l.5 2.8l.5-2.6l.5 2.6l.5-2.8l.5 2.5l.5-1.6l.5 2.2l.5-2.9l.5 2.6l.5-2.8l.5 2.4l.5-2.2l.5 3.1l.5-3l.5 2.3l.5-2.6l.5 2.4l.5-1.5l.5 2.1l.5-2.1l.5 2.2l.5-2.4l.5 1.9l.5-2.5l.5 2.5l.5-2.6l.5 2.5l.5-1.8l.5 2.1l.5-2.8l.5 2.6l.5-1.8l.5 2.3l.5-2.4l.5 2.3l.5-2.2l.5 2l.5-2.5l.5 2.5l.5-2.6l.5 2.1l.5-2.1l.5 2.5l.5-2.6l.5 2.2l.5-2.1l.5 2.3l.5-1.7l.5 1.8l.5-1.9l.5 2l.5-2.3l.5 1.8l.5-2l.5 1.8l.5-1.8l.5 1.8l.5-1.9l.5 .9l.5-1.6l.5 .7l.5-.9l.5 .2l.5-.6l.5-.1l.5 0l.5 0l.5 .2l.5 .5l.5-.3l.5 1.3l.5-1l.5 2l.5-1.8l.5 2.2l.5-1.5l.5 2.1l.5-2.2l.5 2.5l.5-2.3l.5 2.3l.5-2.7l.5 2.3l.5-1.9l.5 2.3l.5-2.7l.5 2.9l.5-2.6l.5 2.4l.5-2.2l.5 2.6l.5-2.8l.5 2.5l.5-2.3l.5 2.4l.5-2.6l.5 2.3l.5-2.2l.5 2.5l.5-2.3l.5 1.8l.5-2l.5 2.4l.5-2.6l.5 2.2l.5-1.5l.5 1.4l.5-1.8l.5 2.1l.5-2.6l.5 2.6l.5-2.5l.5 2.6l.5-1.8l.5 1.5l.5-2.1l.5 2.7l.5-2.4l.5 1.7l.5-2.1l.5 2.4l.5-1.7l.5 1.9l.5-2.6l.5 2.6l.5-2.3l.5 2l.5-1.9l.5 2.4l.5-2.5l.5 2.4l.5-2.2l.5 2.6l.5-2.7l.5 1.8l.5-1.9l.5 2.5l.5-2.7l.5 2.7l.5-2.6l.5 2.5l.5-2.3l.5 2.4l.5-2.1l.5 2.1l.5-2.3l.5 2.3l.5-2.8l.5 2.7l.5-2.3l.5 1.8l.5-1.7l.5 1.8l.5-2l.5 2.3l.5-2.1l.5 2.4l.5-2.7l.5 2.8l.5-2.8l.5 2.5l.5-1.9l.5 1.6l.5-1.9l.5 2.5l.5-3.1l.5 3l.5-2.5l.5 2.2l.5-2l.5 2.3l.5-3l.5 2.7l.5-2.2l.5 2.4l.5-2.1l.5 2.2l.5-2.3l.5 1.6l.5-2l.5 2.8l.5-2.3l.5 2.1l.5-2.7l.5 2.7l.5-2.5l.5 2.4l.5-2.3l.5 2.5l.5-2.4l.5 2.5l.5-2.7l.5 2.2l.5-2.1l.5 2.2l.5-2.8l.5 3.2l.5-2.9l.5 2.4l.5-2.7l.5 2.4l.5-1.5l.5 1.6l.5-2.2l.5 2.7l.5-2.8l.5 2.7l.5-2.4l.5 2.6l.5-2.7l.5 2.1l.5-2.3l.5 2.4l.5-2.6l.5 2.3l.5-2.2l.5 2.4l.5-1.8l.5 2.4l.5-2.8l.5 2.1l.5-2.2l.5 2.6l.5-2.4l.5 1.9l.5-1.9l.5 2l.5-2.3l.5 2.8l.5-2.9l.5 2.5l.5-1.9l.5 2l.5-1.9l.5 1.7l.5-1.6l.5 1.3l.5-1.4l.5 1.7l.5-2.5l.5 2.4l.5-1.5l.5 1.8l.5-2.1l.5 2.2l.5-2.8l.5 2.3l.5-1.9l.5 2.4l.5-2.1l.5 1.4l.5-1.3l.5 1.6l.5-2.2l.5 1.8l.5-1.7l.5 2l.5-2l.5 1.8l.5-1.5l.5 1.6l.5-2.1l.5 2.2l.5-2.3l.5 2l.5-2.1l.5 1.9l.5-1.3l.5 1.4l.5-1.8l.5 1.7l.5-1.6l.5 1.4l.5-1.7l.5 1.3l.5-1.6l.5 1.4l.5-1.2l.5 1l.5-1l.5 .9l.5-1.2l.5 .9l.5-.9l.5 .5l.5-.6l.5 .2l.5-.6l.5 0l.5-.3l.5-.3l.5-.3l.5-.4l.5-.5l.5-.7l.5-.8l.5-1.1l.5-1.4l.5-1.9l.5-2.4l.5-3l.5-3.9l.5-4.6l.5-5.5l.5-6.4l.5-7l.5-7.5l.5-7.4l.5-6.8l.5-5.3l.5-3.1l.5-.3l.5 2.5l.5 5l.5 6.6l.5 7.3l.5 7.5l.5 7.2l.5 6.5l.5 5.7l.5 4.8l.5 4l.5 3.2l.5 2.5l.5 1.9l.5 1.5l.5 1.2l.5 .9l.5 .6l.5 .6l.5 .4l.5 .4l.5 .3l.5 .2l.5 .4l.5-.2l.5 .7l.5-.3l.5 .8l.5-.7l.5 1.2l.5-1.3l.5 1.6l.5-1.5l.5 1.4l.5-1l.5 1.5l.5-1.5l.5 1.5l.5-1.3l.5 1.4l.5-1.7l.5 1.7l.5-1.7l.5 1.7l.5-1.1l.5 1.8l.5-2.2l.5 1.9l.5-1.9l.5 2.3l.5-2.1l.5 1.6l.5-1.3l.5 2l.5-2.6l.5 2.3l.5-2.2l.5 2.4l.5-2.2l.5 1.9l.5-2l.5 2.3l.5-2.1l.5 2.1l.5-1.9l.5 1.9l.5-1.7l.5 1.7l.5-1.8l.5 2.3l.5-2.4l.5 2.1l.5-2l.5 2.1l.5-2.6l.5 2.4l.5-2.4l.5 2l.5-1.5l.5 1.8l.5-2.2l.5 2l.5-2.2l.5 2.8l.5-2.5l.5 2.3l.5-2l.5 2.4l.5-2.4l.5 1.8l.5-1.5l.5 1.5l.5-1.9l.5 2.3l.5-2.6l.5 2.8l.5-2.5l.5 2.4l.5-2.8l.5 2.9l.5-2.7l.5 2.5l.5-2.1l.5 1.8l.5-2.3l.5 2.4l.5-1.7l.5 2l.5-2.5l.5 2.4l.5-2.2l.5 1.9l.5-2.4l.5 2.3l.5-1.9l.5 2.3l.5-1.9l.5 2l.5-2.1l.5 2.4l.5-2.7l.5 2.2l.5-2.3l.5 2.2l.5-1.9l.5 2.1l.5-2.7l.5 3.1l.5-2.7l.5 2.5l.5-2.5l.5 2.3l.5-2.2l.5 1.8l.5-2.3l.5 2.9l.5-2.7l.5 2.1l.5-1.6l.5 2.2l.5-2.3l.5 1.9l.5-2.5l.5 2.9l.5-2.8l.5 2.7l.5-2.2l.5 1.8l.5-2.5l.5 2.8l.5-2.1l.5 2.1l.5-1.9l.5 1.6l.5-1.8l.5 2l.5-2.2l.5 2l.5-2.3l.5 2.6l.5-2.2l.5 2.5l.5-2.5l.5 2.1l.5-2.1l.5 2.2l.5-2.4l.5 2.1l.5-1.9l.5 2l.5-2.6l.5 2.3l.5-2l.5 2.5l.5-2.2l.5 2l.5-1.9l.5 1.7l.5-2.1l.5 2.5l.5-2.3l.5 1.9l.5-1.7l.5 1.3l.5-1.6l.5 2.3l.5-2.1l.5 1.4l.5-1.5l.5 1.7l.5-1.7l.5 1.3l.5-1.6l.5 1.5l.5-1.5l.5 .8l.5-1.4l.5 .7l.5-1l.5 0l.5-.5l.5-.5l.5-.5l.5-.6l.5-.6l.5-.5l.5-.6l.5-.4l.5-.3l.5-.1l.5 0l.5 .3l.5 .4l.5 .4l.5 .6l.5 .6l.5 .5l.5 .6l.5 .5l.5 .6l.5 .1l.5 1l.5-.9l.5 1.4l.5-.9l.5 1.3l.5-1.5l.5 2.1l.5-1.8l.5 2.1l.5-2.2l.5 2.4l.5-1.9l.5 1.8l.5-1.8l.5 2l.5-1.8l.5 1.9l.5-2l.5 2.1l.5-1.9l.5 1.5l.5-2.2l.5 2.9l.5-2.2l.5 1.4l.5-1.3l.5 1.9l.5-2l.5 2.1l.5-2.5l.5 2l.5-1.6l.5 2.1l.5-2.4l.5 2l.5-2.1l.5 2.8l.5-2.7l.5 2l.5-1.5l.5 2.2l.5-3l.5 2.3l.5-1.7l.5 1.9l.5-2.2l.5 2.4l.5-2.6l.5 2.6l.5-2.6l.5 2.2l.5-1.9l.5 2.1l.5-1.8l.5 1.5l.5-1.5l.5 1.6l.5-2.1l.5 2l.5-2l.5 2.8l.5-2.8l.5 2.6l.5-2l.5 1.9l.5-2.7l.5 2.4l.5-2.4l.5 2.3l.5-2.1l.5 2l.5-1.7l.5 2l.5-2.4l.5 2.1l.5-2.2l.5 2l.5-1.8l.5 1.8l.5-1.7l.5 1.8l.5-1.6l.5 1.6l.5-1.6l.5 2.1l.5-2l.5 1.4l.5-1.5l.5 1.6l.5-1.6l.5 1.5l.5-1.9l.5 1.7l.5-1.5l.5 1.5l.5-1.5l.5 1.6l.5-2l.5 1.4l.5-1.5l.5 1.6l.5-1.6l.5 1.5l.5-1.8l.5 1.5l.5-1.2l.5 1.2l.5-1.4l.5 .8l.5-1.1l.5 .6l.5-.9l.5-.1l.5-.5l.5-.6l.5-.7l.5-1l.5-1.3l.5-1.6l.5-2l.5-2.4l.5-3l.5-3.3l.5-3.7l.5-3.9l.5-3.9l.5-3.6l.5-2.8l.5-1.7l.5-.1l.5 1.3l.5 2.6l.5 3.5l.5 3.9l.5 3.9l.5 3.8l.5 3.4l.5 3l.5 2.6l.5 2.1l.5 1.7l.5 1.3l.5 1l.5 .8l.5 .6l.5 .4l.5 .6l.5-.2l.5 1.1l.5-.9l.5 1.3l.5-1l.5 1.1l.5-1.2l.5 1.7l.5-1.2l.5 1.2l.5-1.5l.5 1.8l.5-1.6l.5 1.8l.5-1.4l.5 1.6l.5-2l.5 1.9l.5-1.7l.5 1.7l.5-1.7l.5 1.7l.5-1.5l.5 2.2l.5-2l.5 1.8l.5-2.2l.5 2.2l.5-2l.5 1.8l.5-1.8l.5 2.1l.5-2.4l.5 2.4l.5-1.8l.5 2l.5-2.5l.5 2.1l.5-1.8l.5 2.1l.5-2.4l.5 2.4l.5-2.3l.5 2.4l.5-1.9l.5 1.7l.5-2l.5 2.2l.5-2.1l.5 1.8l.5-2.2l.5 2.9l.5-3l.5 2.8l.5-2.7l.5 2.5l.5-2.3l.5 2.1l.5-2.3l.5 3l.5-3.2l.5 2.4l.5-1.7l.5 1.9l.5-2.4l.5 2.8l.5-2.1l.5 1.6l.5-1.8l.5 2l.5-1.7l.5 1.9l.5-2l.5 2l.5-2.7l.5 2.5l.5-2l.5 1.8l.5-2.4l.5 3.2l.5-2.4l.5 2l.5-2.8l.5 2.9l.5-2l.5 2.1l.5-2.4l.5 2l.5-2.1l.5 2.6l.5-2.7l.5 1.9l.5-2.2l.5 3l.5-2.5l.5 2.5l.5-3l.5 2.2l.5-1.7l.5 2l.5-2.2l.5 2.1l.5-1.8l.5 2.3l.5-2.4l.5 2l.5-2.2l.5 2.2l.5-2.2l.5 2.1l.5-2.1l.5 2.7l.5-2.4l.5 1.6l.5-1.7l.5 2.4l.5-2.7l.5 2.7l.5-2.2l.5 1.5l.5-1.8l.5 2.1l.5-2.2l.5 2.3l.5-2l.5 2.1l.5-2.1l.5 1.7l.5-1.7l.5 1.8l.5-2.4l.5 2.8l.5-2.5l.5 1.9l.5-1.6l.5 1.8l.5-2l.5 2.5l.5-2.8l.5 2.3l.5-2.1l.5 1.9l.5-2l.5 2.5l.5-2.4l.5 1.7l.5-1.7l.5 2l.5-2.3l.5 2.2l.5-2.2l.5 2.2l.5-2.3l.5 2.1l.5-2.3l.5 1.6l.5-1.7l.5 1.2l.5-1.1l.5 .8l.5-1.4l.5 0l.5-.7l.5-.7l.5-.8l.5-.9l.5-.9l.5-1.1l.5-1l.5-.9l.5-.8l.5-.6l.5-.1l.5 .1l.5 .6l.5 .8l.5 .9l.5 1l.5 1.1l.5 1l.5 .8l.5 .8l.5 .7l.5 .8l.5 0l.5 1.2l.5-1l.5 1.4l.5-1.1l.5 2.1l.5-2.2l.5 2l.5-1.8l.5 2.1l.5-1.5l.5 1.4l.5-2l.5 2l.5-1.8l.5 2.5l.5-2.4l.5 2.4l.5-2.3l.5 2l.5-2.1l.5 1.9l.5-1.3l.5 2l.5-2.8l.5 2.3l.5-1.7l.5 2l.5-2l.5 2.3l.5-2.8l.5 2.9l.5-2.9l.5 2.2l.5-1.7l.5 2.4l.5-2.8l.5 2.4l.5-2l.5 1.9l.5-2.1l.5 2.8l.5-3.1l.5 3.1l.5-2.4l.5 2.4l.5-3l.5 2.3l.5-2.1l.5 2l.5-1.6l.5 2l.5-2l.5 2l.5-2.4l.5 2.8l.5-3.1l.5 2.4l.5-1.7l.5 2.1l.5-2.2l.5 2.6l.5-2.6l.5 2.2l.5-2.2l.5 2.1l.5-2.6l.5 2.4l.5-1.7l.5 1.9l.5-2.8l.5 2.9l.5-2l.5 2l.5-2.5l.5 2.4l.5-2.2l.5 2.3l.5-2.5l.5 2.8l.5-2.4l.5 2.3l.5-2.4l.5 2.3l.5-2.8l.5 2.6l.5-2.6l.5 2.3l.5-1.6l.5 1.7l.5-1.8l.5 2.4l.5-2.8l.5 2l.5-2.3l.5 2.9l.5-2.3l.5 2l.5-2.1l.5 1.9l.5-1.9l.5 2.5l.5-2.4l.5 2.2l.5-2.4l.5 1.8l.5-2.1l.5 2.5l.5-2.7l.5 2.4l.5-1.5l.5 2.1l.5-2.5l.5 2.5l.5-2.2l.5 2.2l.5-2.6l.5 2.3l.5-1.8l.5 2.4l.5-3.2l.5 3.1l.5-2.6l.5 2.1l.5-2l.5 1.9l.5-1.9l.5 2.2l.5-2.3l.5 1.8l.5-1.5l.5 2.4l.5-2.6l.5 1.9l.5-1.9l.5 1.8l.5-2l.5 2.2l.5-2.3l.5 2.2l.5-2.6l.5 2.8l.5-2.6l.5 2.3l.5-2.2l.5 2.2l.5-2.5l.5 3.3l.5-3.3l.5 3.2l.5-2.8l.5 2.1l.5-2.1l.5 2.5l.5-2.9l.5 2.9l.5-2.9l.5 2.6l.5-1.9l.5 2.5l.5-3l.5 2.6l.5-1.9l.5 1.8l.5-2.6l.5 2.5l.5-1.8l.5 1.9l.5-2.1l.5 2.7l.5-2.7l.5 1.9l.5-2l.5 2.2l.5-2.2l.5 2.5l.5-2.1l.5 2.1l.5-2.5l.5 2.7l.5-2.7l.5 2l.5-1.9l.5 2l.5-2.4l.5 2.5l.5-2.2l.5 1.9l.5-2.1l.5 3l.5-2.8l.5 2.2l.5-2.3l.5 2.6l.5-2.5l.5 2.3l.5-2.2l.5 2l.5-1.9l.5 2.1l.5-2.1l.5 2l.5-2.1l.5 1.9l.5-2l.5 2.3l.5-2.8l.5 2.5l.5-2.1l.5 2.7l.5-2.3l.5 2.4l.5-2.4l.5 2.5l.5-3.1l.5 2.3l.5-2.4l.5 3l.5-2.9l.5 2.5l.5-2.6l.5 3.1l.5-3l.5 2.4l.5-2l.5 2.4l.5-3l.5 2.9l.5-2.4l.5 2.4l.5-2.4l.5 2.6l.5-2.3l.5 2.4l.5-2.9l.5 2.1l.5-2l.5 2l.5-1.8l.5 2.2l.5-2.1l.5 2.5l.5-2.5l.5 2.3l.5-2.7l.5 2.8l.5-2.5l.5 1.9l.5-1.7l.5 2l.5-2.3l.5 2l.5-1.7l.5 2l.5-2.1l.5 2.5l.5-2.7l.5 2.4l.5-2.5l.5 2.2l.5-1.9l.5 2.5l.5-3.2l.5 2.3l.5-1.9l.5 2l.5-2l.5 2.2l.5-2.4l.5 2.8l.5-2.5l.5 2.7l.5-3.1l.5 2.5l.5-2.1l.5 2.5l.5-2.6l.5 2l.5-2.1l.5 2.5l.5-1.9l.5 1.9l.5-2.1l.5 2.3l.5-2.7l.5 2.3l.5-1.9l.5 2.1l.5-2.5l.5 1.9l.5-1.7l.5 1.7l.5-2.1l.5 1.9l.5-1.7l.5 1.8l.5-1.8l.5 1.2l.5-1.8l.5 1.2l.5-1.7l.5 .3l.5-.8l.5-.5l.5-.5l.5-.5l.5-.4l.5-.1l.5 0l.5 .3l.5 .5l.5 .5l.5 .5l.5 .7l.5-.1l.5 1.2l.5-.8l.5 1.8l.5-1.4l.5 2l.5-1.4l.5 1.4l.5-2l.5 2.8l.5-2.6l.5 2.4l.5-2.3l.5 2.7l.5-2.1l.5 1.9l.5-2.7l.5 2.5l.5-1.9l.5 2.1l.5-2.5l.5 2.4l.5-2.6l.5 2.6l.5-1.9l.5 1.9l.5-2.2l.5 2l.5-1.8l.5 2.1l.5-2.4l.5 2.7l.5-2.8l.5 2.2l.5-1.8l.5 2.4l.5-3l.5 2.6l.5-1.8l.5 2l.5-2.4l.5 2l.5-2.2l.5 2.7l.5-2l.5 2.1l.5-2.1l.5 1.8l.5-2.7l.5 2.7l.5-2.4l.5 2.1l.5-2.3l.5 3.1l.5-2.3l.5 1.6l.5-2.4l.5 3.2l.5-3.2l.5 2.5l.5-2.4l.5 2.3l.5-2.5l.5 2.8l.5-2.1l.5 1.7l.5-1.9l.5 2l.5-1.7l.5 2.4l.5-2.4l.5 2.1l.5-2.8l.5 2.9l.5-3l.5 3.1l.5-2.8l.5 2.9l.5-2.9l.5 2.8l.5-2.6l.5 2.1l.5-2.1l.5 2.3l.5-2.7l.5 2.8l.5-2.4l.5 2.5l.5-2.7l.5 2.6l.5-2.7l.5 2.7l.5-2.7l.5 2.9l.5-2.9l.5 2.4l.5-2.6l.5 2.6l.5-2.1l.5 2.1l.5-2.5l.5 3.1l.5-2.9l.5 2.3l.5-2.2l.5 2.8l.5-2.5l.5 2.5l.5-2.7l.5 2.2l.5-2.2l.5 1.9l.5-1.8l.5 2.6l.5-2.3l.5 2.3l.5-2.6l.5 2.5l.5-2.8l.5 2.6l.5-2.8l.5 3.2l.5-2.8l.5 2l.5-1.6l.5 2.1l.5-2.8l.5 3l.5-2.6l.5 2.4l.5-2.2l.5 1.8l.5-2.4l.5 2.7l.5-2.7l.5 2.8l.5-2.6l.5 2.1l.5-2.4l.5 2.4l.5-2l.5 2.7l.5-2.4l.5 2.4l.5-2.7l.5 2.6l.5-2.8l.5 2.4l.5-1.8l.5 1.7l.5-2l.5 2.3l.5-2.9l.5 2.9l.5-2.1l.5 2.4l.5-2.8l.5 2.8l.5-3.2l.5 3.2l.5-2.6l.5 2.5l.5-2.7l.5 2.5l.5-2.1l.5 1.7l.5-2.3l.5 2.9l.5-2.3l.5 1.7l.5-2l.5 2.3l.5-2.5l.5 2.8l.5-2.9l.5 2.9l.5-2.7l.5 2.1l.5-1.6l.5 1.6l.5-2.4l.5 2.2l.5-2l.5 2l.5-2.2l.5 3.1l.5-3l.5 2.8l.5-2.8l.5 2.1l.5-2.3l.5 2.4l.5-1.5l.5 1.9l.5-2.6l.5 2.2l.5-1.8l.5 2l.5-2.5l.5 2.6l.5-2l.5 1.9l.5-2.1l.5 2l.5-2l.5 1.8l.5-1.4l.5 2.3l.5-2.7l.5 2.3l.5-2.5l.5 2.7l.5-2.5l.5 2.5l.5-2.6l.5 2.3l.5-2l.5 1.8l.5-2.2l.5 2.2l.5-2.3l.5 2.9l.5-2.8l.5 2.7l.5-3l.5 3.2l.5-2.8l.5 2.6l.5-2.9l.5 2.8l.5-2.2l.5 1.8l.5-2.5l.5 2.6l.5-1.9l.5 2.3l.5-3l.5 2.6l.5-1.8l.5 1.7l.5-2.5l.5 3.1l.5-2.4l.5 2l.5-2.1l.5 2.4l.5-2.3l.5 1.7l.5-1.8l.5 2.5l.5-2.4l.5 2l.5-2.4l.5 2.9l.5-2.3l.5 2.1l.5-2.6l.5 2.7l.5-2.3l.5 1.9l.5-2.6l.5 2.7l.5-2.7l.5 2.4l.5-2l.5 2.2l.5-2.2l.5 2.5l.5-2.2l.5 1.7l.5-1.7l.5 1.7l.5-2.3l.5 2.7l.5-2.1l.5 1.8l.5-2l.5 2.3l.5-2.7l.5 2.5l.5-1.9l.5 1.3l.5-2.1l.5 2.9l.5-2.5l.5 2.1l.5-1.9l.5 1.9l.5-2.5l.5 2.4l.5-1.8l.5 2l.5-2.3l.5 1.7l.5-1.2l.5 1.3l.5-2l.5 2.6l.5-2l.5 1.9l.5-2.4l.5 2.4l.5-2.2l.5 2l.5-1.9l.5 1.9l.5-2.1l.5 1.8l.5-1.6l.5 1.4l.5-2l.5 2.4l.5-2.5l.5 2.7l.5-2.6l.5 2.2l.5-2.1l.5 2.1l.5-1.9l.5 1.6l.5-1.7l.5 2.2l.5-2.5l.5 1.9l.5-1.9l.5 1.7l.5-1.9l.5 2.4l.5-1.7l.5 1l.5-1.2l.5 1.4l.5-1.8l.5 1.8l.5-1.9l.5 1.6l.5-1.4l.5 1.2l.5-1.5l.5 1l.5-.9l.5 .7l.5-.9l.5 .8l.5-1.1l.5 .6l.5-.6l.5 0l.5-.4l.5-.2l.5-.4l.5-.5l.5-.6l.5-.7l.5-1.1l.5-1.4l.5-1.8l.5-2.4l.5-3.1l.5-3.8l.5-4.8l.5-5.8l.5-6.8l.5-7.8l.5-8.6l.5-9.3l.5-9.4l.5-9.2l.5-8.4l.5-7l.5-5.2l.5-3l.5-.7l.5 1.6l.5 3.9l.5 6l.5 7.6l.5 8.8l.5 9.4l.5 9.4l.5 9l.5 8.3l.5 7.4l.5 6.4l.5 5.4l.5 4.4l.5 3.5l.5 2.8l.5 2.2l.5 1.6l.5 1.2l.5 1l.5 .7l.5 .5l.5 .4l.5 .4l.5 .2l.5 .4l.5-.1l.5 .6l.5-.4l.5 .8l.5-.6l.5 .8l.5-.6l.5 1.2l.5-1.1l.5 1l.5-.9l.5 1.5l.5-1.9l.5 1.5l.5-1.1l.5 1.8l.5-2.1l.5 2.2l.5-1.8l.5 1.6l.5-1.9l.5 2l.5-1.7l.5 1.6l.5-1.3l.5 1.8l.5-2.3l.5 2.2l.5-1.8l.5 2.1l.5-1.8l.5 1.9l.5-2.6l.5 2.2l.5-2.1l.5 2.4l.5-2.5l.5 2.6l.5-2.1l.5 2l.5-1.7l.5 1.9l.5-2.1l.5 1.9l.5-2l.5 2l.5-2.5l.5 2.2l.5-1.6l.5 1.8l.5-2l.5 2.4l.5-2.5l.5 2.4l.5-2l.5 2.1l.5-2.6l.5 2.4l.5-2.2l.5 2.2l.5-2.5l.5 2.2l.5-2.1l.5 2.6l.5-2.1l.5 1.7l.5-1.9l.5 2l.5-2l.5 1.8l.5-2l.5 2.6l.5-2.1l.5 1.4l.5-2.1l.5 2.7l.5-2.4l.5 2.2l.5-2.1l.5 2l.5-1.8l.5 1.4l.5-1.4l.5 1.5l.5-2.2l.5 2.2l.5-1.8l.5 2.1l.5-2.1l.5 2.2l.5-2.5l.5 2l.5-1.8l.5 1.8l.5-1.7l.5 1.6l.5-2.1l.5 2.2l.5-1.8l.5 1.1l.5-1.1l.5 1l.5-1.2l.5 1.3l.5-1.6l.5 1.1l.5-1.2l.5 1.1l.5-1.2l.5 .8l.5-1.1l.5 .3l.5-.6l.5-.4l.5-.5l.5-.7l.5-.9l.5-1.1l.5-1.3l.5-1.6l.5-1.8l.5-2l.5-2.4l.5-2.4l.5-2.6l.5-2.6l.5-2.4l.5-2l.5-1.4l.5-.6l.5 .3l.5 1.1l.5 1.8l.5 2.2l.5 2.6l.5 2.5l.5 2.6l.5 2.4l.5 2.1l.5 2l.5 1.6l.5 1.4l.5 1.2l.5 1l.5 .7l.5 .6l.5 .5l.5 .6l.5 0l.5 .7l.5-.5l.5 1.1l.5-1.1l.5 1.3l.5-1.3l.5 1.4l.5-1.1l.5 1.4l.5-1.5l.5 1.8l.5-1.8l.5 1.8l.5-1.7l.5 2.4l.5-2.2l.5 2l.5-1.9l.5 2.3l.5-2l.5 2.1l.5-2l.5 1.9l.5-1.9l.5 1.6l.5-1.8l.5 1.8l.5-1.5l.5 1.5l.5-1.4l.5 1.4l.5-2l.5 2.5l.5-2.2l.5 1.8l.5-2.2l.5 2.8l.5-2.7l.5 2.4l.5-1.9l.5 1.9l.5-2.2l.5 1.9l.5-1.5l.5 1.9l.5-2.1l.5 2l.5-1.9l.5 1.9l.5-2.4l.5 2.4l.5-1.9l.5 2.4l.5-2.6l.5 2.4l.5-2l.5 2l.5-2l.5 1.6l.5-1.7l.5 2.2l.5-2.4l.5 2.3l.5-2.7l.5 2.1l.5-2.2l.5 3.1l.5-2.8l.5 2.5l.5-2.4l.5 2.7l.5-2.5l.5 2l.5-2l.5 1.8l.5-1.6l.5 1.6l.5-1.6l.5 2l.5-2.7l.5 3.1l.5-3.1l.5 2.8l.5-2.7l.5 2.2l.5-1.7l.5 2.4l.5-2.3l.5 2.1l.5-2.3l.5 1.8l.5-1.5l.5 1.7l.5-2l.5 1.7l.5-2l.5 2.5l.5-2.4l.5 2.3l.5-2.4l.5 2l.5-1.7l.5 2l.5-2.5l.5 2.5l.5-2l.5 2.4l.5-2.6l.5 2l.5-1.8l.5 2.3l.5-2.5l.5 2.8l.5-2.9l.5 2.5l.5-2.8l.5 2.4l.5-2.2l.5 2.3l.5-2.4l.5 2.3l.5-1.5l.5 2l.5-2.5l.5 2.5l.5-2.7l.5 3l.5-2.5l.5 2l.5-2.7l.5 2.3l.5-2.3l.5 3l.5-3l.5 2.8l.5-2.3l.5 2.2l.5-2.4l.5 2.9l.5-2.3l.5 2.2l.5-2.6l.5 2.7l.5-2.5l.5 1.8l.5-2.4l.5 2.4l.5-2.4l.5 2.6l.5-2.1l.5 1.9l.5-2.4l.5 2.6l.5-2.3l.5 2.8l.5-2.4l.5 2.3l.5-2.9l.5 2.9l.5-2.9l.5 2.7l.5-2.4l.5 2.1l.5-2.1l.5 2.1l.5-1.8l.5 1.8l.5-1.9l.5 1.8l.5-2.5l.5 2.8l.5-2l.5 2.2l.5-2.8l.5 2.6l.5-2.5l.5 2.7l.5-2.7l.5 2.2l.5-1.5l.5 1.4l.5-2.3l.5 2.5l.5-2.3l.5 2.6l.5-2.4l.5 2l.5-1.7l.5 2.2l.5-2.8l.5 2.3l.5-2.4l.5 2.7l.5-2.2l.5 2.4l.5-2.8l.5 3l.5-2.3l.5 1.9l.5-2.7l.5 2.4l.5-1.8l.5 1.7l.5-1.8l.5 2.4l.5-3l.5 2.5l.5-2.3l.5 2.6l.5-2l.5 2.3l.5-2.7l.5 1.9l.5-1.8l.5 2l.5-2.2l.5 2.9l.5-2.9l.5 2.4l.5-2.1l.5 2.6l.5-3.2l.5 2.9l.5-2.3l.5 1.9l.5-2.4l.5 2.6l.5-2.4l.5 2.7l.5-2.1l.5 2.1l.5-2.6l.5 2.9l.5-2.4l.5 1.9l.5-2.4l.5 2.4l.5-2.7l.5 2.9l.5-2.3l.5 2.1l.5-2.3l.5 2.7l.5-2.6l.5 2.4l.5-2.2l.5 2.2l.5-2.6l.5 2.9l.5-2.4l.5 1.5l.5-1.4l.5 1.5l.5-1.7l.5 2.2l.5-2.3l.5 2l.5-2.4l.5 2.2l.5-2.4l.5 2.3l.5-2.3l.5 3l.5-2.6l.5 2.7l.5-2.3l.5 1.8l.5-2.6l.5 3.1l.5-3.1l.5 2.7l.5-2l.5 1.6l.5-2.2l.5 2.7l.5-2.8l.5 3.1l.5-2.5l.5 2.2l.5-2.2l.5 1.7l.5-1.6l.5 2l.5-2.5l.5 2.8l.5-2.7l.5 1.9l.5-1.7l.5 1.7l.5-1.8l.5 2l.5-2.1l.5 2.3l.5-2.1l.5 2.3l.5-2.6l.5 2.2l.5-1.8l.5 1.6l.5-1.8l.5 2.5l.5-2.4l.5 1.7l.5-2.3l.5 2.9l.5-2.2l.5 2.2l.5-2l.5 2l.5-2.5l.5 2.8l.5-3l.5 2.2l.5-2.1l.5 2l.5-1.8l.5 2.3l.5-2.7l.5 2.7l.5-2.4l.5 2.5l.5-2.2l.5 2.3l.5-2.4l.5 1.7l.5-1.8l.5 2.3l.5-2.7l.5 2.5l.5-2.2l.5 2.1l.5-2.5l.5 2.5l.5-2.2l.5 2.6l.5-2.1l.5 2.2l.5-2.3l.5 2.4l.5-2.7l.5 2.3l.5-2.8l.5 2.9l.5-2.1l.5 1.7l.5-2l.5 1.8l.5-1.5l.5 1.7l.5-2.1l.5 1.9l.5-1.6l.5 2.3l.5-2.7l.5 2.2l.5-2.3l.5 2.4l.5-2.1l.5 2.2l.5-2.8l.5 2.5l.5-1.7l.5 1.2l.5-1.5l.5 1.7l.5-2.2l.5 2.1l.5-1.4l.5 1.2l.5-1.7l.5 2.1l.5-2.4l.5 1.6l.5-1.3l.5 1.5l.5-2l.5 1.8l.5-1.5l.5 .9l.5-1.4l.5 .7l.5-1l.5-.2l.5-.5l.5-.7l.5-.7l.5-.9l.5-1.1l.5-1.2l.5-1.3l.5-1.4l.5-1.5l.5-1.6l.5-1.4l.5-1.4l.5-1l.5-.7l.5-.3l.5 .3l.5 .7l.5 1l.5 1.4l.5 1.4l.5 1.5l.5 1.6l.5 1.4l.5 1.3l.5 1.2l.5 1l.5 .9l.5 .8l.5 .6l.5 .6l.5 .3l.5 .8l.5-.4l.5 1.2l.5-1.1l.5 1.2l.5-.8l.5 1.5l.5-1.9l.5 2.1l.5-1.9l.5 1.9l.5-1.9l.5 1.7l.5-1.5l.5 2.1l.5-1.8l.5 2l.5-1.8l.5 1.8l.5-2.3l.5 2.3l.5-1.9l.5 1.4l.5-2l.5 2.7l.5-2.6l.5 2.6l.5-1.9l.5 1.6l.5-2l.5 1.7l.5-2l.5 2.6l.5-2.2l.5 1.7l.5-2l.5 1.9l.5-1.5l.5 1.6l.5-2.2l.5 2.6l.5-2.4l.5 1.8l.5-1.6l.5 1.8l.5-1.9l.5 1.8l.5-1.8l.5 1.6l.5-1.7l.5 2.1l.5-2.3l.5 1.7l.5-1.7l.5 1.4l.5-1.6l.5 1.1l.5-1.2l.5 .2l.5-.8l.5-.5l.5-.7l.5-.8l.5-1l.5-1.1l.5-1.2l.5-1.2l.5-1.3l.5-1.1l.5-1l.5-.7l.5-.2l.5 .2l.5 .7l.5 1l.5 1.1l.5 1.3l.5 1.3l.5 1.2l.5 1.1l.5 .9l.5 .9l.5 .7l.5 .4l.5 .9l.5-.5l.5 1.6l.5-1.4l.5 1.7l.5-1.3l.5 1.7l.5-1.9l.5 2l.5-1.4l.5 1.4l.5-1.6l.5 1.7l.5-2l.5 2.8l.5-2.4l.5 2.1l.5-2.4l.5 2.2l.5-1.8l.5 2.5l.5-2.1l.5 1.7l.5-2.1l.5 1.9l.5-1.6l.5 1.6l.5-2l.5 2.1l.5-1.7l.5 2.3l.5-2.6l.5 2.1l.5-1.6l.5 1.4l.5-1.6l.5 1.9l.5-1.7l.5 1.6l.5-1.7l.5 2.3l.5-2.8l.5 2.2l.5-1.9l.5 1.8l.5-1.8l.5 2l.5-1.9l.5 1.7l.5-1.7l.5 1.9l.5-2l.5 2.4l.5-2.8l.5 2.5l.5-2l.5 2.3l.5-2.1l.5 1.5l.5-2l.5 2.3l.5-1.8l.5 2l.5-2.5l.5 2.1l.5-2l.5 2.2l.5-2.6l.5 2.9l.5-2.1l.5 1.9l.5-2.3l.5 2.7l.5-2.2l.5 2.3l.5-2.5l.5 1.8l.5-2.2l.5 2.3l.5-1.9l.5 2.4l.5-2.3l.5 1.6l.5-2.2l.5 3.1l.5-3l.5 2.6l.5-2.5l.5 2.6l.5-3l.5 3.1l.5-2.2l.5 2.1l.5-2.7l.5 2.7l.5-2.8l.5 2.9l.5-2.4l.5 2.2l.5-2.2l.5 2.3l.5-2.3l.5 2.5l.5-2.5l.5 2.5l.5-2.5l.5 1.7l.5-2.2l.5 3l.5-3.1l.5 3.1l.5-2.5l.5 1.8l.5-1.7l.5 2.2l.5-2.8l.5 2.5l.5-2.1l.5 2.3l.5-2.4l.5 2.7l.5-2.9l.5 2.9l.5-2.3l.5 2.3l.5-2.8l.5 2.2l.5-2.1l.5 2.2l.5-2.1l.5 1.8l.5-2.1l.5 2.1l.5-2.3l.5 2.5l.5-2.1l.5 2.6l.5-2.8l.5 2.9l.5-2.7l.5 2.8l.5-3l.5 2.3l.5-2.5l.5 3l.5-2.6l.5 2.7l.5-2.7l.5 2.6l.5-3l.5 3.1l.5-3.2l.5 2.5l.5-1.6l.5 1.5l.5-1.5l.5 2.4l.5-3.3l.5 2.7l.5-2l.5 2.6l.5-2.8l.5 2.7l.5-2.8l.5 2.6l.5-3l.5 3l.5-2.8l.5 2.8l.5-2.8l.5 2.1l.5-1.9l.5 2.1l.5-2l.5 1.8l.5-1.9l.5 2.1l.5-2.2l.5 2.6l.5-2.2l.5 2.1l.5-2.4l.5 2.2l.5-2l.5 2.4l.5-2.8l.5 2.2l.5-1.8l.5 2l.5-1.9l.5 2.1l.5-2.7l.5 2.5l.5-1.7l.5 2.2l.5-2.5l.5 2.7l.5-2.4l.5 2.1l.5-2.2l.5 2l.5-2l.5 1.8l.5-1.7l.5 2.3l.5-2.5l.5 2.5l.5-2.6l.5 2.3l.5-2.8l.5 2.9l.5-3l.5 3.1l.5-2.4l.5 2.4l.5-2.4l.5 1.8l.5-2l.5 2.2l.5-1.9l.5 2l.5-2.5l.5 2.6l.5-2.2l.5 2.1l.5-2.5l.5 2.6l.5-2.4l.5 1.8l.5-2.1l.5 2.2l.5-2l.5 1.9l.5-1.6l.5 2.1l.5-2.7l.5 2.8l.5-2.2l.5 1.5l.5-1.6l.5 2l.5-1.8l.5 2.2l.5-2.5l.5 2.4l.5-2.8l.5 2.7l.5-2.2l.5 2.2l.5-2.5l.5 2.1l.5-2.1l.5 2l.5-1.8l.5 2.2l.5-2.2l.5 2.3l.5-2.6l.5 2.4l.5-2l.5 2l.5-2.6l.5 2.3l.5-2.2l.5 2.2l.5-1.8l.5 1.8l.5-2.3l.5 2.8l.5-2.5l.5 2.4l.5-2.5l.5 1.8l.5-2.1l.5 2.7l.5-2.8l.5 2.1l.5-1.6l.5 1.8l.5-2.3l.5 2.2l.5-1.8l.5 1.6l.5-1.8l.5 1.8l.5-1.7l.5 2.1l.5-2.1l.5 1.8l.5-1.7l.5 1.1l.5-1.7l.5 2.1l.5-1.9l.5 1.4l.5-1.2l.5 .9l.5-1.3l.5 1.3l.5-1.3l.5 .6l.5-1l.5 .7l.5-.9l.5 0l.5-.5l.5-.5l.5-.7l.5-.9l.5-1l.5-1.4l.5-1.7l.5-2l.5-2.4l.5-2.7l.5-3l.5-3.2l.5-3.3l.5-3.2l.5-2.8l.5-2l.5-1.1l.5 .1l.5 1.3l.5 2.2l.5 2.9l.5 3.2l.5 3.3l.5 3.2l.5 2.9l.5 2.6l.5 2.3l.5 1.9l.5 1.6l.5 1.3l.5 1.1l.5 .8l.5 .6l.5 .5l.5 .3l.5 .4l.5 0l.5 .6l.5-.5l.5 1l.5-.7l.5 .7l.5-.7l.5 .8l.5-.8l.5 .9l.5-.8l.5 1l.5-.9l.5 .9l.5-1.3l.5 1.3l.5-1.2l.5 .9l.5-.9l.5 .6l.5-.8l.5 .2l.5-.6l.5-.2l.5-.5l.5-.6l.5-.8l.5-1l.5-1.2l.5-1.5l.5-1.7l.5-1.9l.5-2.2l.5-2.2l.5-2.2l.5-2.1l.5-1.7l.5-1.2l.5-.4l.5 .5l.5 1.1"/>
<path stroke="#000" d="M36.0 1484.4l.5 2.2l.5-2l.5 2l.5-2.1l.5 2.3l.5-2.7l.5 2.8l.5-2.8l.5 2.7l.5-2.6l.5 2.4l.5-2.2l.5 2.8l.5-3l.5 2.5l.5-2.1l.5 2.7l.5-2.7l.5 2.2l.5-1.9l.5 1.6l.5-1.7l.5 1.9l.5-2.5l.5 2.4l.5-2.3l.5 2.8l.5-2.9l.5 2.8l.5-2.4l.5 2.2l.5-2.3l.5 2l.5-2.4l.5 2.6l.5-2.1l.5 2.2l.5-2.5l.5 2.7l.5-2.5l.5 2.2l.5-2l.5 2.4l.5-2.8l.5 2.7l.5-2.5l.5 2.7l.5-2.5l.5 2l.5-1.8l.5 1.7l.5-2.2l.5 2.7l.5-2.9l.5 2.7l.5-2.8l.5 2.9l.5-2.3l.5 2.3l.5-2.2l.5 1.9l.5-2l.5 2.3l.5-2.4l.5 2.3l.5-2.1l.5 2.4l.5-2.7l.5 2.5l.5-2.9l.5 3l.5-2.5l.5 2.7l.5-2.5l.5 1.9l.5-2.3l.5 2.6l.5-2.9l.5 2.8l.5-2.7l.5 2.4l.5-2.5l.5 3l.5-2.9l.5 2.5l.5-2.3l.5 2.8l.5-3l.5 2.7l.5-2.4l.5 2.7l.5-2.4l.5 2.4l.5-2.9l.5 2.5l.5-2.4l.5 2.8l.5-2.3l.5 1.7l.5-2.4l.5 2.5l.5-2.4l.5 2.6l.5-2.3l.5 2.1l.5-2.6l.5 2.7l.5-2.4l.5 2.5l.5-2l.5 2.1l.5-2.5l.5 2.5l.5-2.4l.5 1.9l.5-1.7l.5 2.3l.5-2.3l.5 2.3l.5-2.7l.5 2.4l.5-2.6l.5 2.8l.5-2.9l.5 2.4l.5-2.2l.5 2.3l.5-2.2l.5 2.1l.5-2.4l.5 2.5l.5-2.4l.5 2.6l.5-2.7l.5 3.1l.5-2.6l.5 2l.5-2.3l.5 2.5l.5-2.4l.5 2.2l.5-1.8l.5 2.5l.5-2.8l.5 2.4l.5-2.7l.5 2.4l.5-2.2l.5 2.3l.5-1.9l.5 1.8l.5-2.5l.5 3.2l.5-2.8l.5 2.1l.5-2.1l.5 2l.5-2l.5 2.8l.5-2.5l.5 2.2l.5-2.7l.5 2.5l.5-2.6l.5 2.9l.5-2.6l.5 2.6l.5-2.7l.5 2.3l.5-2l.5 2.6l.5-2.5l.5 2.3l.5-2.3l.5 2.3l.5-2.8l.5 2.6l.5-2.5l.5 2.1l.5-2.4l.5 2.6l.5-2.4l.5 2.7l.5-2.1l.5 1.9l.5-2l.5 2.5l.5-2.4l.5 1.9l.5-2.5l.5 2.4l.5-2.4l.5 2.4l.5-2.1l.5 2.6l.5-2.4l.5 2.1l.5-2.3l.5 2.5l.5-2.9l.5 2.8l.5-2.2l.5 2.3l.5-2.4l.5 2.2l.5-2.7l.5 2.9l.5-2.7l.5 2.7l.5-2.2l.5 1.9l.5-2.4l.5 2.8l.5-2.5l.5 1.9l.5-2.4l.5 2.4l.5-1.8l.5 2.3l.5-2.9l.5 3l.5-2.3l.5 2.1l.5-2.6l.5 2.5l.5-2.7l.5 2.3l.5-1.6l.5 2.1l.5-2.5l.5 2.7l.5-2.8l.5 2.8l.5-2.4l.5 1.9l.5-2.4l.5 2.4l.5-2.4l.5 2.7l.5-2.7l.5 2.5l.5-2.6l.5 3l.5-2.8l.5 2.5l.5-2.3l.5 2.6l.5-2.8l.5 2.8l.5-2.7l.5 2.4l.5-2.4l.5 2l.5-2.1l.5 2.2l.5-2.5l.5 3l.5-2.9l.5 2.7l.5-2.2l.5 2.2l.5-2.5l.5 2.5l.5-2.4l.5 2.6l.5-2.9l.5 2.7l.5-2.6l.5 2.4l.5-2l.5 2.2l.5-2.4l.5 2.6l.5-2.3l.5 2l.5-2.2l.5 2.3l.5-2.4l.5 2.5l.5-2.5l.5 2.4l.5-2.4l.5 2.7l.5-2.5l.5 2.5l.5-2.4l.5 1.9l.5-2.2l.5 2.7l.5-2.4l.5 1.8l.5-2.4l.5 2.6l.5-2.6l.5 2.5l.5-2.5l.5 2.8l.5-2.3l.5 2.5l.5-3l.5 2.9l.5-2.5l.5 2l.5-1.8l.5 2.5l.5-3l.5 2.9l.5-2.8l.5 2.5l.5-2l.5 2.3l.5-3l.5 2.6l.5-2.3l.5 2.3l.5-2.5l.5 2.4l.5-2l.5 1.8l.5-2l.5 2.3l.5-2.7l.5 2.7l.5-2.2l.5 2.3l.5-2.8l.5 3.2l.5-2.6l.5 2.6l.5-3.1l.5 2.5l.5-2.6l.5 3l.5-2.8l.5 2.3l.5-2.2l.5 2.8l.5-2.5l.5 2l.5-2.5l.5 3l.5-2.6l.5 2.4l.5-2.8l.5 2.3l.5-1.9l.5 2.2l.5-2.6l.5 3l.5-2.6l.5 2.5l.5-2.9l.5 3l.5-3.1l.5 3.1l.5-2.7l.5 2.3l.5-2.3l.5 2.7l.5-2.9l.5 2.3l.5-2.1l.5 2.2l.5-2.5l.5 2.4l.5-2.5l.5 2.5l.5-2.3l.5 2.4l.5-2l.5 2l.5-2.2l.5 2.1l.5-2.2l.5 2.1l.5-2.2l.5 2.2l.5-1.8l.5 2.2l.5-2.7l.5 2.7l.5-2.1l.5 1.8l.5-1.9l.5 2.1l.5-2.3l.5 2.7l.5-2.8l.5 2.5l.5-2.3l.5 2.7l.5-2.9l.5 2.8l.5-2.5l.5 2.3l.5-2.6l.5 2.4l.5-2.7l.5 2.5l.5-2.4l.5 2.9l.5-2.8l.5 2.3l.5-2.4l.5 3l.5-2.4l.5 2.2l.5-2.7l.5 2.4l.5-2.4l.5 2.6l.5-2.7l.5 2.6l.5-2.5l.5 3l.5-2.4l.5 2l.5-2.6l.5 3l.5-3l.5 2.5l.5-2.7l.5 2.7l.5-2.3l.5 2.4l.5-2.6l.5 2.6l.5-2.8l.5 2.6l.5-2.5l.5 2.6l.5-2.7l.5 2.4l.5-2.2l.5 2.4l.5-2.1l.5 2.3l.5-2.2l.5 2.3l.5-2.3l.5 2.5l.5-2.8l.5 2.3l.5-1.8l.5 1.7l.5-1.9l.5 2.3l.5-2.9l.5 3.1l.5-2.4l.5 2.2l.5-2.3l.5 2.4l.5-2.9l.5 2.7l.5-2.4l.5 2.7l.5-2.5l.5 2.4l.5-2.5l.5 2.6l.5-2.6l.5 2.4l.5-2.7l.5 2.2l.5-2.3l.5 2.6l.5-2.6l.5 3l.5-2.7l.5 2.5l.5-2.4l.5 2.4l.5-2.5l.5 2l.5-1.8l.5 2.4l.5-2.6l.5 2.4l.5-2.3l.5 1.9l.5-1.8l.5 2l.5-2.5l.5 2.5l.5-2l.5 1.9l.5-1.9l.5 2.6l.5-2.8l.5 2.3l.5-2.3l.5 2.5l.5-2.3l.5 2.3l.5-2.4l.5 1.9l.5-2.3l.5 2.5l.5-2l.5 2l.5-2.2l.5 2l.5-2.4l.5 2.6l.5-2.1l.5 2.4l.5-2.4l.5 2.1l.5-2.2l.5 2.4l.5-2.4l.5 2.1l.5-1.8l.5 1.8l.5-1.7l.5 2.3l.5-3.1l.5 2.7l.5-2.1l.5 2.6l.5-2.8l.5 2.2l.5-2.4l.5 2.9l.5-2.9l.5 2.6l.5-2.7l.5 2.7l.5-2l.5 1.7l.5-1.9l.5 2.2l.5-2.1l.5 2.2l.5-2.7l.5 2.9l.5-2.7l.5 2l.5-2.4l.5 2.8l.5-2.4l.5 2.2l.5-2.5l.5 2.6l.5-2.5l.5 2.8l.5-3l.5 3l.5-2.3l.5 1.8l.5-1.8l.5 2.2l.5-2.2l.5 1.9l.5-2.3l.5 2.4l.5-1.9l.5 2l.5-2.5l.5 2.4l.5-2.5l.5 2.2l.5-2.3l.5 2.9l.5-2.8l.5 2.9l.5-2.9l.5 2.4l.5-2.2l.5 2.1l.5-2.2l.5 2.8l.5-2.4l.5 2.3l.5-2.5l.5 2.6l.5-2.4l.5 2.1l.5-2.2l.5 1.8l.5-1.8l.5 2.1l.5-2.1l.5 2.3l.5-2.7l.5 2.2l.5-1.7l.5 1.8l.5-2.1l.5 2.3l.5-2.5l.5 2.8l.5-2.2l.5 1.8l.5-2.1l.5 2.1l.5-2.2l.5 2.3l.5-2.6l.5 2.4l.5-2.3l.5 2.9l.5-2.7l.5 2.2l.5-1.9l.5 2.5l.5-2.9l.5 2.2l.5-2.4l.5 2.3l.5-2.1l.5 2.1l.5-2.2l.5 2.4l.5-2.2l.5 2.7l.5-2.5l.5 2.1l.5-2.4l.5 2.5l.5-2.5l.5 2.3l.5-2.6l.5 2.6l.5-1.8l.5 1.7l.5-2.1l.5 2.5l.5-2.2l.5 1.8l.5-2.3l.5 2.4l.5-2.3l.5 2.4l.5-2l.5 2.3l.5-2.3l.5 1.7l.5-2.4l.5 2.9l.5-2.2l.5 2l.5-2.2l.5 1.9l.5-2.1l.5 2.8l.5-2.5l.5 2.4l.5-2.2l.5 1.8l.5-2.5l.5 2.4l.5-2.1l.5 2.5l.5-2.2l.5 2.2l.5-2.4l.5 2.5l.5-2.6l.5 2.4l.5-2.8l.5 3l.5-2.8l.5 2.9l.5-2.6l.5 2.1l.5-2.5l.5 2.5l.5-2.1l.5 2.4l.5-2.8l.5 2.3l.5-2l.5 2.4l.5-2.5l.5 2.2l.5-2l.5 1.9l.5-2.2l.5 2.5l.5-2l.5 2.2l.5-2.2l.5 2l.5-2.5l.5 2.4l.5-1.9l.5 2.2l.5-2.7l.5 2.2l.5-2l.5 2.5l.5-2.6l.5 2.3l.5-2.1l.5 2.6l.5-2.9l.5 2.2l.5-2.1l.5 2.4l.5-2.2l.5 2l.5-1.9l.5 2.3l.5-2.5l.5 2.1l.5-1.7l.5 1.8l.5-2l.5 1.9l.5-2.3l.5 2.8l.5-2.8l.5 2.9l.5-2.7l.5 2.1l.5-2.3l.5 2.5l.5-2.2l.5 2.6l.5-3l.5 2.6l.5-2.5l.5 2.9l.5-3l.5 2.3l.5-2.4l.5 2.7l.5-2l.5 2.4l.5-2.5l.5 2.5l.5-2.4l.5 1.9l.5-2.5l.5 3l.5-2.5l.5 1.8l.5-1.9l.5 2.1l.5-2.3l.5 2.3l.5-2.5l.5 2.2l.5-2.1l.5 2.4l.5-1.9l.5 1.7l.5-1.7l.5 1.8l.5-2.2l.5 2.7l.5-2.4l.5 2.1l.5-2.7l.5 2.7l.5-2.4l.5 2.8l.5-3l.5 2.5l.5-1.9l.5 1.7l.5-2.1l.5 2.7l.5-2.4l.5 1.8l.5-2.4l.5 2.4l.5-1.7l.5 1.8l.5-1.9l.5 2.4l.5-2.8l.5 2.3l.5-1.8l.5 2.1l.5-2.6l.5 2.7l.5-2.7l.5 2.3l.5-2.5l.5 2.9l.5-2.2l.5 2.1l.5-2.1l.5 1.6l.5-2.1l.5 2.5l.5-2l.5 2.4l.5-2.8l.5 2.2l.5-2.2l.5 2.4l.5-2l.5 1.7l.5-1.8l.5 2.3l.5-2.3l.5 2.3l.5-2.5l.5 2.1l.5-2.3l.5 2.4l.5-2l.5 1.7l.5-2.2l.5 2.8l.5-2.8l.5 2.2l.5-2.3l.5 2.7l.5-2.5l.5 2.8l.5-2.4l.5 2.4l.5-2.8l.5 2.1l.5-2.3l.5 2.6l.5-2.1l.5 2.1l.5-2.5l.5 2.4l.5-2.1l.5 2.3l.5-2.2l.5 2.4l.5-2.5l.5 1.9l.5-1.7l.5 1.8l.5-2.1l.5 2.2l.5-2l.5 1.8l.5-2.2l.5 2.2l.5-2.3l.5 2.8l.5-2.5l.5 2l.5-2.1l.5 2.6l.5-2.5l.5 1.9l.5-1.7l.5 2l.5-1.9l.5 1.5l.5-1.9l.5 2.3l.5-2.1l.5 2.2l.5-2.8l.5 2.3l.5-2.2l.5 2l.5-1.5l.5 1.7l.5-1.7l.5 1.5l.5-1.6l.5 1.5l.5-2l.5 2.1l.5-1.7l.5 1.1l.5-1.4l.5 1.5l.5-1.8l.5 1.4l.5-1.6l.5 1.1l.5-1.3l.5 .7l.5-1l.5-.3l.5-.7l.5-.8l.5-1.1l.5-1.3l.5-1.6l.5-1.8l.5-2.1l.5-2.3l.5-2.4l.5-2.3l.5-2l.5-1.5l.5-.6l.5 .3l.5 1.1l.5 1.8l.5 2.2l.5 2.4l.5 2.4l.5 2.2l.5 1.9l.5 1.7l.5 1.4l.5 1.2l.5 .9l.5 .8l.5 .4l.5 .8l.5-.3l.5 1l.5-1l.5 1.8l.5-1.5l.5 1.8l.5-1.7l.5 2l.5-1.8l.5 1.6l.5-1.8l.5 2.2l.5-1.8l.5 2.1l.5-2.4l.5 2.3l.5-2.1l.5 2.1l.5-2.2l.5 2.1l.5-1.8l.5 2.3l.5-2.6l.5 2.4l.5-1.9l.5 2.3l.5-2.7l.5 2.1l.5-1.6l.5 2.2l.5-2.5l.5 1.9l.5-1.5l.5 1.8l.5-1.8l.5 2l.5-2.1l.5 1.7l.5-1.7l.5 1.8l.5-2.1l.5 2.6l.5-2.3l.5 1.8l.5-2.2l.5 2.4l.5-2.2l.5 2.2l.5-2.5l.5 2.4l.5-1.9l.5 2.4l.5-2.9l.5 2.6l.5-2.1l.5 1.7l.5-1.6l.5 1.7l.5-1.9l.5 2.2l.5-2.2l.5 2.1l.5-2.2l.5 2.4l.5-2.4l.5 2.4l.5-2.4l.5 2.3l.5-2.6l.5 2.7l.5-2.4l.5 2.1l.5-1.9l.5 2.3l.5-2.5l.5 2.1l.5-2.1l.5 2l.5-2.3l.5 2.6l.5-2.6l.5 2.6l.5-2.3l.5 2l.5-1.9l.5 1.9l.5-1.8l.5 2.4l.5-2.6l.5 2l.5-2l.5 2.2l.5-1.8l.5 1.7l.5-1.8l.5 2.4l.5-2.5l.5 2.4l.5-2.8l.5 2.9l.5-2.7l.5 2.7l.5-2.3l.5 1.7l.5-1.8l.5 2.4l.5-3l.5 2.5l.5-2l.5 1.9l.5-1.8l.5 1.9l.5-1.9l.5 1.8l.5-2.1l.5 2.7l.5-2.9l.5 2.3l.5-2.1l.5 2.2l.5-2.5l.5 2.4l.5-2.3l.5 2.9l.5-2.5l.5 2.4l.5-2.8l.5 2.7l.5-2.8l.5 2.6l.5-2.2l.5 2.1l.5-1.9l.5 2.1l.5-2.3l.5 2.5l.5-2.9l.5 3l.5-2.6l.5 2.1l.5-2l.5 1.9l.5-1.7l.5 1.9l.5-2.4l.5 2.6l.5-2.5l.5 2l.5-1.8l.5 1.7l.5-1.7l.5 1.9l.5-2l.5 2.5l.5-2.5l.5 2.3l.5-2.6l.5 2.1l.5-2.3l.5 2.4l.5-1.9l.5 2.1l.5-2.2l.5 2.5l.5-2.8l.5 2.3l.5-1.9l.5 1.7l.5-2.2l.5 2.5l.5-2.4l.5 2.3l.5-2.3l.5 2.5l.5-2.2l.5 1.9l.5-1.9l.5 2.1l.5-2.5l.5 2.8l.5-2.7l.5 2.1l.5-2.2l.5 2.5l.5-2l.5 2l.5-2.3l.5 1.9l.5-2.2l.5 2.4l.5-2.1l.5 1.8l.5-1.8l.5 1.8l.5-1.6l.5 1.7l.5-2.2l.5 2.1l.5-2.3l.5 1.9l.5-1.8l.5 1.4l.5-1.6l.5 1.5l.5-1.7l.5 1.1l.5-1.1l.5 0l.5-.7l.5-.6l.5-.9l.5-1.2l.5-1.4l.5-1.8l.5-2l.5-2.2l.5-2.4l.5-2.3l.5-2l.5-1.3l.5-.5l.5 .5l.5 1.3l.5 2l.5 2.3l.5 2.4l.5 2.2l.5 2l.5 1.7l.5 1.5l.5 1.1l.5 .9l.5 .7l.5 .8l.5-.2l.5 1l.5-.7l.5 1.3l.5-1l.5 1.4l.5-1.6l.5 1.9l.5-1.4l.5 1.3l.5-1.3l.5 1.3l.5-1.6l.5 1.9l.5-1.5l.5 2l.5-2l.5 1.7l.5-1.6l.5 1.6l.5-2l.5 2.4l.5-2.1l.5 2l.5-2l.5 2.3l.5-2.4l.5 2.3l.5-2.1l.5 2.1l.5-2.3l.5 2.2l.5-2.1l.5 1.9l.5-2.2l.5 2.4l.5-2.4l.5 2.6l.5-2.6l.5 2l.5-2l.5 2.6l.5-2.5l.5 2l.5-2.2l.5 2.1l.5-1.6l.5 2l.5-2l.5 2l.5-2.5l.5 2.4l.5-2.2l.5 2.3l.5-2l.5 2.1l.5-2.6l.5 2.5l.5-1.9l.5 1.9l.5-2.5l.5 2l.5-2l.5 1.9l.5-1.4l.5 1.8l.5-2l.5 2l.5-2l.5 1.6l.5-2l.5 1.8l.5-1.4l.5 1.3l.5-1.6l.5 1.6l.5-1.9l.5 1.6l.5-1.5l.5 1.4l.5-1.5l.5 1l.5-1l.5 .5l.5-.9l.5 .2l.5-.6l.5-.2l.5-.4l.5-.4l.5-.4l.5-.4l.5-.4l.5-.4l.5-.3l.5-.3l.5-.3l.5-.1l.5-.1l.5 0l.5 .2l.5 .2l.5 .3l.5 .3l.5 .4l.5 .4l.5 .3l.5 .4l.5 .4l.5 .3l.5 .3l.5 .3l.5 0l.5 .6l.5-.3l.5 .8l.5-.8l.5 1.2l.5-1.1l.5 1.3l.5-1l.5 1.1l.5-1.1l.5 1l.5-1.1l.5 1.1l.5-.9l.5 .8l.5-.8l.5 .7l.5-1l.5 1l.5-.8l.5 .7l.5-1l.5 1l.5-1.1l.5 .8l.5-.8l.5 .7l.5-.7l.5 .4l.5-.6l.5 .2l.5-.4l.5 .1l.5-.2l.5-.1l.5-.2l.5-.2l.5-.2l.5-.2l.5-.2l.5-.3l.5-.3l.5-.3l.5-.4l.5-.4l.5-.4l.5-.5l.5-.6l.5-.6l.5-.8l.5-.9l.5-1l.5-1.3l.5-1.7l.5-2.3l.5-3.4l.5-5.1l.5-7.7l.5-11.5l.5-16.7l.5-23.3l.5-31.3l.5-39.7l.5-47.6l.5-54l.5-57.1l.5-55.7l.5-48.8l.5-37.1l.5-23.8l.5-11.6l.5-1l.5 9.4l.5 21.2l.5 34.5l.5 46.7l.5 54.7l.5 57.3l.5 54.9l.5 49.1l.5 41.4l.5 32.9l.5 24.9l.5 17.9l.5 12.4l.5 8.3l.5 5.5l.5 3.7l.5 2.5l.5 1.8l.5 1.4l.5 1.1l.5 .9l.5 .8l.5 .6l.5 .6l.5 .5l.5 .5l.5 .4l.5 .4l.5 .3l.5 .3l.5 .3l.5 .2l.5 .3l.5 .2l.5 .1l.5 .2l.5 .2l.5 0l.5 .4l.5-.2l.5 .5l.5-.4l.5 .8l.5-.8l.5 1l.5-.8l.5 1.1l.5-.8l.5 .9l.5-1.1l.5 1.3l.5-1.1l.5 1.3l.5-1.2l.5 1.4l.5-1.2l.5 1.2l.5-1.4l.5 1.7l.5-1.7l.5 1.7l.5-1.6l.5 1.8l.5-1.9l.5 2.1l.5-2l.5 1.5l.5-1.5l.5 1.8l.5-1.9l.5 2l.5-1.7l.5 1.9l.5-2l.5 1.8l.5-1.8l.5 2.1l.5-1.7l.5 1.6l.5-2l.5 2.2l.5-2.1l.5 1.8l.5-1.9l.5 2.3l.5-1.9l.5 1.8l.5-2l.5 2l.5-2.1l.5 2.4l.5-2.3l.5 2.1l.5-1.8l.5 1.9l.5-2.1l.5 1.8l.5-1.8l.5 1.7l.5-1.5l.5 1.7l.5-1.7l.5 1.6l.5-1.9l.5 1.9l.5-1.9l.5 1.9l.5-2.1l.5 2.4l.5-2.3l.5 2l.5-2l.5 2.1l.5-2l.5 2.1l.5-2l.5 1.7l.5-1.5l.5 1.8l.5-2.4l.5 2.2l.5-1.8l.5 1.6l.5-2.1l.5 1.7l.5-1.7l.5 .7l.5-1.2l.5 .4l.5-.9l.5-.7l.5-.7l.5-.9l.5-.8l.5-.9l.5-.7l.5-.4l.5-.1l.5 .2l.5 .6l.5 .8l.5 .8l.5 .9l.5 .8l.5 .8l.5 .5l.5 1l.5-.6l.5 1.6l.5-1.1l.5 1.8l.5-1.7l.5 2.1l.5-1.9l.5 1.8l.5-1.9l.5 1.9l.5-1.7l.5 1.7l.5-1.7l.5 1.8l.5-1.8l.5 2.1l.5-2l.5 2.3l.5-2.7l.5 2.8l.5-2.4l.5 2.2l.5-2.1l.5 2.3l.5-2.5l.5 2.3l.5-1.8l.5 1.5l.5-1.8l.5 2.3l.5-2.7l.5 2.6l.5-2.1l.5 2.4l.5-2.7l.5 2.7l.5-2.5l.5 2.2l.5-1.9l.5 1.6l.5-1.8l.5 2.2l.5-2.4l.5 2.6l.5-2.6l.5 2.3l.5-2.2l.5 2.5l.5-2.7l.5 2.4l.5-2.3l.5 2.4l.5-2.1l.5 1.9l.5-1.9l.5 2l.5-2.2l.5 2.1l.5-2.1l.5 2.6l.5-2.5l.5 2.4l.5-2.6l.5 2.3l.5-2.3l.5 2.5l.5-2.3l.5 2.4l.5-2.8l.5 2.8l.5-2.2l.5 2l.5-2.6l.5 2.5l.5-2.6l.5 2.5l.5-1.8l.5 2.1l.5-2.3l.5 2.4l.5-2.2l.5 2.1l.5-2.3l.5 2.3l.5-2.2l.5 2.2l.5-2.2l.5 1.9l.5-1.9l.5 2.1l.5-2.1l.5 1.8l.5-2.2l.5 2.2l.5-1.8l.5 2.5l.5-2.6l.5 2.1l.5-1.9l.5 2.3l.5-2.5l.5 2.1l.5-2.3l.5 2.4l.5-2.4l.5 2.4l.5-2.2l.5 2.6l.5-3l.5 2.7l.5-2.7l.5 2.3l.5-1.7l.5 2.1l.5-2l.5 1.9l.5-2.6l.5 2.6l.5-2.2l.5 2.6l.5-2.3l.5 1.9l.5-2.3l.5 2l.5-1.9l.5 2l.5-2.3l.5 2.2l.5-2.3l.5 2.8l.5-2.8l.5 3l.5-3l.5 2.9l.5-2.9l.5 2.3l.5-1.8l.5 1.9l.5-1.9l.5 1.9l.5-2.4l.5 2.9l.5-2.4l.5 2.4l.5-2.4l.5 1.8l.5-1.9l.5 2.4l.5-2.5l.5 2.7l.5-2.9l.5 2.9l.5-2.5l.5 1.8l.5-2.3l.5 2.8l.5-2.2l.5 1.7l.5-2.1l.5 2.6l.5-2.7l.5 2.8l.5-2.6l.5 2l.5-2.1l.5 2.5l.5-2.4l.5 2.5l.5-2.7l.5 2.8l.5-2.7l.5 2.5l.5-2.3l.5 2.2l.5-2.4l.5 2.7l.5-2.2l.5 2.1l.5-2.4l.5 2.1l.5-2.5l.5 3l.5-2.5l.5 2.4l.5-2.7l.5 2.5l.5-2l.5 2.2l.5-2.5l.5 2.1l.5-2.2l.5 2.6l.5-2.7l.5 2.5l.5-2.3l.5 2.5l.5-2.3l.5 1.8l.5-2.5l.5 2.5l.5-2.1l.5 2.4l.5-2.1l.5 2.3l.5-2.9l.5 2.8l.5-2.3l.5 2.4l.5-2.5l.5 2l.5-1.8l.5 2.2l.5-2.4l.5 2.5l.5-2.7l.5 2l.5-1.9l.5 2.5l.5-2.7l.5 2.6l.5-2.1l.5 1.7l.5-1.9l.5 2.2l.5-2.4l.5 2.1l.5-2.2l.5 2.6l.5-2.2l.5 1.9l.5-2.4l.5 2.7l.5-2.2l.5 1.7l.5-1.9l.5 2.4l.5-2.2l.5 1.9l.5-2.2l.5 2.3l.5-2.5l.5 2.1l.5-2.1l.5 2.5l.5-2.4l.5 2.3l.5-2.3l.5 2.2l.5-2.4l.5 2l.5-1.4l.5 1.6l.5-2.2l.5 2.3l.5-1.9l.5 1.6l.5-1.7l.5 1.7l.5-1.8l.5 1.6l.5-2l.5 2.5l.5-2l.5 1.6l.5-1.8l.5 1.5l.5-1.5l.5 1.5l.5-1.4l.5 1.4l.5-1.6l.5 1.5l.5-1.9l.5 1.2l.5-1.3l.5 1.1l.5-1.3l.5 .9l.5-.9l.5 .5l.5-.9l.5-.2l.5-.4l.5-.7l.5-.8l.5-1l.5-1.2l.5-1.6l.5-1.9l.5-2.2l.5-2.6l.5-2.8l.5-3.1l.5-3.2l.5-3.2l.5-2.7l.5-2.2l.5-1.2l.5-.2l.5 1.1l.5 2l.5 2.7l.5 3l.5 3.2l.5 3.2l.5 2.9l.5 2.6l.5 2.3l.5 2l.5 1.6l.5 1.3l.5 1.1l.5 .8l.5 .6l.5 .5l.5 .6l.5-.1l.5 .9l.5-.8l.5 1.2l.5-.9l.5 1.2l.5-1l.5 1.3l.5-1.3l.5 1.5l.5-1.2l.5 1.3l.5-1.2l.5 1.4l.5-1.8l.5 2.4l.5-2.2l.5 2.3l.5-1.9l.5 1.9l.5-2.3l.5 2.1l.5-2.1l.5 2.5l.5-2l.5 1.9l.5-2.1l.5 1.9l.5-1.6l.5 1.8l.5-2l.5 1.8l.5-2l.5 2l.5-1.7l.5 2l.5-2.4l.5 2.7l.5-2.6l.5 2.3l.5-2.3l.5 2.2l.5-1.7l.5 1.8l.5-2.3l.5 2.4l.5-2.3l.5 2.6l.5-2.7l.5 2.8l.5-2.9l.5 2.8l.5-2.3l.5 1.9l.5-2.1l.5 2.1l.5-2.2l.5 2.2l.5-2.1l.5 2.7l.5-2.3l.5 2.2l.5-2.8l.5 2.4l.5-1.8l.5 1.6l.5-1.8l.5 2l.5-1.8l.5 1.6l.5-1.7l.5 1.9l.5-2.4l.5 2.2l.5-1.7l.5 2.1l.5-2.5l.5 2.4l.5-1.9l.5 1.7l.5-2l.5 2l.5-2.2l.5 2.7l.5-2.3l.5 1.8l.5-2.3l.5 2.2l.5-1.8l.5 2.1l.5-2.4l.5 2.2l.5-1.9l.5 2.3l.5-2.2l.5 2.1l.5-2.5l.5 2.1l.5-1.7l.5 2l.5-2l.5 1.7l.5-1.7l.5 1.9l.5-1.9l.5 2.3l.5-2.5l.5 1.9l.5-1.6l.5 1.9l.5-1.9l.5 1.8l.5-2.4l.5 2.8l.5-2.6l.5 2.1l.5-2.1l.5 2.4l.5-2.7l.5 2.6l.5-2.3l.5 2.3l.5-2.5l.5 2.7l.5-2.2l.5 2.3l.5-2.7l.5 2.5l.5-2.4l.5 2.5l.5-2.8l.5 2.8l.5-2.1l.5 1.9l.5-2.2l.5 2.2l.5-2.2l.5 1.8l.5-1.5l.5 1.6l.5-2.2l.5 2.1l.5-2.1l.5 2.6l.5-2.7l.5 2.2l.5-1.7l.5 1.7l.5-2.2l.5 2.5l.5-2.2l.5 2.1l.5-2l.5 1.7l.5-1.6l.5 2l.5-2.6l.5 2.2l.5-1.9l.5 2.1l.5-2.2l.5 1.9l.5-1.9l.5 1.9l.5-1.8l.5 2.2l.5-2.5l.5 2.2l.5-1.8l.5 1.5l.5-1.5l.5 1.9l.5-2.2l.5 1.8l.5-1.6l.5 1.6l.5-1.9l.5 2l.5-1.8l.5 1.3l.5-1.7l.5 1.6l.5-1.5l.5 1.6l.5-1.6l.5 1.3l.5-1.4l.5 1.1l.5-1.5l.5 1l.5-.9l.5 .5l.5-.9l.5 .2l.5-.5l.5-.3l.5-.5l.5-.6l.5-.7l.5-1l.5-1.2l.5-1.6l.5-1.9l.5-2.4l.5-2.8l.5-3.3l.5-3.8l.5-4l.5-4.3l.5-4.3l.5-4l.5-3.4l.5-2.2l.5-.8l.5 .8l.5 2.2l.5 3.4l.5 4l.5 4.3l.5 4.3l.5 4l.5 3.8l.5 3.3l.5 2.8l.5 2.4l.5 1.9l.5 1.6l.5 1.2l.5 1l.5 .7l.5 .6l.5 .5l.5 .3l.5 .5l.5-.2l.5 .8l.5-.6l.5 1l.5-.9l.5 1.4l.5-1l.5 1.3l.5-1.3l.5 1.5l.5-1.6l.5 1.9l.5-1.7l.5 1.7l.5-1.5l.5 1.6l.5-1.7l.5 1.7l.5-1.7l.5 2l.5-1.9l.5 2l.5-2.2l.5 2.1l.5-1.5l.5 1.5l.5-1.7l.5 1.9l.5-2.1l.5 2.5l.5-2.4l.5 2.3l.5-2.4l.5 2l.5-1.5l.5 1.8l.5-2.3l.5 2.3l.5-2.1l.5 2.3l.5-2.5l.5 2.2l.5-1.6l.5 2l.5-2.5l.5 2.2l.5-2.1l.5 2.4l.5-2.2l.5 2.3l.5-2.1l.5 1.9l.5-2l.5 2.2l.5-2.2l.5 2l.5-1.9l.5 2.1l.5-2l.5 1.6l.5-1.7l.5 1.6l.5-1.6l.5 2l.5-2.2l.5 2.5l.5-2.5l.5 2.1l.5-1.9l.5 2.3l.5-2.4l.5 2l.5-2.2l.5 2.3l.5-2.1l.5 2l.5-2.2l.5 2.4l.5-2.4l.5 2.2l.5-1.9l.5 2.3l.5-2.5l.5 2.2l.5-2.4l.5 2.3l.5-2.4l.5 2.6l.5-2.2l.5 1.8l.5-1.6l.5 1.8l.5-1.8l.5 2.2l.5-2.2l.5 1.7l.5-2.1l.5 2.7l.5-3l.5 2.3l.5-1.9l.5 2.3l.5-2l.5 2.2l.5-2.5l.5 2.6l.5-2.6l.5 2.3l.5-2.2l.5 2.1l.5-2.3l.5 2.4l.5-2.4l.5 2.7l.5-2.5l.5 2.2l.5-2.6l.5 2.5l.5-2.3l.5 2.4l.5-2.2l.5 2.4l.5-2.2l.5 1.9l.5-2.3l.5 2.4l.5-1.9l.5 1.7l.5-2.1l.5 2.5l.5-2.8l.5 2.4l.5-1.8l.5 2.2l.5-2.5l.5 1.9l.5-1.6l.5 2.1l.5-2.2l.5 2.4l.5-2.3l.5 1.9l.5-2.5l.5 2.4l.5-2.1l.5 2.2l.5-2.5l.5 2.3l.5-1.9l.5 2.2l.5-2.4l.5 2.6l.5-2.4l.5 1.7l.5-1.9l.5 2.5l.5-2.6l.5 2.5l.5-2.7l.5 2.4l.5-1.8l.5 2l.5-2.1l.5 1.8l.5-2l.5 2.2l.5-2.3l.5 2.4l.5-2.3l.5 2.5l.5-2.4l.5 2l.5-2.4l.5 2.2l.5-1.7l.5 1.6l.5-2.1l.5 2.1l.5-1.8l.5 2.2l.5-2.2l.5 2.2l.5-2.6l.5 2l.5-1.5l.5 1.7l.5-1.8l.5 1.8l.5-2.1l.5 1.9l.5-2l.5 2.4l.5-2.1l.5 1.7l.5-1.9l.5 1.8l.5-2l.5 2.2l.5-2l.5 1.9l.5-2l.5 1.7l.5-1.9l.5 1.4l.5-1.1l.5 1.3l.5-1.7l.5 1.4l.5-1.3l.5 .8l.5-1l.5 .8l.5-1.1l.5 .5l.5-.8l.5-.1l.5-.4l.5-.6l.5-.6l.5-.9l.5-1.1l.5-1.4l.5-1.7l.5-2.1l.5-2.4l.5-2.9l.5-3.3l.5-3.6l.5-3.8l.5-3.8l.5-3.5l.5-2.9l.5-2l.5-.7l.5 .7l.5 2l.5 2.9l.5 3.5l.5 3.8l.5 3.8l.5 3.6l.5 3.3l.5 2.9l.5 2.4l.5 2.1l.5 1.7l.5 1.4l.5 1.1l.5 .9l.5 .6l.5 .5l.5 .5l.5 .2l.5 .5l.5-.3l.5 1l.5-.8l.5 1.3l.5-1.2l.5 1.6l.5-1.4l.5 1.3l.5-1.2l.5 1.3l.5-1.1l.5 1.4l.5-1.3l.5 1.6l.5-1.8l.5 1.7l.5-1.5l.5 1.6l.5-1.4l.5 1.4l.5-1.6l.5 1.9l.5-2l.5 2.3l.5-2.2l.5 2.1l.5-2l.5 1.9l.5-2l.5 1.9l.5-2l.5 2.5l.5-2.4l.5 2.3l.5-2.4l.5 2.4l.5-2.2l.5 2.2l.5-2.3l.5 2l.5-1.9l.5 2l.5-2.2l.5 2.6l.5-2.5l.5 2.3l.5-1.8l.5 2.1l.5-2.1l.5 2.1l.5-2.6l.5 2.2l.5-2.3l.5 2.6l.5-2.1l.5 1.9l.5-2.1l.5 2.3l.5-2.1l.5 1.9l.5-1.8l.5 1.8l.5-2l.5 1.9l.5-2.2l.5 2.8l.5-2.4l.5 2.2l.5-2.7l.5 2.2l.5-2.1l.5 2.2l.5-2.1l.5 2.3l.5-2.5l.5 2.4l.5-1.9l.5 1.8l.5-1.7l.5 2l.5-2.1l.5 1.9l.5-2.1l.5 2.4l.5-2.4l.5 1.9l.5-1.6l.5 2.2l.5-2.6l.5 2.1l.5-1.7l.5 2.1l.5-2.7l.5 2.4l.5-2.3l.5 2.7l.5-2.6l.5 2.7l.5-2.3l.5 1.7l.5-1.8l.5 2l.5-1.9l.5 2.2l.5-2.6l.5 2.1l.5-1.6l.5 1.8l.5-1.8l.5 2l.5-2.2l.5 2.3l.5-2.3l.5 2l.5-2.5l.5 2.7l.5-2.4l.5 2.3l.5-1.9l.5 1.6l.5-1.7l.5 1.6l.5-1.7l.5 2.3l.5-2.6l.5 2.4l.5-1.9l.5 2l.5-2.3l.5 2l.5-2.4l.5 2.4l.5-2.1l.5 2l.5-2.1l.5 2.1l.5-1.8l.5 2.1l.5-2.5l.5 2.2l.5-2l.5 2.2l.5-1.9l.5 1.8l.5-2.2l.5 2.6l.5-2.7l.5 2.4l.5-2.3l.5 2.5l.5-2.4l.5 2.3l.5-2.5l.5 2.5l.5-2.2l.5 2l.5-1.9l.5 2.2l.5-2.7l.5 2.3l.5-2.1l.5 2l.5-2.2l.5 2.2l.5-2.1l.5 2.4l.5-2.3l.5 1.9l.5-2l.5 2.2l.5-2.1l.5 1.9l.5-2.2l.5 2l.5-1.3l.5 1.8l.5-2.5l.5 2.5l.5-1.9l.5 1.7l.5-2.3l.5 2.3l.5-2.1l.5 1.8l.5-1.7l.5 1.6l.5-1.4l.5 1.7l.5-1.9l.5 2.1l.5-2.1l.5 1.6l.5-1.9l.5 1.8l.5-1.9l.5 2.2l.5-1.8l.5 1.5l.5-1.9l.5 2l.5-1.6l.5 1.7l.5-2.1l.5 1.9l.5-1.6l.5 1.5l.5-1.8l.5 1.4l.5-1.2l.5 1.2l.5-1.5l.5 1.4l.5-1.5l.5 1.5l.5-1.6l.5 1.1l.5-1l.5 .9l.5-1l.5 .7l.5-.8l.5 .5l.5-.8l.5 .1l.5-.4l.5-.2l.5-.3l.5-.3l.5-.4l.5-.5l.5-.4l.5-.6l.5-.5l.5-.7l.5-.6l.5-.8l.5-.7l.5-.8l.5-.9l.5-.8l.5-.8l.5-.9l.5-.8l.5-.7l.5-.7l.5-.5l.5-.4l.5-.3l.5-.1l.5 0l.5 .2l.5 .2l.5 .3l.5 .3l.5 .3l.5 .2l.5 .2l.5-.1l.5-.3l.5-.5l.5-1l.5-1.3l.5-1.9l.5-2.4l.5-3l.5-3.6l.5-4.2l.5-4.6l.5-5l.5-5.2l.5-5.1l.5-4.5l.5-3.6l.5-2.1l.5-.4l.5 1.3l.5 3.1l.5 4.2l.5 5.1l.5 5.5l.5 5.5l.5 5.2l.5 4.9l.5 4.4l.5 3.8l.5 3.3l.5 2.8l.5 2.2l.5 1.9l.5 1.5l.5 1.2l.5 .9l.5 .7l.5 .6l.5 .5l.5 .3l.5 .3l.5 .3l.5 .2l.5 .2l.5 .1l.5 .2l.5 .1l.5 .1l.5 0l.5 .1l.5 .1l.5 0l.5 0l.5 0l.5 0l.5 0l.5-.1l.5 0l.5-.1l.5-.1l.5-.1l.5-.1l.5-.2l.5-.1l.5-.3l.5-.3l.5-.3l.5-.5l.5-.5l.5-.7l.5-.9l.5-1.1l.5-1.3l.5-1.7l.5-2l.5-2.5l.5-2.8l.5-3.2l.5-3.7l.5-4.1l.5-4.3l.5-4.5l.5-4.5l.5-4.2l.5-3.7l.5-2.7l.5-1.5l.5-.2l.5 1.3l.5 2.6l.5 3.5l.5 4.1l.5 4.5l.5 4.6l.5 4.4l.5 4.1l.5 3.8l.5 3.4l.5 2.9l.5 2.6l.5 2.1l.5 1.8l.5 1.4l.5 1.2l.5 .9l.5 .8l.5 .6l.5 .5l.5 .4l.5 .4l.5 .3l.5 .2l.5 .1l.5 .5l.5-.3l.5 .7l.5-.5l.5 .9l.5-.8l.5 .9l.5-.6l.5 1l.5-1l.5 1.3l.5-1.1l.5 1l.5-1.2l.5 1.4l.5-1.2l.5 1.7l.5-1.5l.5 1.2l.5-1.5l.5 2l.5-1.7l.5 1.5l.5-1.5l.5 1.5l.5-1.3l.5 1.5l.5-1.4l.5 1.6l.5-2.1l.5 2l.5-1.9l.5 2.3l.5-2l.5 1.5l.5-1.8l.5 2.1l.5-1.9l.5 2l.5-2l.5 1.9l.5-2.1l.5 2.3l.5-2.1l.5 1.8l.5-1.7l.5 2.4l.5-2.7l.5 2.1l.5-1.6l.5 1.7l.5-2l.5 2.2l.5-2.2l.5 2.3l.5-2.1l.5 2.4l.5-2.1l.5 1.5l.5-1.8l.5 2.3l.5-2l.5 2l.5-2.2l.5 2.1l.5-2.3l.5 2.1l.5-1.8l.5 2.2l.5-2.1l.5 2l.5-2.4l.5 2.5l.5-2.2l.5 2l.5-2.1l.5 2l.5-2l.5 2.1l.5-2.5l.5 2.4l.5-2.2l.5 2.7l.5-2.6l.5 2.2l.5-2.3l.5 2.2l.5-2.1l.5 2l.5-2.3l.5 2.9l.5-2.6l.5 2.3l.5-2.2l.5 2.1l.5-2.4l.5 2.2l.5-2.1l.5 2.3l.5-1.9l.5 2.1l.5-2l.5 1.8l.5-1.8l.5 2l.5-2.6l.5 2.3l.5-1.9l.5 2.5l.5-2.7l.5 2.6l.5-2.6l.5 2.6l.5-2.8l.5 2.6l.5-2l.5 1.8l.5-2.3l.5 2.1l.5-2.1l.5 2.3l.5-1.9l.5 1.9l.5-2.2l.5 2.2l.5-2l.5 2.5l.5-2.5l.5 2l.5-1.9l.5 2.5l.5-2.6l.5 1.9l.5-1.7l.5 2.3l.5-2.7l.5 2.1l.5-2.2l.5 2.5l.5-2l.5 2.1l.5-2.1l.5 1.8l.5-2.2l.5 2.6l.5-2.4l.5 2.2l.5-2.1l.5 2l.5-2.5l.5 2.6l.5-2.6l.5 2.7l.5-2.5l.5 2.4l.5-2.2l.5 2.1l.5-2.2l.5 2l.5-1.6l.5 2l.5-2l.5 1.6l.5-1.9l.5 2.4l.5-2.6l.5 2.1l.5-2.2l.5 2.3l.5-1.9l.5 1.8l.5-1.7l.5 2l.5-2.2l.5 2.3l.5-2.3l.5 2.4l.5-2.4l.5 2.1l.5-2l.5 2l.5-2l.5 2.4l.5-2.3l.5 1.9l.5-1.9l.5 2.4l.5-2.7l.5 2.2l.5-2.1l.5 2.6l.5-2.9l.5 2.2l.5-2l.5 2.5l.5-2.2l.5 2l.5-1.9l.5 1.8l.5-1.9l.5 1.8l.5-2.4l.5 2.4l.5-2.4l.5 2.7l.5-2.3l.5 2l.5-1.7l.5 1.9l.5-2.5l.5 2.3l.5-1.9l.5 2.5l.5-2.9l.5 2.2l.5-1.7l.5 1.9l.5-1.8l.5 2l.5-2.2l.5 2.1l.5-2l.5 2.1l.5-2.5l.5 2.8l.5-2.9l.5 2.8l.5-2.9l.5 2.8l.5-2.5l.5 2.7l.5-3l.5 2.8l.5-2.5l.5 2.7l.5-2.3l.5 2.1l.5-2.7l.5 2.4l.5-2.3l.5 2.5l.5-2.5l.5 2.3l.5-1.9l.5 2.2l.5-2.6l.5 2.9l.5-3l.5 2.7l.5-2.7l.5 2.9l.5-2.3l.5 1.8l.5-1.9l.5 2.4l.5-2.8l.5 2.4l.5-2.2l.5 2.6l.5-2.9l.5 2.8l.5-2.5l.5 2.3l.5-2.3l.5 2.6l.5-2.9l.5 2.9l.5-2.7l.5 2.6l.5-2.3l.5 1.9l.5-1.8l.5 2.4l.5-2.9l.5 2.1l.5-2.2l.5 3l.5-3.1l.5 3l.5-2.9l.5 2.8l.5-2.9l.5 2.5l.5-2l.5 1.9l.5-2.2l.5 2.8l.5-2.5l.5 2.5l.5-2.3l.5 1.7l.5-2.2l.5 2.8l.5-2.5l.5 1.9l.5-2l.5 2.1l.5-2.2l.5 2.1l.5-2.4l.5 3.1l.5-2.9l.5 2.8l.5-2.9l.5 2.6l.5-2.6l.5 2.6l.5-2.6l.5 2.8l.5-2.8l.5 2.8l.5-2.5l.5 2l.5-2.1l.5 2.4l.5-2l.5 1.9l.5-2.5l.5 3l.5-2.4l.5 2.2l.5-2.7l.5 2.3l.5-2.3l.5 2.2l.5-2.4l.5 2.7l.5-2.4l.5 2.5l.5-2.5l.5 2l.5-1.8l.5 2.3l.5-2.4l.5 2.4l.5-2.3l.5 2.6l.5-2.4l.5 2.2l.5-2.6l.5 2.3l.5-2.3l.5 2.8l.5-2.8l.5 2.3l.5-2.3l.5 2.1l.5-1.6l.5 1.5l.5-1.8l.5 2.6l.5-2.9l.5 2.6l.5-2.5l.5 2.2l.5-2.4l.5 2.3l.5-1.8l.5 2.3l.5-2.2l.5 1.7l.5-1.9l.5 2.1l.5-2.1l.5 2.3l.5-2.6l.5 2.9l.5-3.1l.5 2.9l.5-2.3l.5 2.1l.5-2.3l.5 2.7l.5-2.9l.5 2.6l.5-2.2l.5 2l.5-2.1l.5 2.1l.5-2.2l.5 2.4l.5-2.3l.5 2.1l.5-2.1l.5 2.3l.5-2.7l.5 2.7l.5-2.6l.5 2.8l.5-2.7l.5 2.6l.5-2.5l.5 2.3l.5-2.6l.5 2.3l.5-1.7l.5 2l.5-2.3l.5 2.3l.5-2.1l.5 1.9l.5-2.4l.5 2.9l.5-2.7l.5 2.5l.5-2.2l.5 2.4l.5-2.3l.5 1.7l.5-2.1l.5 2.7l.5-2.4l.5 1.8l.5-2.3l.5 2.4l.5-2.5l.5 2.6l.5-2l.5 2.1l.5-2.4l.5 2.1l.5-2.1l.5 2.8l.5-2.6l.5 2.2l.5-2.4l.5 2.6l.5-2.3l.5 1.8l.5-1.9l.5 2.1l.5-2.2l.5 2.1l.5-2.2l.5 2.3l.5-2.3l.5 2l.5-2.2l.5 2.6l.5-2.7l.5 2.4l.5-1.9l.5 2l.5-2.3l.5 2.3l.5-1.9l.5 1.8l.5-1.9l.5 2.5l.5-2.9l.5 2.5l.5-2l.5 2.2l.5-2.6l.5 2.1l.5-2l.5 2.3l.5-2.1l.5 2l.5-2.2l.5 2.5l.5-2.2l.5 1.9l.5-2.3l.5 2.5l.5-2l.5 1.7l.5-1.7l.5 2.1l.5-2.6l.5 2.5l.5-2.5l.5 2.1l.5-1.8l.5 2l.5-2.2l.5 2.3l.5-2l.5 2.2l.5-2.9l.5 2.7l.5-2.3l.5 2.2l.5-2l.5 2l.5-2.2l.5 2.5l.5-2.6l.5 2.3l.5-2.2l.5 2.4l.5-2.3l.5 2.2l.5-2.4l.5 1.9l.5-1.8l.5 2.1l.5-2l.5 2.1l.5-2.6l.5 2.1l.5-2.2l.5 2.5l.5-2.5l.5 1.9l.5-1.5l.5 1.6l.5-2.2l.5 1.9l.5-1.7l.5 1.1l.5-1.6l.5 .9l.5-1.1l.5 .2l.5-.6l.5-.4l.5-.4l.5-.4l.5-.4l.5-.3l.5-.3l.5-.1l.5 0l.5 .1l.5 .3l.5 .3l.5 .4l.5 .4l.5 .4l.5 .4l.5 .1l.5 .8l.5-.3l.5 1.2l.5-.9l.5 1.2l.5-1.3l.5 1.5l.5-1.2l.5 1.6l.5-1.6l.5 1.8l.5-1.7l.5 1.6l.5-1.4l.5 1.3l.5-1.3l.5 1.5l.5-2l.5 1.7l.5-1.5l.5 1.4l.5-1.5l.5 1.3l.5-1.5l.5 1.4l.5-1.5l.5 .9l.5-1.1l.5 .2l.5-.7l.5-.5l.5-.6l.5-.8l.5-.9l.5-1.1l.5-1.3l.5-1.4l.5-1.5l.5-1.7l.5-1.6l.5-1.5l.5-1.3l.5-1l.5-.4l.5 0l.5 .6l.5 1l.5 1.4l.5 1.6l.5 1.6l.5 1.6l.5 1.5l.5 1.4l.5 1.2l.5 1.1l.5 .9l.5 .8l.5 .6l.5 .7l.5-.1l.5 1.2l.5-.8l.5 1.2l.5-1.2l.5 1.8l.5-1.7l.5 2.1l.5-1.9l.5 1.7l.5-1.4l.5 1.6l.5-1.6l.5 1.7l.5-1.4l.5 1.6l.5-1.6l.5 1.5l.5-1.5l.5 2.2l.5-2.4l.5 1.8l.5-1.8l.5 2.2l.5-2.3l.5 2.3l.5-2.4l.5 2.4l.5-1.9l.5 1.9l.5-2l.5 1.8l.5-1.6l.5 1.6l.5-1.6l.5 2.3l.5-2.2l.5 1.9l.5-2.4l.5 2.3l.5-2l.5 2.1l.5-1.9l.5 1.6l.5-1.9l.5 2.5l.5-2.4l.5 2.2l.5-2.6l.5 2.3l.5-2.2l.5 2.7l.5-2.2l.5 1.8l.5-1.8l.5 1.6l.5-1.8l.5 2.5l.5-2.7l.5 2.7l.5-2.5l.5 1.8l.5-2l.5 2.4l.5-2.5l.5 2.7l.5-2.7l.5 2.7l.5-2.6l.5 2.1l.5-1.9l.5 1.9l.5-1.9l.5 2.4l.5-2.4l.5 2.2l.5-2.6l.5 2.6l.5-2.6l.5 2.7l.5-2.7l.5 2.7l.5-2.5l.5 2.3l.5-2.1l.5 2l.5-2.3l.5 2.9l.5-2.8l.5 2.7l.5-2.3l.5 2l.5-2.5l.5 2.2l.5-1.7l.5 1.7l.5-2l.5 2.3l.5-2.6l.5 2.6l.5-2.5l.5 2.5l.5-2.3l.5 2.2l.5-2.4l.5 2.4l.5-2.4l.5 2.2l.5-2.2l.5 2.8l.5-2.6l.5 2.6l.5-3l.5 3l.5-2.6l.5 2.5l.5-2.4l.5 2.3l.5-2.6l.5 2.7l.5-2.8l.5 2.4l.5-2.4l.5 2.5l.5-2.2l.5 2.1l.5-1.8l.5 1.7l.5-1.9l.5 2l.5-2l.5 2.4l.5-2.3l.5 1.7l.5-2.1l.5 2.5l.5-1.9l.5 1.5l.5-1.8l.5 2.3l.5-2.2l.5 1.9l.5-1.9l.5 2l.5-1.9l.5 1.5l.5-1.5l.5 1.8l.5-2.2l.5 2l.5-2.1l.5 2.5l.5-2.2l.5 1.8l.5-2.1l.5 2l.5-2.1l.5 2.2l.5-2.1l.5 2.6l.5-2.1l.5 1.9l.5-2.3l.5 2.1l.5-1.9l.5 2.1l.5-2.2l.5 2l.5-2.4l.5 2.3l.5-1.9l.5 2l.5-2.5l.5 2.4l.5-2.2l.5 1.7l.5-1.4l.5 1.6l.5-1.8l.5 1.4l.5-1.4l.5 1.7l.5-1.8l.5 1.4l.5-1.5l.5 1.2l.5-1.5l.5 .9l.5-1.1l.5 .5l.5-.9l.5-.2l.5-.5l.5-.5l.5-.6l.5-.7l.5-.7l.5-.9l.5-.9l.5-.9l.5-1l.5-.9l.5-.9l.5-.8l.5-.6l.5-.4l.5-.1l.5 .1l.5 .4l.5 .6l.5 .8l.5 .8l.5 1l.5 .9l.5 .9l.5 .9l.5 .8l.5 .8l.5 .6l.5 .6l.5 .5l.5 .4l.5 .2l.5 .7l.5-.4l.5 .9l.5-.5l.5 .9l.5-.9l.5 1.1l.5-1.1l.5 1l.5-1l.5 1.2l.5-1.2l.5 .8l.5-1l.5 .8l.5-.8l.5 .5l.5-.7l.5 .3l.5-.6l.5 0l.5-.2l.5-.3l.5-.2l.5-.2l.5-.3l.5-.2l.5-.3l.5-.2l.5-.2l.5-.2l.5-.2l.5-.1l.5-.1l.5-.1l.5 0l.5 0l.5 .1l.5 .1l.5 .2l.5 .1l.5 .3l.5 .2l.5 .3l.5 .2l.5 .3l.5 .2l.5 .3l.5 .2l.5 .3l.5 .4l.5-.2l.5 .8l.5-.4l.5 .9l.5-1l.5 1.5l.5-1.2l.5 1.7l.5-1.6l.5 1.8l.5-1.5l.5 1.5l.5-1.5l.5 1.9l.5-1.6l.5 1.6l.5-1.9l.5 2.4l.5-2.5l.5 2.5l.5-2.1l.5 2l.5-2.1l.5 2.2l.5-1.9l.5 2l.5-2.1l.5 1.6l.5-1.8l.5 1.9l.5-1.5l.5 2.1l.5-2.7l.5 2.5l.5-2.1l.5 1.7l.5-1.9l.5 2.5l.5-2.3l.5 1.9l.5-1.8l.5 1.9l.5-2l.5 2.1l.5-1.8l.5 1.9l.5-2l.5 2.1l.5-2.4l.5 2.6l.5-2.4l.5 2.2l.5-2.5l.5 2.1l.5-1.9l.5 2.4l.5-2.2l.5 1.8l.5-2.3l.5 2.4l.5-1.9l.5 1.7l.5-1.8l.5 1.8l.5-2.1l.5 2l.5-2l.5 2.2l.5-1.8l.5 2.2l.5-2.7l.5 2.1l.5-1.6l.5 1.5l.5-2l.5 2l.5-2.2l.5 2l.5-1.9l.5 1.7l.5-1.5l.5 1l.5-1.6l.5 1.3l.5-1.5l.5 .7l.5-1l.5 .1l.5-.5l.5-.3l.5-.3l.5-.3l.5-.1l.5-.1l.5 0l.5 .2l.5 .2l.5 .2l.5 .4l.5 .4l.5 0l.5 .8l.5-.3l.5 1l.5-.7l.5 1.5l.5-1.5l.5 2.1l.5-2l.5 1.9l.5-1.9l.5 2.3l.5-1.8l.5 2l.5-2.2l.5 2.4l.5-2.6l.5 2.3l.5-1.9l.5 2.4l.5-2.4l.5 2.3l.5-2.2l.5 2l.5-1.8l.5 2.1l.5-2.6l.5 2.3l.5-1.9l.5 1.9l.5-2.4l.5 2.8l.5-2.5l.5 2.2l.5-2.1l.5 2.4l.5-2.8l.5 2.4l.5-2.4l.5 2.5l.5-2.2l.5 2.5l.5-2.4l.5 2.2l.5-2.4l.5 2.4l.5-2.5l.5 2.7l.5-2.3l.5 2.3l.5-2.8l.5 2.6l.5-2.1l.5 2l.5-1.9l.5 2.2l.5-2.4l.5 2.3l.5-2.3l.5 2.4l.5-2.8l.5 2.6l.5-2.2l.5 2.1l.5-2.4l.5 2l.5-1.8l.5 2.3l.5-2.5l.5 2.1l.5-2.2l.5 2l.5-1.7l.5 2.3l.5-2.2l.5 1.8l.5-1.9l.5 1.6l.5-1.5l.5 1.6l.5-2.2l.5 2.3l.5-2.3l.5 2l.5-2.1l.5 2.1l.5-1.8l.5 1.8l.5-2.2l.5 1.8l.5-1.9l.5 1.2l.5-1.3l.5 .6l.5-1l.5 0l.5-.6l.5-.6l.5-.7l.5-.7l.5-.8l.5-.8l.5-.9l.5-.9l.5-.7l.5-.7l.5-.4l.5-.2l.5 .1l.5 .3l.5 .6l.5 .7l.5 .8l.5 .9l.5 .8l.5 .9l.5 .7l.5 .7l.5 .6l.5 .6l.5 .3l.5 .7l.5-.4l.5 1.1l.5-.9l.5 1.7l.5-1.4l.5 1.6l.5-1.6l.5 1.6l.5-1.5l.5 1.7l.5-1.8l.5 2.2l.5-2l.5 1.8l.5-2l.5 2.2l.5-2.2l.5 2l.5-1.7l.5 2l.5-1.8l.5 1.8l.5-1.8l.5 1.8l.5-2l.5 1.8l.5-2.2l.5 1.8l.5-1.9l.5 2.1l.5-1.8l.5 1.5l.5-1.8l.5 1.2l.5-1.5l.5 1l.5-1.1l.5 .1l.5-.7l.5-.4l.5-.6l.5-.7l.5-.7l.5-.8l.5-.8l.5-.8l.5-.8l.5-.7l.5-.5l.5-.3l.5 0l.5 .3l.5 .4l.5 .7l.5 .7l.5 .8l.5 .9l.5 .8l.5 .7l.5 .7l.5 .6l.5 .6l.5 .2l.5 1.1l.5-.5l.5 1.1l.5-.9l.5 1.5l.5-1.2l.5 1.8l.5-2.1l.5 1.8l.5-1.7l.5 2.2l.5-2l.5 1.7l.5-1.4l.5 2.1l.5-2.3l.5 1.8l.5-1.5l.5 1.9l.5-2.4l.5 2.3l.5-1.9l.5 2.4l.5-2.5l.5 2.3l.5-2.5l.5 2.3l.5-1.7l.5 1.8l.5-2.4l.5 2.6l.5-2.6l.5 2.3l.5-2l.5 2.3l.5-2.2l.5 2.3l.5-2.4l.5 1.9l.5-1.7l.5 1.7l.5-1.9l.5 2.2l.5-2.1l.5 2.4l.5-2.7l.5 2.6l.5-2.2l.5 2.1l.5-2.5l.5 2.9l.5-2.6l.5 1.9l.5-2.2l.5 2.9l.5-2.9l.5 2.5l.5-2l.5 2.3l.5-2.5l.5 2.5l.5-2.9l.5 2.4l.5-1.7l.5 2.2l.5-2.9l.5 2.3l.5-2.2l.5 2.9l.5-2.9l.5 2.7l.5-2.1l.5 2.1l.5-2.1l.5 1.8l.5-2.4l.5 2.2l.5-1.7l.5 1.8l.5-1.7l.5 2.2l.5-2.8l.5 2.8l.5-2.8l.5 2.6l.5-2.6l.5 2.8l.5-2.2l.5 2.3l.5-3l.5 3l.5-2.6l.5 2.6l.5-2.6l.5 2.4l.5-2.4l.5 2.6l.5-3l.5 2.4l.5-2l.5 2.2l.5-2.3l.5 2l.5-1.7l.5 1.8l.5-1.8l.5 2.4l.5-2.7l.5 2.1l.5-1.9l.5 2l.5-2.2l.5 2.1l.5-1.7l.5 2.1l.5-2.5l.5 2.1l.5-1.8l.5 2.4l.5-2.4l.5 1.8l.5-2.1l.5 2.3l.5-2l.5 1.9l.5-2l.5 2.6l.5-2.5l.5 1.7l.5-2.3l.5 2.4l.5-1.9l.5 2.3l.5-2.4l.5 2.3l.5-2.4l.5 2.5l.5-2.3l.5 2.6l.5-2.5l.5 2.4l.5-2.3l.5 2.3l.5-2.5l.5 1.9l.5-1.9l.5 2.5l.5-2.7l.5 2.7l.5-2.9l.5 3l.5-2.8l.5 2.6l.5-2.7l.5 2.4l.5-2.3l.5 2.3l.5-2.5l.5 2.6l.5-1.9l.5 2.1l.5-2.2l.5 2.2l.5-2.3l.5 2.5l.5-2.5l.5 2l.5-2.4l.5 2.5l.5-2.7l.5 2.5l.5-1.8l.5 2.4l.5-2.9l.5 2.7l.5-2.3l.5 2.4l.5-2.4l.5 2.1l.5-2.6l.5 2.9l.5-2.8l.5 2.6l.5-2.5l.5 2.4l.5-2l.5 1.7l.5-2l.5 2.4l.5-2.4l.5 2.6l.5-2.7l.5 2.7l.5-2.5l.5 2.5l.5-3l.5 2.4l.5-2.2l.5 2.8l.5-3l.5 2.4l.5-1.9l.5 2.5l.5-2.9l.5 2.4l.5-2.1l.5 2.3l.5-2.2l.5 2.2l.5-2.6l.5 2.1l.5-2.3l.5 2.4l.5-2.4l.5 1.9l.5-1.5l.5 1.4l.5-1.8l.5 1.4l.5-1.6l.5 1.1l.5-1.5l.5 .7l.5-1l.5 .5l.5-.6l.5 .4l.5-.5l.5 .5l.5-.2l.5 .6l.5-.6l.5 1.2l.5-1l.5 1.3l.5-1l.5 1.7l.5-1.3l.5 1.7l.5-1.5l.5 1.6l.5-1.4l.5 1.7l.5-1.7l.5 1.7l.5-1.6l.5 1.8l.5-1.8l.5 2.3l.5-2.4l.5 2l.5-2.5l.5 2.5l.5-1.8l.5 1.8l.5-1.9l.5 2.2l.5-2.2l.5 1.9l.5-2.3l.5 2.3l.5-1.7l.5 1.9l.5-2.1l.5 2.3l.5-2.7l.5 2.3l.5-2.4l.5 3l.5-2.9l.5 3l.5-2.8"/>
</g>
<path fill="#ff00ff" d="M623.25 627.82L623.25 626.90L623.50 625.23L623.75 623.30L624.00 621.09L624.25 618.57L624.50 615.73L624.75 612.53L625.00 608.97L625.25 605.04L625.50 600.73L625.75 596.05L626.00 591.04L626.25 585.72L626.50 580.16L626.75 574.44L627.00 568.67L627.25 562.98L627.50 557.51L627.75 552.43L628.00 547.87L628.25 543.95L628.50 540.74L628.75 538.29L629.00 536.56L629.25 535.55L629.50 535.21L629.75 535.55L630.00 536.56L630.25 538.28L630.50 540.74L630.75 543.94L631.00 547.85L631.25 552.41L631.50 557.50L631.75 562.96L632.00 568.65L632.25 574.42L632.50 580.13L632.75 585.69L633.00 591.01L633.25 596.02L633.50 600.69L633.75 605.00L634.00 608.93L634.25 612.49L634.50 615.68L634.75 618.52L635.00 621.04L635.25 623.24L635.50 625.17L635.75 626.85L635.75 627.82Z"/>
<path fill="#ff00ff" d="M692.25 587.58L692.25 577.28L692.50 565.01L692.75 550.64L693.00 534.03L693.25 515.09L693.50 493.79L693.75 470.18L694.00 444.38L694.25 416.61L694.50 387.20L694.75 356.56L695.00 325.20L695.25 293.72L695.50 262.81L695.75 233.17L696.00 205.56L696.25 180.62L696.50 158.88L696.75 140.66L697.00 126.07L697.25 115.04L697.50 107.39L697.75 102.90L698.00 101.42L698.25 102.90L698.50 107.39L698.75 115.05L699.00 126.08L699.25 140.67L699.50 158.89L699.75 180.63L700.00 205.57L700.25 233.19L700.50 262.82L700.75 293.74L701.00 325.22L701.25 356.59L701.50 387.23L701.75 416.64L702.00 444.41L702.25 470.21L702.50 493.83L702.75 515.13L703.00 534.07L703.25 550.68L703.50 565.05L703.75 577.32L703.75 587.58Z"/>
<path fill="#ff00ff" d="M918.65 616.84L918.65 616.65L918.90 614.24L919.15 611.68L919.40 608.98L919.65 606.15L919.90 603.21L920.15 600.20L920.40 597.14L920.65 594.08L920.90 591.06L921.15 588.15L921.40 585.41L921.65 582.90L921.90 580.72L922.15 578.92L922.40 577.58L922.65 576.76L922.90 576.48L923.15 576.76L923.40 577.58L923.65 578.92L923.90 580.72L924.15 582.90L924.40 585.40L924.65 588.15L924.90 591.06L925.15 594.07L925.40 597.14L925.65 600.20L925.90 603.21L926.15 606.15L926.40 608.98L926.65 611.68L926.90 614.24L927.15 616.65L927.15 616.84Z"/>
<path fill="#ff00ff" d="M1031.95 627.45L1031.95 627.28L1032.20 625.91L1032.45 624.45L1032.70 622.91L1032.95 621.30L1033.20 619.63L1033.45 617.91L1033.70 616.17L1033.95 614.43L1034.20 612.71L1034.45 611.05L1034.70 609.49L1034.95 608.07L1035.20 606.82L1035.45 605.80L1035.70 605.04L1035.95 604.57L1036.20 604.41L1036.45 604.57L1036.70 605.04L1036.95 605.80L1037.20 606.82L1037.45 608.06L1037.70 609.49L1037.95 611.05L1038.20 612.71L1038.45 614.42L1038.70 616.16L1038.95 617.91L1039.20 619.62L1039.45 621.29L1039.70 622.90L1039.95 624.44L1040.20 625.90L1040.45 627.27L1040.45 627.45Z"/>
<path fill="#ff00ff" d="M1159.15 624.77L1159.15 624.55L1159.40 622.92L1159.65 621.18L1159.90 619.35L1160.15 617.44L1160.40 615.45L1160.65 613.41L1160.90 611.34L1161.15 609.26L1161.40 607.22L1161.65 605.25L1161.90 603.39L1162.15 601.70L1162.40 600.22L1162.65 599.00L1162.90 598.09L1163.15 597.53L1163.40 597.34L1163.65 597.53L1163.90 598.09L1164.15 599.00L1164.40 600.21L1164.65 601.69L1164.90 603.38L1165.15 605.24L1165.40 607.21L1165.65 609.25L1165.90 611.32L1166.15 613.39L1166.40 615.43L1166.65 617.42L1166.90 619.33L1167.15 621.16L1167.40 622.89L1167.65 624.52L1167.65 624.77Z"/>
<path fill="#ff00ff" d="M1306.20 623.60L1306.20 622.77L1306.45 621.29L1306.70 619.68L1306.95 617.95L1307.20 616.10L1307.45 614.16L1307.70 612.13L1307.95 610.03L1308.20 607.90L1308.45 605.76L1308.70 603.64L1308.95 601.60L1309.20 599.67L1309.45 597.91L1309.70 596.37L1309.95 595.12L1310.20 594.19L1310.45 593.62L1310.70 593.45L1310.95 593.68L1311.20 594.31L1311.45 595.30L1311.70 596.62L1311.95 598.22L1312.20 600.04L1312.45 602.04L1312.70 604.16L1312.95 606.36L1313.20 608.59L1313.45 610.81L1313.70 613.00L1313.95 615.13L1314.20 617.19L1314.45 619.15L1314.70 621.01L1314.95 622.76L1314.95 623.60Z"/>
<path fill="#ff00ff" d="M1340.95 627.39L1340.95 626.40L1341.20 625.18L1341.45 623.90L1341.70 622.56L1341.95 621.16L1342.20 619.71L1342.45 618.22L1342.70 616.71L1342.95 615.19L1343.20 613.67L1343.45 612.18L1343.70 610.74L1343.95 609.37L1344.20 608.10L1344.45 606.97L1344.70 605.99L1344.95 605.19L1345.20 604.60L1345.45 604.25L1345.70 604.13L1345.95 604.25L1346.20 604.62L1346.45 605.21L1346.70 606.02L1346.95 607.00L1347.20 608.15L1347.45 609.42L1347.70 610.80L1347.95 612.25L1348.20 613.75L1348.45 615.27L1348.70 616.80L1348.95 618.32L1349.20 619.82L1349.45 621.27L1349.70 622.68L1349.95 624.03L1350.20 625.33L1350.45 626.55L1350.45 627.39Z"/>
<path fill="#ff00ff" d="M1537.25 618.99L1537.25 616.97L1537.50 614.49L1537.75 611.85L1538.00 609.08L1538.25 606.20L1538.50 603.24L1538.75 600.25L1539.00 597.26L1539.25 594.35L1539.50 591.58L1539.75 589.02L1540.00 586.77L1540.25 584.91L1540.50 583.51L1540.75 582.64L1541.00 582.35L1541.25 582.64L1541.50 583.51L1541.75 584.91L1542.00 586.77L1542.25 589.02L1542.50 591.58L1542.75 594.35L1543.00 597.26L1543.25 600.24L1543.50 603.24L1543.75 606.19L1544.00 609.07L1544.25 611.84L1544.50 614.48L1544.75 616.97L1544.75 618.99Z"/>
<path fill="#ff0000" d="M625.25 899.98L625.25 895.97L625.50 890.87L625.75 885.23L626.00 879.05L626.25 872.34L626.50 865.14L626.75 857.48L627.00 849.42L627.25 841.04L627.50 832.44L627.75 823.76L628.00 815.12L628.25 806.70L628.50 798.66L628.75 791.19L629.00 784.43L629.25 778.55L629.50 773.64L629.75 769.77L630.00 766.99L630.25 765.33L630.50 764.77L630.75 765.33L631.00 767.00L631.25 769.77L631.50 773.64L631.75 778.55L632.00 784.44L632.25 791.19L632.50 798.67L632.75 806.70L633.00 815.13L633.25 823.76L633.50 832.45L633.75 841.05L634.00 849.42L634.25 857.49L634.50 865.15L634.75 872.35L635.00 879.06L635.25 885.24L635.50 890.88L635.75 895.99L635.75 899.98Z"/>
<path fill="#ff0000" d="M920.05 905.84L920.05 903.36L920.30 900.24L920.55 896.93L920.80 893.46L921.05 889.85L921.30 886.14L921.55 882.38L921.80 878.64L922.05 874.99L922.30 871.51L922.55 868.31L922.80 865.48L923.05 863.15L923.30 861.39L923.55 860.30L923.80 859.93L924.05 860.30L924.30 861.39L924.55 863.15L924.80 865.48L925.05 868.31L925.30 871.51L925.55 874.99L925.80 878.64L926.05 882.38L926.30 886.14L926.55 889.85L926.80 893.46L927.05 896.94L927.30 900.24L927.55 903.36L927.55 905.84Z"/>
<path fill="#ff0000" d="M1095.05 919.16L1095.05 917.83L1095.30 916.19L1095.55 914.44L1095.80 912.61L1096.05 910.71L1096.30 908.75L1096.55 906.77L1096.80 904.80L1097.05 902.88L1097.30 901.05L1097.55 899.36L1097.80 897.87L1098.05 896.64L1098.30 895.71L1098.55 895.14L1098.80 894.95L1099.05 895.14L1099.30 895.71L1099.55 896.64L1099.80 897.87L1100.05 899.36L1100.30 901.05L1100.55 902.88L1100.80 904.80L1101.05 906.78L1101.30 908.76L1101.55 910.71L1101.80 912.62L1102.05 914.45L1102.30 916.19L1102.55 917.83L1102.55 919.16Z"/>
<path fill="#ff0000" d="M1536.90 913.00L1536.90 911.19L1537.15 908.52L1537.40 905.60L1537.65 902.43L1537.90 899.00L1538.15 895.32L1538.40 891.40L1538.65 887.27L1538.90 882.94L1539.15 878.44L1539.40 873.82L1539.65 869.12L1539.90 864.38L1540.15 859.68L1540.40 855.08L1540.65 850.66L1540.90 846.48L1541.15 842.61L1541.40 839.14L1541.65 836.11L1541.90 833.57L1542.15 831.57L1542.40 830.12L1542.65 829.25L1542.90 828.96L1543.15 829.25L1543.40 830.12L1543.65 831.57L1543.90 833.57L1544.15 836.11L1544.40 839.14L1544.65 842.61L1544.90 846.47L1545.15 850.65L1545.40 855.08L1545.65 859.68L1545.90 864.38L1546.15 869.11L1546.40 873.82L1546.65 878.44L1546.90 882.93L1547.15 887.26L1547.40 891.40L1547.65 895.31L1547.90 898.99L1548.15 902.42L1548.40 905.59L1548.65 908.51L1548.90 911.18L1548.90 913.00Z"/>
<path fill="#ff0000" d="M1616.10 922.79L1616.10 922.43L1616.35 921.40L1616.60 920.31L1616.85 919.16L1617.10 917.97L1617.35 916.73L1617.60 915.45L1617.85 914.16L1618.10 912.86L1618.35 911.58L1618.60 910.32L1618.85 909.12L1619.10 908.00L1619.35 906.99L1619.60 906.11L1619.85 905.39L1620.10 904.86L1620.35 904.53L1620.60 904.42L1620.85 904.53L1621.10 904.86L1621.35 905.39L1621.60 906.11L1621.85 906.99L1622.10 908.00L1622.35 909.13L1622.60 910.33L1622.85 911.58L1623.10 912.87L1623.35 914.17L1623.60 915.46L1623.85 916.74L1624.10 917.98L1624.35 919.18L1624.60 920.32L1624.85 921.41L1625.10 922.44L1625.10 922.79Z"/>
<path fill="#ff0000" d="M2035.95 920.70L2035.95 920.49L2036.20 919.19L2036.45 917.81L2036.70 916.35L2036.95 914.82L2037.20 913.24L2037.45 911.62L2037.70 909.97L2037.95 908.32L2038.20 906.69L2038.45 905.12L2038.70 903.64L2038.95 902.29L2039.20 901.11L2039.45 900.14L2039.70 899.42L2039.95 898.97L2040.20 898.82L2040.45 898.96L2040.70 899.40L2040.95 900.12L2041.20 901.09L2041.45 902.26L2041.70 903.60L2041.95 905.08L2042.20 906.64L2042.45 908.26L2042.70 909.91L2042.95 911.55L2043.20 913.17L2043.45 914.75L2043.70 916.26L2043.95 917.72L2044.20 919.09L2044.45 920.38L2044.45 920.70Z"/>
<path fill="#000" d="M693.55 1408.46L693.55 1399.30L693.80 1384.31L694.05 1367.22L694.30 1348.01L694.55 1326.71L694.80 1303.41L695.05 1278.30L695.30 1251.66L695.55 1223.85L695.80 1195.32L696.05 1166.64L696.30 1138.43L696.55 1111.41L696.80 1086.26L697.05 1063.65L697.30 1044.06L697.55 1027.80L697.80 1014.93L698.05 1005.31L698.30 998.71L698.55 994.88L698.80 993.63L699.05 994.88L699.30 998.72L699.55 1005.31L699.80 1014.93L700.05 1027.81L700.30 1044.07L700.55 1063.66L700.80 1086.27L701.05 1111.41L701.30 1138.44L701.55 1166.65L701.80 1195.33L702.05 1223.86L702.30 1251.67L702.55 1278.32L702.80 1303.43L703.05 1326.72L703.30 1348.03L703.55 1367.24L703.80 1384.33L704.05 1399.32L704.05 1408.46Z"/>
<path fill="#000" d="M917.55 1472.78L917.55 1472.66L917.80 1471.40L918.05 1470.06L918.30 1468.64L918.55 1467.16L918.80 1465.63L919.05 1464.05L919.30 1462.45L919.55 1460.85L919.80 1459.27L920.05 1457.75L920.30 1456.31L920.55 1455.00L920.80 1453.86L921.05 1452.92L921.30 1452.22L921.55 1451.79L921.80 1451.64L922.05 1451.79L922.30 1452.22L922.55 1452.92L922.80 1453.86L923.05 1455.00L923.30 1456.31L923.55 1457.75L923.80 1459.27L924.05 1460.85L924.30 1462.45L924.55 1464.05L924.80 1465.63L925.05 1467.16L925.30 1468.64L925.55 1470.06L925.80 1471.39L926.05 1472.65L926.05 1472.78Z"/>
<path fill="#000" d="M1033.25 1468.22L1033.25 1468.07L1033.50 1466.37L1033.75 1464.56L1034.00 1462.64L1034.25 1460.64L1034.50 1458.56L1034.75 1456.43L1035.00 1454.26L1035.25 1452.10L1035.50 1449.96L1035.75 1447.90L1036.00 1445.96L1036.25 1444.19L1036.50 1442.64L1036.75 1441.37L1037.00 1440.43L1037.25 1439.84L1037.50 1439.64L1037.75 1439.84L1038.00 1440.43L1038.25 1441.37L1038.50 1442.64L1038.75 1444.19L1039.00 1445.96L1039.25 1447.90L1039.50 1449.96L1039.75 1452.10L1040.00 1454.26L1040.25 1456.43L1040.50 1458.56L1040.75 1460.64L1041.00 1462.64L1041.25 1464.56L1041.50 1466.37L1041.75 1468.07L1041.75 1468.22Z"/>
<path fill="#000" d="M1160.25 1470.31L1160.25 1470.15L1160.50 1468.65L1160.75 1467.06L1161.00 1465.38L1161.25 1463.61L1161.50 1461.78L1161.75 1459.90L1162.00 1458.00L1162.25 1456.09L1162.50 1454.21L1162.75 1452.40L1163.00 1450.69L1163.25 1449.13L1163.50 1447.77L1163.75 1446.65L1164.00 1445.81L1164.25 1445.30L1164.50 1445.12L1164.75 1445.30L1165.00 1445.81L1165.25 1446.65L1165.50 1447.77L1165.75 1449.13L1166.00 1450.69L1166.25 1452.40L1166.50 1454.21L1166.75 1456.09L1167.00 1458.00L1167.25 1459.90L1167.50 1461.78L1167.75 1463.61L1168.00 1465.37L1168.25 1467.06L1168.50 1468.65L1168.75 1470.15L1168.75 1470.31Z"/>
<path fill="#000" d="M1307.90 1454.70L1307.90 1453.41L1308.15 1451.19L1308.40 1448.85L1308.65 1446.41L1308.90 1443.89L1309.15 1441.32L1309.40 1438.72L1309.65 1436.14L1309.90 1433.62L1310.15 1431.21L1310.40 1428.95L1310.65 1426.91L1310.90 1425.15L1311.15 1423.73L1311.40 1422.68L1311.65 1422.06L1311.90 1421.89L1312.15 1422.19L1312.40 1422.93L1312.65 1424.10L1312.90 1425.65L1313.15 1427.54L1313.40 1429.72L1313.65 1432.11L1313.90 1434.67L1314.15 1437.34L1314.40 1440.07L1314.65 1442.82L1314.90 1445.57L1315.15 1448.26L1315.40 1450.89L1315.65 1453.42L1315.65 1454.70Z"/>
<path fill="#000" d="M1341.55 1464.80L1341.55 1463.30L1341.80 1461.49L1342.05 1459.59L1342.30 1457.59L1342.55 1455.51L1342.80 1453.35L1343.05 1451.15L1343.30 1448.90L1343.55 1446.64L1343.80 1444.39L1344.05 1442.17L1344.30 1440.03L1344.55 1437.99L1344.80 1436.11L1345.05 1434.42L1345.30 1432.97L1345.55 1431.78L1345.80 1430.91L1346.05 1430.38L1346.30 1430.21L1346.55 1430.40L1346.80 1430.94L1347.05 1431.82L1347.30 1433.02L1347.55 1434.49L1347.80 1436.19L1348.05 1438.08L1348.30 1440.13L1348.55 1442.29L1348.80 1444.51L1349.05 1446.78L1349.30 1449.06L1349.55 1451.31L1349.80 1453.54L1350.05 1455.70L1350.30 1457.80L1350.55 1459.81L1350.80 1461.73L1351.05 1463.55L1351.05 1464.80Z"/>
<g fill="#000">
<rect x="484.2" y="589.0" width="24.8" height="30.0"/>
<rect x="686.2" y="68.0" width="26.9" height="27.5"/>
<rect x="1024.2" y="556.7" width="24.4" height="27.0"/>
<rect x="1149.5" y="562.8" width="24.8" height="28.7"/>
<rect x="1299.0" y="554.8" width="26.7" height="28.5"/>
<rect x="1333.3" y="564.9" width="25.7" height="26.6"/>
<rect x="1632.6" y="587.0" width="26.0" height="28.8"/>
<rect x="1757.6" y="584.1" width="26.5" height="29.0"/>
<rect x="1820.0" y="602.7" width="26.8" height="27.3"/>
<rect x="683.6" y="963.2" width="24.4" height="26.8"/>
<rect x="473.8" y="1421.7" width="23.8" height="28.5"/>
<rect x="757.0" y="1427.0" width="25.0" height="26.8"/>
<rect x="912.1" y="1405.4" width="26.8" height="26.4"/>
<rect x="1026.8" y="1403.3" width="24.2" height="28.5"/>
<rect x="1149.3" y="1401.1" width="24.2" height="28.5"/>
<rect x="1299.6" y="1359.6" width="25.7" height="26.1"/>
<rect x="1335.0" y="1381.4" width="26.8" height="28.3"/>
<rect x="1634.3" y="1411.1" width="27.2" height="26.5"/>
<rect x="1750.7" y="1430.2" width="25.3" height="28.5"/>
<rect x="1879.5" y="1430.2" width="24.7" height="28.5"/>
<path d="M635.2 469.0L653.3 507.0L617.5 507.0Z"/>
<path d="M921.0 510.6L939.0 547.5L901.9 547.5Z"/>
<path d="M1106.0 551.9L1124.8 588.7L1087.0 588.7Z"/>
<path d="M1545.3 516.7L1563.2 552.9L1526.3 552.9Z"/>
<path d="M1614.0 553.9L1631.8 591.0L1596.7 591.0Z"/>
<path d="M2045.9 589.0L2064.0 623.7L2027.5 623.7Z"/>
<path d="M631.7 709.8L650.5 747.1L612.6 747.1Z"/>
<path d="M923.8 782.9L941.7 820.2L904.8 820.2Z"/>
<path d="M1033.3 857.9L1051.2 894.8L1015.5 894.8Z"/>
<path d="M1097.0 832.9L1116.2 869.8L1078.6 869.8Z"/>
<path d="M1541.9 773.0L1560.0 809.9L1522.9 809.9Z"/>
<path d="M1621.9 843.4L1640.4 880.0L1604.8 880.0Z"/>
<path d="M1819.1 864.9L1838.0 901.1L1800.9 901.1Z"/>
<path d="M1868.8 857.5L1887.6 894.8L1849.9 894.8Z"/>
<path d="M2041.8 846.6L2059.7 883.1L2023.8 883.1Z"/>
</g>
<g stroke="#c4c4c4" stroke-width="2.6" fill="none">
<line x1="38.4" y1="19" x2="38.4" y2="1528"/>
<line x1="2075.2" y1="14" x2="2075.2" y2="1533"/>
<line x1="37" y1="1534.6" x2="2073" y2="1534.6"/>
</g>
<g stroke="#000" fill="none">
<rect x="34.5" y="16" width="2036.5" height="1514.7" stroke-width="5.3"/>
<line x1="34.5" y1="1530" x2="34.5" y2="1561" stroke-width="5"/>
<line x1="204.2" y1="1530" x2="204.2" y2="1547" stroke-width="5"/>
<line x1="373.9" y1="1530" x2="373.9" y2="1561" stroke-width="5"/>
<line x1="543.6" y1="1530" x2="543.6" y2="1547" stroke-width="5"/>
<line x1="713.3" y1="1530" x2="713.3" y2="1561" stroke-width="5"/>
<line x1="883.0" y1="1530" x2="883.0" y2="1547" stroke-width="5"/>
<line x1="1052.7" y1="1530" x2="1052.7" y2="1561" stroke-width="5"/>
<line x1="1222.4" y1="1530" x2="1222.4" y2="1547" stroke-width="5"/>
<line x1="1392.1" y1="1530" x2="1392.1" y2="1561" stroke-width="5"/>
<line x1="1561.8" y1="1530" x2="1561.8" y2="1547" stroke-width="5"/>
<line x1="1731.5" y1="1530" x2="1731.5" y2="1561" stroke-width="5"/>
<line x1="1901.2" y1="1530" x2="1901.2" y2="1547" stroke-width="5"/>
<line x1="2070.9" y1="1530" x2="2070.9" y2="1561" stroke-width="5"/>
</g>
<g font-family="'Liberation Sans',Arial,sans-serif" fill="#000">
<text transform="translate(3.92 1622.21) scale(0.9295 1)" font-size="60.03">10</text>
<text transform="translate(341.85 1622.21) scale(0.9445 1)" font-size="60.03">20</text>
<text transform="translate(683.09 1622.21) scale(0.9238 1)" font-size="60.03">30</text>
<text transform="translate(1022.23 1622.21) scale(0.9291 1)" font-size="60.03">40</text>
<text transform="translate(1361.16 1622.21) scale(0.9291 1)" font-size="60.03">50</text>
<text transform="translate(1700.26 1622.21) scale(0.9291 1)" font-size="60.03">60</text>
<text transform="translate(2039.99 1622.21) scale(0.9128 1)" font-size="60.03">70</text>
</g>
<text transform="translate(976.47 1734.9) scale(0.9746 1)" font-family="'Liberation Sans',Arial,sans-serif" font-size="72.06" fill="#000">2θ<tspan class="thin" dx="1">(</tspan><tspan font-size="61.25" dx="0.5" dy="-7.5">°</tspan><tspan class="thin" dx="3" dy="7.5">)</tspan></text>
<g font-family="'Liberation Sans',Arial,sans-serif" fill="#000">
<text transform="translate(565.57 1011.37) scale(0.8700 1)" font-size="64.69" letter-spacing="4.88">104</text>
<text class="thin" transform="translate(543.81 1011.37) scale(0.8700 1)" font-size="64.69">(</text>
<text class="thin" transform="translate(669.55 1011.37) scale(0.8700 1)" font-size="64.69">)</text>
<text transform="translate(432.32 1406.77) scale(0.8700 1)" font-size="64.12" letter-spacing="4.83">012</text>
<text class="thin" transform="translate(410.84 1406.77) scale(0.8700 1)" font-size="64.12">(</text>
<text class="thin" transform="translate(537.28 1406.77) scale(0.8700 1)" font-size="64.12">)</text>
<text transform="translate(744.26 1403.69) scale(0.8700 1)" font-size="62.85" letter-spacing="6.27">006</text>
<text class="thin" transform="translate(724.01 1403.69) scale(0.8700 1)" font-size="62.85">(</text>
<text class="thin" transform="translate(849.68 1403.69) scale(0.8700 1)" font-size="62.85">)</text>
<text transform="translate(875.97 1381.88) scale(0.8700 1)" font-size="63.56" letter-spacing="5.30">110</text>
<text class="thin" transform="translate(854.57 1381.88) scale(0.8700 1)" font-size="63.56">(</text>
<text class="thin" transform="translate(980.01 1381.88) scale(0.8700 1)" font-size="63.56">)</text>
<text transform="translate(1004.54 1398.97) scale(0.8700 1)" font-size="64.97" letter-spacing="3.70">113</text>
<text class="thin" transform="translate(982.50 1398.97) scale(0.8700 1)" font-size="64.97">(</text>
<text class="thin" transform="translate(1106.28 1398.97) scale(0.8700 1)" font-size="64.97">)</text>
<text transform="translate(1141.75 1393.66) scale(0.8700 1)" font-size="65.11" letter-spacing="4.93">202</text>
<text class="thin" transform="translate(1120.99 1393.66) scale(0.8700 1)" font-size="65.11">(</text>
<text class="thin" transform="translate(1247.15 1393.66) scale(0.8700 1)" font-size="65.11">)</text>
<text transform="translate(1247.14 1330.38) scale(0.8700 1)" font-size="63.56" letter-spacing="6.21">018</text>
<text class="thin" transform="translate(1227.57 1330.38) scale(0.8700 1)" font-size="63.56">(</text>
<text class="thin" transform="translate(1354.31 1330.38) scale(0.8700 1)" font-size="63.56">)</text>
<text transform="translate(1346.27 1369.01) scale(0.8700 1)" font-size="60.45" letter-spacing="7.24">116</text>
<text class="thin" transform="translate(1325.34 1369.01) scale(0.8700 1)" font-size="60.45">(</text>
<text class="thin" transform="translate(1451.45 1369.01) scale(0.8700 1)" font-size="60.45">)</text>
<text transform="translate(1589.86 1395.50) scale(0.8700 1)" font-size="63.73" letter-spacing="5.99">122</text>
<text class="thin" transform="translate(1567.66 1395.50) scale(0.8700 1)" font-size="63.73">(</text>
<text class="thin" transform="translate(1693.57 1395.50) scale(0.8700 1)" font-size="63.73">)</text>
<text transform="translate(1726.80 1408.00) scale(0.8700 1)" font-size="64.02" letter-spacing="6.10">214</text>
<text class="thin" transform="translate(1707.55 1408.00) scale(0.8700 1)" font-size="64.02">(</text>
<text class="thin" transform="translate(1834.61 1408.00) scale(0.8700 1)" font-size="64.02">)</text>
<text transform="translate(1868.71 1419.68) scale(0.8700 1)" font-size="62.99" letter-spacing="5.40">300</text>
<text class="thin" transform="translate(1847.60 1419.68) scale(0.8700 1)" font-size="62.99">(</text>
<text class="thin" transform="translate(1974.85 1419.68) scale(0.8700 1)" font-size="62.99">)</text>
</g>
<g font-family="'Liberation Sans',Arial,sans-serif" fill="#000">
<text transform="translate(563.11 711.99) scale(0.8700 1)" font-size="62.15" letter-spacing="6.78">110</text>
<text transform="translate(859.59 766.79) scale(0.8700 1)" font-size="62.29" letter-spacing="6.29">101</text>
<text transform="translate(956.70 856.08) scale(0.8700 1)" font-size="63.98" letter-spacing="5.52">200</text>
<text transform="translate(1111.57 815.70) scale(0.8700 1)" font-size="66.72" letter-spacing="4.05">111</text>
<text transform="translate(1184.27 916.79) scale(0.8700 1)" font-size="62.29" letter-spacing="6.86">210</text>
<text transform="translate(1472.32 747.00) scale(0.8700 1)" font-size="65.88" letter-spacing="5.33">211</text>
<text transform="translate(1577.17 824.17) scale(0.8700 1)" font-size="64.69" letter-spacing="5.25">220</text>
<text transform="translate(1685.63 871.68) scale(0.8700 1)" font-size="63.98" letter-spacing="5.69">002</text>
<text transform="translate(1847.41 860.08) scale(0.8700 1)" font-size="63.13" letter-spacing="6.38">310</text>
</g>
<g font-family="'Liberation Sans','Noto Sans CJK SC',sans-serif" font-weight="100" fill="#000">
<text transform="translate(473.59 710.05) scale(1.5673 1)" font-size="52.23">（</text>
<text transform="translate(671.16 710.05) scale(1.4402 1)" font-size="52.23">）</text>
<text transform="translate(771.49 764.84) scale(1.5641 1)" font-size="52.34">（</text>
<text transform="translate(967.46 764.84) scale(1.4373 1)" font-size="52.34">）</text>
<text transform="translate(871.49 854.02) scale(1.5269 1)" font-size="53.61">（</text>
<text transform="translate(1066.46 854.02) scale(1.4031 1)" font-size="53.61">）</text>
<text transform="translate(1024.99 812.96) scale(1.5090 1)" font-size="54.25">（</text>
<text transform="translate(1221.16 812.96) scale(1.3867 1)" font-size="54.25">）</text>
<text transform="translate(1097.49 914.84) scale(1.5641 1)" font-size="52.34">（</text>
<text transform="translate(1293.76 914.84) scale(1.4373 1)" font-size="52.34">）</text>
<text transform="translate(1386.19 744.25) scale(1.5061 1)" font-size="54.35">（</text>
<text transform="translate(1582.36 744.25) scale(1.3840 1)" font-size="54.35">）</text>
<text transform="translate(1494.79 822.07) scale(1.5120 1)" font-size="54.14">（</text>
<text transform="translate(1687.06 822.07) scale(1.3894 1)" font-size="54.14">）</text>
<text transform="translate(1599.39 869.62) scale(1.5269 1)" font-size="53.61">（</text>
<text transform="translate(1793.36 869.62) scale(1.4031 1)" font-size="53.61">）</text>
<text transform="translate(1760.69 858.08) scale(1.5453 1)" font-size="52.97">（</text>
<text transform="translate(1956.76 858.08) scale(1.4200 1)" font-size="52.97">）</text>
</g>
<text transform="translate(85.93 111.30) scale(1.0889 1)" font-family="'Liberation Serif','Times New Roman',serif" font-size="92.98" fill="#000">■</text>
<text transform="translate(75.08 217.00) scale(1.0208 1)" font-family="'Liberation Serif','Times New Roman',serif" font-size="82.05" fill="#000">▲</text>
<text transform="translate(164.82 111.6) scale(1.0508 1)" font-family="'Liberation Serif','Times New Roman',serif" font-size="71.5" fill="#000">Calcite</text>
<text transform="translate(174.61 217.8) scale(1.0615 1)" font-family="'Liberation Serif','Times New Roman',serif" font-size="71.5" fill="#000">Rutile</text>
<g stroke-width="7">
<line x1="1520" y1="102" x2="1681" y2="102" stroke="#ff00ff"/>
<line x1="1520" y1="211" x2="1681" y2="211" stroke="#ff0000"/>
<line x1="1520" y1="319" x2="1681" y2="319" stroke="#000"/>
</g>
<g font-family="'Liberation Serif','Times New Roman',serif" font-size="68" fill="#000">
<text x="1697.5" y="125" style="font-kerning:none">CaCO<tspan font-size="39" dy="27">3</tspan><tspan dy="-27" dx="1.7">-T</tspan><tspan dx="1.5">iO</tspan><tspan font-size="39" dy="27" dx="1">2</tspan></text>
<text x="1695.6" y="234.2" style="font-kerning:none">T<tspan dx="1">iO</tspan><tspan font-size="39" dy="27.6" dx="-2.2">2</tspan></text>
<text x="1694.6" y="342.6">CaCO<tspan font-size="39" dy="27.3">3</tspan></text>
</g>
</svg></body></html>
